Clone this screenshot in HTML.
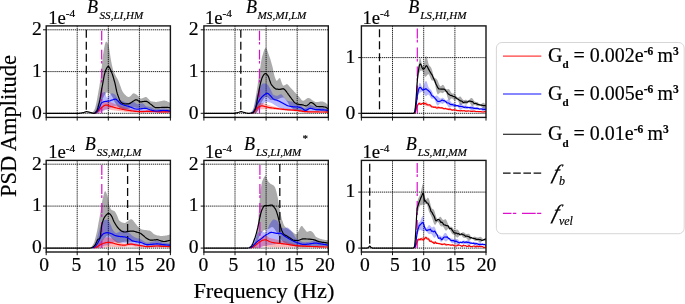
<!DOCTYPE html>
<html lang="en">
<head>
<meta charset="utf-8">
<title>PSD Amplitude vs Frequency</title>
<style>html,body{margin:0;padding:0;background:#fff}svg{display:block;will-change:transform}text{fill:#000;stroke:#000;stroke-width:.18px;font-family:"Liberation Serif","DejaVu Serif",serif}</style>
</head>
<body>
<svg width="685" height="304" viewBox="0 0 685 304">
<rect width="685" height="304" fill="#fff"/>
<g>
<clipPath id="cp0"><rect x="46.2" y="25.9" width="124.2" height="91.5"/></clipPath>
<path d="M77.2 25.9 V117.4 M108.3 25.9 V117.4 M139.4 25.9 V117.4 M46.2 113.3 H170.4 M46.2 71.6 H170.4 M46.2 29.8 H170.4" stroke="#000" stroke-width="0.85" stroke-dasharray="1.35 0.7" fill="none"/>
<g clip-path="url(#cp0)">
<path d="M46.2 113.3 L46.8 113.3 L47.4 113.3 L48.1 113.3 L48.7 113.3 L49.3 113.3 L49.9 113.3 L50.6 113.3 L51.2 113.3 L51.8 113.3 L52.4 113.3 L53.1 113.3 L53.7 113.3 L54.3 113.3 L54.9 113.3 L55.6 113.3 L56.2 113.3 L56.8 113.3 L57.4 113.3 L58.1 113.3 L58.7 113.3 L59.3 113.3 L59.9 113.3 L60.6 113.3 L61.2 113.3 L61.8 113.3 L62.4 113.3 L63.1 113.3 L63.7 113.3 L64.3 113.3 L64.9 113.3 L65.5 113.3 L66.2 113.3 L66.8 113.3 L67.4 113.3 L68 113.3 L68.7 113.3 L69.3 113.3 L69.9 113.3 L70.5 113.3 L71.2 113.3 L71.8 113.3 L72.4 113.3 L73 113.3 L73.7 113.3 L74.3 113.3 L74.9 113.3 L75.5 113.3 L76.2 113.3 L76.8 113.3 L77.4 113.3 L78 113.3 L78.7 113.3 L79.3 113.3 L79.9 113.3 L80.5 113.3 L81.2 113.3 L81.8 113.3 L82.4 113.3 L83 113.3 L83.6 113.3 L84.3 113.3 L84.9 113.3 L85.5 113.3 L86.1 113.3 L86.8 113.3 L87.4 113.3 L88 113.3 L88.6 113.3 L89.3 113.3 L89.9 113.3 L90.5 113.3 L91.1 113.3 L91.8 113.1 L92.4 112.6 L93 111.8 L93.6 110.9 L94.3 109.9 L94.9 108.6 L95.5 106.6 L96.1 103.9 L96.8 100.7 L97.4 97.3 L98 94 L98.6 90.5 L99.3 86.8 L99.9 82.7 L100.5 78.4 L101.1 73.5 L101.7 67.3 L102.4 60.8 L103 55.1 L103.6 51.2 L104.2 47.7 L104.9 44.6 L105.5 42.4 L106.1 41.5 L106.7 41.9 L107.4 42.8 L108 44.1 L108.6 45.7 L109.2 48.6 L109.9 52.9 L110.5 57.3 L111.1 60.8 L111.7 64 L112.4 67 L113 69.4 L113.6 71.3 L114.2 72.8 L114.9 74.1 L115.5 75.3 L116.1 76.4 L116.7 77.5 L117.3 78.6 L118 79.8 L118.6 81.2 L119.2 82.8 L119.8 84.5 L120.5 86.3 L121.1 88.1 L121.7 89.7 L122.3 91.1 L123 92.2 L123.6 93 L124.2 93.7 L124.8 94.4 L125.5 95.1 L126.1 95.7 L126.7 96.2 L127.3 96.6 L128 96.9 L128.6 97.1 L129.2 97 L129.8 96.6 L130.5 96.1 L131.1 95.4 L131.7 94.7 L132.3 94.1 L133 93.6 L133.6 93.3 L134.2 93.4 L134.8 93.6 L135.4 93.9 L136.1 94.3 L136.7 94.8 L137.3 95.3 L137.9 95.8 L138.6 96.6 L139.2 97.4 L139.8 98.1 L140.4 98.5 L141.1 98.5 L141.7 98.4 L142.3 98.2 L142.9 97.9 L143.6 97.7 L144.2 97.4 L144.8 97.2 L145.4 97.1 L146.1 97.1 L146.7 97.3 L147.3 97.8 L147.9 98.4 L148.6 99.1 L149.2 99.8 L149.8 100.4 L150.4 100.9 L151.1 101.2 L151.7 101.4 L152.3 101.5 L152.9 101.6 L153.5 101.7 L154.2 101.8 L154.8 101.8 L155.4 101.9 L156 101.9 L156.7 101.9 L157.3 101.8 L157.9 101.7 L158.5 101.6 L159.2 101.5 L159.8 101.3 L160.4 101.2 L161 101 L161.7 100.9 L162.3 100.8 L162.9 100.7 L163.5 100.6 L164.2 100.6 L164.8 100.6 L165.4 100.7 L166 100.9 L166.7 101.1 L167.3 101.4 L167.9 101.7 L168.5 102 L169.2 102.3 L169.8 102.7 L170.4 103.1 L170.4 112.1 L169.8 112.1 L169.2 112.1 L168.5 112.1 L167.9 112.1 L167.3 112.1 L166.7 112.1 L166 112.1 L165.4 112 L164.8 112 L164.2 112 L163.5 112 L162.9 112 L162.3 112 L161.7 111.9 L161 111.9 L160.4 111.9 L159.8 111.9 L159.2 111.8 L158.5 111.8 L157.9 111.8 L157.3 111.7 L156.7 111.7 L156 111.7 L155.4 111.6 L154.8 111.4 L154.2 111.2 L153.5 111 L152.9 110.7 L152.3 110.5 L151.7 110.2 L151.1 109.9 L150.4 109.7 L149.8 109.4 L149.2 109.3 L148.6 109.2 L147.9 109.1 L147.3 109 L146.7 108.9 L146.1 108.9 L145.4 108.8 L144.8 108.8 L144.2 108.7 L143.6 108.7 L142.9 108.6 L142.3 108.6 L141.7 108.6 L141.1 108.5 L140.4 108.4 L139.8 108.4 L139.2 108.3 L138.6 108.2 L137.9 108.1 L137.3 108 L136.7 107.9 L136.1 107.8 L135.4 107.7 L134.8 107.6 L134.2 107.6 L133.6 107.5 L133 107.5 L132.3 107.6 L131.7 107.7 L131.1 107.8 L130.5 108 L129.8 108.2 L129.2 108.4 L128.6 108.6 L128 108.8 L127.3 109.1 L126.7 109.2 L126.1 109.4 L125.5 109.5 L124.8 109.6 L124.2 109.6 L123.6 109.5 L123 109.4 L122.3 109.2 L121.7 108.9 L121.1 108.6 L120.5 108.2 L119.8 107.8 L119.2 107.4 L118.6 106.9 L118 106.5 L117.3 105.8 L116.7 105.1 L116.1 104.2 L115.5 103.2 L114.9 102.2 L114.2 101.2 L113.6 99.9 L113 98.5 L112.4 97.1 L111.7 95.9 L111.1 94.9 L110.5 94.3 L109.9 93.8 L109.2 93.3 L108.6 92.9 L108 92.6 L107.4 92.5 L106.7 92.5 L106.1 92.9 L105.5 93.7 L104.9 94.7 L104.2 95.8 L103.6 97 L103 98.2 L102.4 99.9 L101.7 102 L101.1 104.1 L100.5 106.1 L99.9 107.8 L99.3 109 L98.6 110.2 L98 111.3 L97.4 112.2 L96.8 112.9 L96.1 113.3 L95.5 113.3 L94.9 113.3 L94.3 113.3 L93.6 113.3 L93 113.3 L92.4 113.3 L91.8 113.3 L91.1 113.3 L90.5 113.3 L89.9 113.3 L89.3 113.3 L88.6 113.3 L88 113.3 L87.4 113.3 L86.8 113.3 L86.1 113.3 L85.5 113.3 L84.9 113.3 L84.3 113.3 L83.6 113.3 L83 113.3 L82.4 113.3 L81.8 113.3 L81.2 113.3 L80.5 113.3 L79.9 113.3 L79.3 113.3 L78.7 113.3 L78 113.3 L77.4 113.3 L76.8 113.3 L76.2 113.3 L75.5 113.3 L74.9 113.3 L74.3 113.3 L73.7 113.3 L73 113.3 L72.4 113.3 L71.8 113.3 L71.2 113.3 L70.5 113.3 L69.9 113.3 L69.3 113.3 L68.7 113.3 L68 113.3 L67.4 113.3 L66.8 113.3 L66.2 113.3 L65.5 113.3 L64.9 113.3 L64.3 113.3 L63.7 113.3 L63.1 113.3 L62.4 113.3 L61.8 113.3 L61.2 113.3 L60.6 113.3 L59.9 113.3 L59.3 113.3 L58.7 113.3 L58.1 113.3 L57.4 113.3 L56.8 113.3 L56.2 113.3 L55.6 113.3 L54.9 113.3 L54.3 113.3 L53.7 113.3 L53.1 113.3 L52.4 113.3 L51.8 113.3 L51.2 113.3 L50.6 113.3 L49.9 113.3 L49.3 113.3 L48.7 113.3 L48.1 113.3 L47.4 113.3 L46.8 113.3 L46.2 113.3 Z" fill="rgba(0,0,0,0.33)"/>
<path d="M46.2 113.3 L46.8 113.3 L47.4 113.3 L48.1 113.3 L48.7 113.3 L49.3 113.3 L49.9 113.3 L50.6 113.3 L51.2 113.3 L51.8 113.3 L52.4 113.3 L53.1 113.3 L53.7 113.3 L54.3 113.3 L54.9 113.3 L55.6 113.3 L56.2 113.3 L56.8 113.3 L57.4 113.3 L58.1 113.3 L58.7 113.3 L59.3 113.3 L59.9 113.3 L60.6 113.3 L61.2 113.3 L61.8 113.3 L62.4 113.3 L63.1 113.3 L63.7 113.3 L64.3 113.3 L64.9 113.3 L65.5 113.3 L66.2 113.3 L66.8 113.3 L67.4 113.3 L68 113.3 L68.7 113.3 L69.3 113.3 L69.9 113.3 L70.5 113.3 L71.2 113.3 L71.8 113.3 L72.4 113.3 L73 113.3 L73.7 113.3 L74.3 113.3 L74.9 113.3 L75.5 113.3 L76.2 113.3 L76.8 113.3 L77.4 113.3 L78 113.3 L78.7 113.3 L79.3 113.3 L79.9 113.3 L80.5 113.3 L81.2 113.3 L81.8 113.3 L82.4 113.3 L83 113.3 L83.6 113.3 L84.3 113.3 L84.9 113.3 L85.5 113.3 L86.1 113.3 L86.8 113.3 L87.4 113.3 L88 113.3 L88.6 113.3 L89.3 113.3 L89.9 113.3 L90.5 113.3 L91.1 113.3 L91.8 113.3 L92.4 113.3 L93 113.3 L93.6 113.3 L94.3 112.8 L94.9 111.9 L95.5 110.7 L96.1 109.5 L96.8 107.7 L97.4 105.5 L98 103.2 L98.6 101 L99.3 99.3 L99.9 97.6 L100.5 96 L101.1 94.7 L101.7 93.7 L102.4 93.1 L103 92.7 L103.6 92.3 L104.2 92.1 L104.9 92.1 L105.5 93.6 L106.1 95.9 L106.7 97.6 L107.4 97.8 L108 97.1 L108.6 96.2 L109.2 95.4 L109.9 94.8 L110.5 94.2 L111.1 93.7 L111.7 93.3 L112.4 93.3 L113 93.5 L113.6 93.8 L114.2 94.1 L114.9 94.5 L115.5 95 L116.1 95.8 L116.7 96.9 L117.3 98 L118 98.9 L118.6 99.4 L119.2 99.7 L119.8 100 L120.5 100.3 L121.1 100.5 L121.7 100.7 L122.3 100.9 L123 101.2 L123.6 101.4 L124.2 101.7 L124.8 101.9 L125.5 102.2 L126.1 102.5 L126.7 102.7 L127.3 102.8 L128 102.9 L128.6 102.9 L129.2 102.8 L129.8 102.6 L130.5 102.4 L131.1 102.1 L131.7 101.9 L132.3 101.7 L133 101.7 L133.6 101.7 L134.2 102 L134.8 102.5 L135.4 103 L136.1 103.5 L136.7 103.9 L137.3 104.2 L137.9 104.1 L138.6 104.1 L139.2 103.9 L139.8 103.8 L140.4 103.6 L141.1 103.5 L141.7 103.4 L142.3 103.3 L142.9 103.4 L143.6 103.9 L144.2 104.5 L144.8 105.2 L145.4 105.8 L146.1 106.2 L146.7 106.4 L147.3 106.5 L147.9 106.6 L148.6 106.7 L149.2 106.8 L149.8 106.9 L150.4 107.1 L151.1 107.2 L151.7 107.5 L152.3 107.8 L152.9 108.1 L153.5 108.4 L154.2 108.7 L154.8 108.9 L155.4 109.1 L156 109.2 L156.7 109.2 L157.3 109.1 L157.9 109.1 L158.5 109 L159.2 108.9 L159.8 108.8 L160.4 108.7 L161 108.7 L161.7 108.6 L162.3 108.6 L162.9 108.5 L163.5 108.6 L164.2 108.6 L164.8 108.6 L165.4 108.7 L166 108.7 L166.7 108.8 L167.3 108.9 L167.9 109 L168.5 109.2 L169.2 109.3 L169.8 109.4 L170.4 109.6 L170.4 112.5 L169.8 112.5 L169.2 112.5 L168.5 112.5 L167.9 112.5 L167.3 112.5 L166.7 112.5 L166 112.5 L165.4 112.5 L164.8 112.5 L164.2 112.5 L163.5 112.5 L162.9 112.5 L162.3 112.5 L161.7 112.5 L161 112.5 L160.4 112.5 L159.8 112.5 L159.2 112.5 L158.5 112.5 L157.9 112.5 L157.3 112.4 L156.7 112.4 L156 112.4 L155.4 112.4 L154.8 112.4 L154.2 112.4 L153.5 112.4 L152.9 112.4 L152.3 112.4 L151.7 112.4 L151.1 112.4 L150.4 112.4 L149.8 112.3 L149.2 112.3 L148.6 112.3 L147.9 112.3 L147.3 112.3 L146.7 112.3 L146.1 112.3 L145.4 112.3 L144.8 112.2 L144.2 112.2 L143.6 112.2 L142.9 112.2 L142.3 112.2 L141.7 112.2 L141.1 112.1 L140.4 112.1 L139.8 112.1 L139.2 112.1 L138.6 112.1 L137.9 112 L137.3 112 L136.7 111.9 L136.1 111.8 L135.4 111.7 L134.8 111.6 L134.2 111.5 L133.6 111.4 L133 111.3 L132.3 111.2 L131.7 111 L131.1 110.9 L130.5 110.8 L129.8 110.6 L129.2 110.5 L128.6 110.4 L128 110.3 L127.3 110.1 L126.7 110 L126.1 109.8 L125.5 109.7 L124.8 109.5 L124.2 109.4 L123.6 109.2 L123 109 L122.3 108.8 L121.7 108.6 L121.1 108.5 L120.5 108.3 L119.8 108 L119.2 107.7 L118.6 107.4 L118 107 L117.3 106.7 L116.7 106.5 L116.1 106.3 L115.5 106.3 L114.9 106.3 L114.2 106.4 L113.6 106.6 L113 106.8 L112.4 107.1 L111.7 107.5 L111.1 107.8 L110.5 108.1 L109.9 108.5 L109.2 108.8 L108.6 109.1 L108 109.3 L107.4 109.5 L106.7 109.7 L106.1 109.9 L105.5 110.1 L104.9 110.3 L104.2 110.5 L103.6 110.7 L103 110.9 L102.4 111.2 L101.7 111.4 L101.1 111.8 L100.5 112.2 L99.9 112.5 L99.3 112.9 L98.6 113.2 L98 113.3 L97.4 113.3 L96.8 113.3 L96.1 113.3 L95.5 113.3 L94.9 113.3 L94.3 113.3 L93.6 113.3 L93 113.3 L92.4 113.3 L91.8 113.3 L91.1 113.3 L90.5 113.3 L89.9 113.3 L89.3 113.3 L88.6 113.3 L88 113.3 L87.4 113.3 L86.8 113.3 L86.1 113.3 L85.5 113.3 L84.9 113.3 L84.3 113.3 L83.6 113.3 L83 113.3 L82.4 113.3 L81.8 113.3 L81.2 113.3 L80.5 113.3 L79.9 113.3 L79.3 113.3 L78.7 113.3 L78 113.3 L77.4 113.3 L76.8 113.3 L76.2 113.3 L75.5 113.3 L74.9 113.3 L74.3 113.3 L73.7 113.3 L73 113.3 L72.4 113.3 L71.8 113.3 L71.2 113.3 L70.5 113.3 L69.9 113.3 L69.3 113.3 L68.7 113.3 L68 113.3 L67.4 113.3 L66.8 113.3 L66.2 113.3 L65.5 113.3 L64.9 113.3 L64.3 113.3 L63.7 113.3 L63.1 113.3 L62.4 113.3 L61.8 113.3 L61.2 113.3 L60.6 113.3 L59.9 113.3 L59.3 113.3 L58.7 113.3 L58.1 113.3 L57.4 113.3 L56.8 113.3 L56.2 113.3 L55.6 113.3 L54.9 113.3 L54.3 113.3 L53.7 113.3 L53.1 113.3 L52.4 113.3 L51.8 113.3 L51.2 113.3 L50.6 113.3 L49.9 113.3 L49.3 113.3 L48.7 113.3 L48.1 113.3 L47.4 113.3 L46.8 113.3 L46.2 113.3 Z" fill="rgba(0,0,255,0.28)"/>
<path d="M46.2 113.3 L46.8 113.3 L47.4 113.3 L48.1 113.3 L48.7 113.3 L49.3 113.3 L49.9 113.3 L50.6 113.3 L51.2 113.3 L51.8 113.3 L52.4 113.3 L53.1 113.3 L53.7 113.3 L54.3 113.3 L54.9 113.3 L55.6 113.3 L56.2 113.3 L56.8 113.3 L57.4 113.3 L58.1 113.3 L58.7 113.3 L59.3 113.3 L59.9 113.3 L60.6 113.3 L61.2 113.3 L61.8 113.3 L62.4 113.3 L63.1 113.3 L63.7 113.3 L64.3 113.3 L64.9 113.3 L65.5 113.3 L66.2 113.3 L66.8 113.3 L67.4 113.3 L68 113.3 L68.7 113.3 L69.3 113.3 L69.9 113.3 L70.5 113.3 L71.2 113.3 L71.8 113.3 L72.4 113.3 L73 113.3 L73.7 113.3 L74.3 113.3 L74.9 113.3 L75.5 113.3 L76.2 113.3 L76.8 113.3 L77.4 113.3 L78 113.3 L78.7 113.3 L79.3 113.3 L79.9 113.3 L80.5 113.3 L81.2 113.3 L81.8 113.3 L82.4 113.3 L83 113.3 L83.6 113.3 L84.3 113.3 L84.9 113.3 L85.5 113.3 L86.1 113.3 L86.8 113.3 L87.4 113.3 L88 113.3 L88.6 113.3 L89.3 113.3 L89.9 113.3 L90.5 113.3 L91.1 113.3 L91.8 113.3 L92.4 113.3 L93 113.3 L93.6 113.3 L94.3 113.1 L94.9 112.7 L95.5 112.2 L96.1 111.6 L96.8 111 L97.4 110.2 L98 109.2 L98.6 108.2 L99.3 107.2 L99.9 106.3 L100.5 105.4 L101.1 104.5 L101.7 103.6 L102.4 102.9 L103 102.3 L103.6 101.9 L104.2 101.6 L104.9 101.3 L105.5 101.1 L106.1 100.9 L106.7 100.8 L107.4 100.8 L108 101 L108.6 101.2 L109.2 101.4 L109.9 101.8 L110.5 102.1 L111.1 102.4 L111.7 102.6 L112.4 102.9 L113 103.2 L113.6 103.4 L114.2 103.7 L114.9 104 L115.5 104.2 L116.1 104.5 L116.7 104.7 L117.3 104.9 L118 105.2 L118.6 105.4 L119.2 105.6 L119.8 105.8 L120.5 106 L121.1 106.2 L121.7 106.4 L122.3 106.6 L123 106.8 L123.6 107 L124.2 107.2 L124.8 107.3 L125.5 107.5 L126.1 107.7 L126.7 107.8 L127.3 108 L128 108.1 L128.6 108.3 L129.2 108.4 L129.8 108.6 L130.5 108.7 L131.1 108.9 L131.7 109 L132.3 109.2 L133 109.3 L133.6 109.5 L134.2 109.6 L134.8 109.7 L135.4 109.9 L136.1 110 L136.7 110.1 L137.3 110.2 L137.9 110.3 L138.6 110.3 L139.2 110.4 L139.8 110.4 L140.4 110.4 L141.1 110.4 L141.7 110.4 L142.3 110.4 L142.9 110.4 L143.6 110.3 L144.2 110.3 L144.8 110.3 L145.4 110.2 L146.1 110.2 L146.7 110.1 L147.3 110.1 L147.9 110.1 L148.6 110.1 L149.2 110 L149.8 110 L150.4 110 L151.1 110 L151.7 110 L152.3 110.1 L152.9 110.1 L153.5 110.2 L154.2 110.3 L154.8 110.3 L155.4 110.4 L156 110.5 L156.7 110.6 L157.3 110.6 L157.9 110.7 L158.5 110.8 L159.2 110.8 L159.8 110.8 L160.4 110.8 L161 110.8 L161.7 110.8 L162.3 110.8 L162.9 110.8 L163.5 110.8 L164.2 110.8 L164.8 110.8 L165.4 110.8 L166 110.8 L166.7 110.8 L167.3 110.8 L167.9 110.8 L168.5 110.7 L169.2 110.7 L169.8 110.7 L170.4 110.6 L170.4 112.7 L169.8 112.7 L169.2 112.7 L168.5 112.7 L167.9 112.7 L167.3 112.7 L166.7 112.7 L166 112.7 L165.4 112.7 L164.8 112.7 L164.2 112.7 L163.5 112.7 L162.9 112.7 L162.3 112.7 L161.7 112.7 L161 112.7 L160.4 112.7 L159.8 112.7 L159.2 112.7 L158.5 112.7 L157.9 112.7 L157.3 112.7 L156.7 112.7 L156 112.7 L155.4 112.7 L154.8 112.7 L154.2 112.7 L153.5 112.7 L152.9 112.7 L152.3 112.7 L151.7 112.7 L151.1 112.7 L150.4 112.7 L149.8 112.7 L149.2 112.7 L148.6 112.7 L147.9 112.7 L147.3 112.7 L146.7 112.6 L146.1 112.6 L145.4 112.6 L144.8 112.6 L144.2 112.6 L143.6 112.6 L142.9 112.6 L142.3 112.6 L141.7 112.6 L141.1 112.6 L140.4 112.6 L139.8 112.6 L139.2 112.6 L138.6 112.6 L137.9 112.6 L137.3 112.6 L136.7 112.6 L136.1 112.5 L135.4 112.5 L134.8 112.5 L134.2 112.5 L133.6 112.5 L133 112.5 L132.3 112.5 L131.7 112.5 L131.1 112.4 L130.5 112.4 L129.8 112.3 L129.2 112.3 L128.6 112.2 L128 112.2 L127.3 112.1 L126.7 112 L126.1 111.9 L125.5 111.9 L124.8 111.8 L124.2 111.7 L123.6 111.6 L123 111.5 L122.3 111.5 L121.7 111.4 L121.1 111.3 L120.5 111.2 L119.8 111.2 L119.2 111.1 L118.6 111 L118 110.9 L117.3 110.8 L116.7 110.8 L116.1 110.7 L115.5 110.6 L114.9 110.5 L114.2 110.4 L113.6 110.3 L113 110.2 L112.4 110.2 L111.7 110.1 L111.1 110 L110.5 109.8 L109.9 109.7 L109.2 109.6 L108.6 109.4 L108 109.3 L107.4 109.2 L106.7 109.2 L106.1 109.2 L105.5 109.3 L104.9 109.5 L104.2 109.8 L103.6 110.1 L103 110.4 L102.4 110.7 L101.7 111 L101.1 111.3 L100.5 111.6 L99.9 111.9 L99.3 112.3 L98.6 112.6 L98 112.9 L97.4 113.1 L96.8 113.3 L96.1 113.3 L95.5 113.3 L94.9 113.3 L94.3 113.3 L93.6 113.3 L93 113.3 L92.4 113.3 L91.8 113.3 L91.1 113.3 L90.5 113.3 L89.9 113.3 L89.3 113.3 L88.6 113.3 L88 113.3 L87.4 113.3 L86.8 113.3 L86.1 113.3 L85.5 113.3 L84.9 113.3 L84.3 113.3 L83.6 113.3 L83 113.3 L82.4 113.3 L81.8 113.3 L81.2 113.3 L80.5 113.3 L79.9 113.3 L79.3 113.3 L78.7 113.3 L78 113.3 L77.4 113.3 L76.8 113.3 L76.2 113.3 L75.5 113.3 L74.9 113.3 L74.3 113.3 L73.7 113.3 L73 113.3 L72.4 113.3 L71.8 113.3 L71.2 113.3 L70.5 113.3 L69.9 113.3 L69.3 113.3 L68.7 113.3 L68 113.3 L67.4 113.3 L66.8 113.3 L66.2 113.3 L65.5 113.3 L64.9 113.3 L64.3 113.3 L63.7 113.3 L63.1 113.3 L62.4 113.3 L61.8 113.3 L61.2 113.3 L60.6 113.3 L59.9 113.3 L59.3 113.3 L58.7 113.3 L58.1 113.3 L57.4 113.3 L56.8 113.3 L56.2 113.3 L55.6 113.3 L54.9 113.3 L54.3 113.3 L53.7 113.3 L53.1 113.3 L52.4 113.3 L51.8 113.3 L51.2 113.3 L50.6 113.3 L49.9 113.3 L49.3 113.3 L48.7 113.3 L48.1 113.3 L47.4 113.3 L46.8 113.3 L46.2 113.3 Z" fill="rgba(255,0,0,0.28)"/>
<path d="M86.3 29.7 V113.3" stroke="#0a0a0a" stroke-width="1.3" stroke-dasharray="8 4" fill="none"/>
<path d="M101.7 30.7 V113.3" stroke="#d810c8" stroke-width="1.2" stroke-dasharray="9.8 1.4 2.6 5.2" fill="none"/>
<path d="M94.9 113.2 L95.5 113 L96.1 112.7 L96.8 112.4 L97.4 111.9 L98 111.4 L98.6 110.8 L99.3 110.2 L99.9 109.5 L100.5 108.7 L101.1 108 L101.7 107.4 L102.4 106.9 L103 106.4 L103.6 106 L104.2 105.6 L104.9 105.3 L105.5 105.1 L106.1 105 L106.7 105.1 L107.4 105.2 L108 105.4 L108.6 105.7 L109.2 105.9 L109.9 106.2 L110.5 106.3 L111.1 106.5 L111.7 106.7 L112.4 106.9 L113 107.1 L113.6 107.2 L114.2 107.4 L114.9 107.6 L115.5 107.7 L116.1 107.9 L116.7 108 L117.3 108.2 L118 108.3 L118.6 108.5 L119.2 108.6 L119.8 108.7 L120.5 108.9 L121.1 109 L121.7 109.2 L122.3 109.3 L123 109.4 L123.6 109.5 L124.2 109.7 L124.8 109.8 L125.5 109.9 L126.1 110 L126.7 110.1 L127.3 110.2 L128 110.3 L128.6 110.4 L129.2 110.5 L129.8 110.6 L130.5 110.7 L131.1 110.8 L131.7 110.8 L132.3 110.9 L133 111 L133.6 111.1 L134.2 111.2 L134.8 111.3 L135.4 111.3 L136.1 111.4 L136.7 111.5 L137.3 111.5 L137.9 111.6 L138.6 111.6 L139.2 111.7 L139.8 111.7 L140.4 111.7 L141.1 111.7 L141.7 111.7 L142.3 111.6 L142.9 111.6 L143.6 111.6 L144.2 111.6 L144.8 111.5 L145.4 111.5 L146.1 111.4 L146.7 111.4 L147.3 111.4 L147.9 111.3 L148.6 111.3 L149.2 111.3 L149.8 111.3 L150.4 111.3 L151.1 111.3 L151.7 111.3 L152.3 111.3 L152.9 111.3 L153.5 111.4 L154.2 111.4 L154.8 111.5 L155.4 111.5 L156 111.6 L156.7 111.7 L157.3 111.7 L157.9 111.8 L158.5 111.8 L159.2 111.8 L159.8 111.8 L160.4 111.8 L161 111.8 L161.7 111.8 L162.3 111.8 L162.9 111.8 L163.5 111.8 L164.2 111.8 L164.8 111.8 L165.4 111.8 L166 111.8 L166.7 111.8 L167.3 111.8 L167.9 111.8 L168.5 111.8 L169.2 111.7 L169.8 111.7 L170.4 111.7" stroke="#f00" stroke-width="1.2" fill="none" stroke-linejoin="round"/>
<path d="M94.3 113.2 L94.9 113 L95.5 112.7 L96.1 112.3 L96.8 111.9 L97.4 111.1 L98 110.1 L98.6 109 L99.3 107.9 L99.9 106.5 L100.5 105.1 L101.1 103.8 L101.7 102.8 L102.4 102.3 L103 102.1 L103.6 101.8 L104.2 101.6 L104.9 101.5 L105.5 101.4 L106.1 101.3 L106.7 101.3 L107.4 101.2 L108 101.2 L108.6 101.1 L109.2 101 L109.9 100.8 L110.5 100.6 L111.1 100.3 L111.7 100.1 L112.4 99.9 L113 99.7 L113.6 99.5 L114.2 99.3 L114.9 99.2 L115.5 99.2 L116.1 99.3 L116.7 99.8 L117.3 100.4 L118 101 L118.6 101.6 L119.2 102.3 L119.8 103 L120.5 103.6 L121.1 103.9 L121.7 104.3 L122.3 104.5 L123 104.8 L123.6 105 L124.2 105.2 L124.8 105.4 L125.5 105.5 L126.1 105.7 L126.7 105.9 L127.3 106 L128 106.2 L128.6 106.4 L129.2 106.6 L129.8 106.8 L130.5 107.1 L131.1 107.3 L131.7 107.6 L132.3 107.8 L133 108.1 L133.6 108.3 L134.2 108.6 L134.8 108.8 L135.4 108.9 L136.1 109 L136.7 109.1 L137.3 109.2 L137.9 109.2 L138.6 109.1 L139.2 109.1 L139.8 109 L140.4 108.9 L141.1 108.8 L141.7 108.7 L142.3 108.6 L142.9 108.5 L143.6 108.5 L144.2 108.4 L144.8 108.4 L145.4 108.3 L146.1 108.4 L146.7 108.5 L147.3 108.7 L147.9 109 L148.6 109.3 L149.2 109.5 L149.8 109.8 L150.4 110 L151.1 110.1 L151.7 110.3 L152.3 110.5 L152.9 110.6 L153.5 110.7 L154.2 110.9 L154.8 111 L155.4 111 L156 111.1 L156.7 111 L157.3 111 L157.9 111 L158.5 110.9 L159.2 110.8 L159.8 110.8 L160.4 110.7 L161 110.6 L161.7 110.6 L162.3 110.5 L162.9 110.5 L163.5 110.5 L164.2 110.5 L164.8 110.5 L165.4 110.6 L166 110.6 L166.7 110.6 L167.3 110.7 L167.9 110.7 L168.5 110.8 L169.2 110.9 L169.8 111 L170.4 111.1" stroke="#00f" stroke-width="1.2" fill="none" stroke-linejoin="round"/>
<path d="M46.2 113.3 L46.8 113.3 L47.4 113.3 L48.1 113.3 L48.7 113.3 L49.3 113.3 L49.9 113.3 L50.6 113.3 L51.2 113.3 L51.8 113.3 L52.4 113.3 L53.1 113.3 L53.7 113.3 L54.3 113.3 L54.9 113.3 L55.6 113.3 L56.2 113.3 L56.8 113.3 L57.4 113.3 L58.1 113.3 L58.7 113.3 L59.3 113.3 L59.9 113.3 L60.6 113.3 L61.2 113.3 L61.8 113.3 L62.4 113.3 L63.1 113.3 L63.7 113.3 L64.3 113.3 L64.9 113.3 L65.5 113.3 L66.2 113.3 L66.8 113.3 L67.4 113.3 L68 113.3 L68.7 113.3 L69.3 113.3 L69.9 113.3 L70.5 113.3 L71.2 113.3 L71.8 113.3 L72.4 113.3 L73 113.3 L73.7 113.3 L74.3 113.3 L74.9 113.3 L75.5 113.3 L76.2 113.3 L76.8 113.3 L77.4 113.3 L78 113.3 L78.7 113.3 L79.3 113.3 L79.9 113.2 L80.5 113.1 L81.2 113 L81.8 112.9 L82.4 112.8 L83 112.6 L83.6 112.5 L84.3 112.3 L84.9 112.1 L85.5 111.9 L86.1 111.7 L86.8 111.7 L87.4 111.8 L88 111.9 L88.6 112.1 L89.3 112.2 L89.9 112.4 L90.5 112.6 L91.1 112.7 L91.8 112.9 L92.4 113.1 L93 113.2 L93.6 113.3 L94.3 113.3 L94.9 113 L95.5 112.5 L96.1 111.7 L96.8 110.9 L97.4 109.4 L98 107.5 L98.6 105.1 L99.3 102.7 L99.9 99.9 L100.5 96.4 L101.1 92.7 L101.7 89 L102.4 85.5 L103 82.2 L103.6 78.8 L104.2 75.5 L104.9 72.8 L105.5 70.8 L106.1 69.4 L106.7 68.1 L107.4 67 L108 66.5 L108.6 66.5 L109.2 67.2 L109.9 68.4 L110.5 69.7 L111.1 71 L111.7 72.6 L112.4 74.4 L113 76.3 L113.6 78.3 L114.2 80.5 L114.9 82.9 L115.5 85.7 L116.1 88.6 L116.7 91.4 L117.3 93.7 L118 95.6 L118.6 97.3 L119.2 98.9 L119.8 100.4 L120.5 101.5 L121.1 102.3 L121.7 102.7 L122.3 103.1 L123 103.4 L123.6 103.7 L124.2 103.9 L124.8 103.9 L125.5 104 L126.1 103.9 L126.7 103.9 L127.3 103.9 L128 103.8 L128.6 103.8 L129.2 103.7 L129.8 103.4 L130.5 103.1 L131.1 102.6 L131.7 102.2 L132.3 101.7 L133 101.3 L133.6 101 L134.2 100.6 L134.8 100.2 L135.4 99.9 L136.1 99.8 L136.7 99.8 L137.3 100.1 L137.9 100.5 L138.6 100.9 L139.2 101.4 L139.8 101.7 L140.4 101.9 L141.1 101.9 L141.7 101.8 L142.3 101.7 L142.9 101.6 L143.6 101.5 L144.2 101.4 L144.8 101.3 L145.4 101.3 L146.1 101.3 L146.7 101.4 L147.3 101.7 L147.9 102.1 L148.6 102.5 L149.2 103 L149.8 103.6 L150.4 104.1 L151.1 104.5 L151.7 104.9 L152.3 105.4 L152.9 106 L153.5 106.5 L154.2 106.9 L154.8 107.3 L155.4 107.6 L156 107.7 L156.7 107.7 L157.3 107.7 L157.9 107.7 L158.5 107.6 L159.2 107.6 L159.8 107.5 L160.4 107.5 L161 107.5 L161.7 107.4 L162.3 107.4 L162.9 107.3 L163.5 107.3 L164.2 107.3 L164.8 107.3 L165.4 107.3 L166 107.3 L166.7 107.4 L167.3 107.4 L167.9 107.4 L168.5 107.5 L169.2 107.6 L169.8 107.6 L170.4 107.7" stroke="#000" stroke-width="1.2" fill="none" stroke-linejoin="round"/>
</g>
<rect x="46.2" y="25.9" width="124.2" height="91.5" fill="none" stroke="#161616" stroke-width="1.4"/>
<path d="M46.2 117.4 v3.2 M77.2 117.4 v3.2 M108.3 117.4 v3.2 M139.4 117.4 v3.2 M170.4 117.4 v3.2 M46.2 113.3 h-3.2 M46.2 71.6 h-3.2 M46.2 29.8 h-3.2" stroke="#111" stroke-width="1" fill="none"/>
</g>
<g>
<clipPath id="cp1"><rect x="203.9" y="25.9" width="124.4" height="91.5"/></clipPath>
<path d="M235 25.9 V117.4 M266.1 25.9 V117.4 M297.2 25.9 V117.4 M203.9 113.3 H328.3 M203.9 71.6 H328.3 M203.9 29.8 H328.3" stroke="#000" stroke-width="0.85" stroke-dasharray="1.35 0.7" fill="none"/>
<g clip-path="url(#cp1)">
<path d="M203.9 113.3 L204.5 113.3 L205.2 113.3 L205.8 113.3 L206.4 113.3 L207 113.3 L207.7 113.3 L208.3 113.3 L208.9 113.3 L209.5 113.3 L210.2 113.3 L210.8 113.3 L211.4 113.3 L212 113.3 L212.7 113.3 L213.3 113.3 L213.9 113.3 L214.5 113.3 L215.2 113.3 L215.8 113.3 L216.4 113.3 L217 113.3 L217.7 113.3 L218.3 113.3 L218.9 113.3 L219.5 113.3 L220.2 113.3 L220.8 113.3 L221.4 113.3 L222 113.3 L222.7 113.3 L223.3 113.3 L223.9 113.3 L224.5 113.3 L225.2 113.3 L225.8 113.3 L226.4 113.3 L227 113.3 L227.7 113.3 L228.3 113.3 L228.9 113.3 L229.5 113.3 L230.2 113.3 L230.8 113.3 L231.4 113.3 L232 113.3 L232.7 113.3 L233.3 113.3 L233.9 113.3 L234.5 113.3 L235.2 113.3 L235.8 113.3 L236.4 113.3 L237 113.3 L237.7 113.3 L238.3 113.3 L238.9 113.3 L239.5 113.3 L240.2 113.3 L240.8 113.3 L241.4 113.3 L242 113.3 L242.7 113.3 L243.3 113.3 L243.9 113.3 L244.5 113.3 L245.2 113.3 L245.8 113.3 L246.4 113.3 L247 113.3 L247.7 113.3 L248.3 113.3 L248.9 113.3 L249.5 113.3 L250.2 113.1 L250.8 112.6 L251.4 111.8 L252 110.9 L252.7 109.9 L253.3 108.6 L253.9 106.5 L254.5 103.6 L255.2 100.2 L255.8 96.6 L256.4 93.1 L257 89 L257.7 84.7 L258.3 80.2 L258.9 75.9 L259.5 71.9 L260.2 67.8 L260.8 63.8 L261.4 60 L262 57 L262.7 54.8 L263.3 52.7 L263.9 50.8 L264.5 49.2 L265.2 48.2 L265.8 47.8 L266.4 48.3 L267 49.6 L267.7 51.4 L268.3 53.2 L268.9 54.9 L269.5 56.7 L270.2 58.6 L270.8 60.7 L271.4 62.8 L272 65.1 L272.7 67.6 L273.3 70.6 L273.9 73.6 L274.5 75.9 L275.2 77.9 L275.8 79.6 L276.4 80.7 L277 80.7 L277.7 80.1 L278.3 79.2 L278.9 78.4 L279.5 77.9 L280.2 78.2 L280.8 79.9 L281.4 81.8 L282 83.5 L282.7 85.1 L283.3 85.8 L283.9 85.6 L284.5 85.3 L285.2 84.9 L285.8 84.5 L286.4 84.2 L287 84.1 L287.7 84.4 L288.3 85 L288.9 85.7 L289.5 86.5 L290.2 87.3 L290.8 87.9 L291.4 88.6 L292 89.2 L292.7 89.9 L293.3 90.6 L293.9 91.3 L294.5 92 L295.2 92.6 L295.8 93.3 L296.4 93.9 L297 94.6 L297.7 95.2 L298.3 95.9 L298.9 96.5 L299.5 97.2 L300.2 98 L300.8 98.9 L301.4 99.7 L302 100.3 L302.7 100.7 L303.3 100.8 L303.9 100.6 L304.5 100.2 L305.2 99.7 L305.8 99.2 L306.4 98.8 L307 98.4 L307.7 98.1 L308.3 97.9 L308.9 98 L309.5 98.2 L310.2 98.6 L310.8 99 L311.4 99.5 L312 100 L312.7 100.4 L313.3 100.8 L313.9 101.2 L314.5 101.6 L315.2 101.9 L315.8 102.1 L316.4 102.1 L317 102 L317.7 101.9 L318.3 101.9 L318.9 101.8 L319.5 101.7 L320.2 101.6 L320.8 101.5 L321.4 101.5 L322 101.5 L322.7 101.5 L323.3 101.7 L323.9 101.9 L324.5 102.2 L325.2 102.5 L325.8 102.9 L326.4 103.4 L327 104 L327.7 104.7 L328.3 105.4 L328.3 112.5 L327.7 112.3 L327 112.1 L326.4 112 L325.8 111.8 L325.2 111.6 L324.5 111.5 L323.9 111.4 L323.3 111.3 L322.7 111.2 L322 111.1 L321.4 111 L320.8 111 L320.2 110.9 L319.5 110.9 L318.9 110.8 L318.3 110.8 L317.7 110.7 L317 110.6 L316.4 110.5 L315.8 110.4 L315.2 110.2 L314.5 109.9 L313.9 109.6 L313.3 109.2 L312.7 108.9 L312 108.6 L311.4 108.4 L310.8 108.3 L310.2 108.5 L309.5 109 L308.9 109.6 L308.3 110.3 L307.7 111 L307 111.6 L306.4 112 L305.8 112.1 L305.2 112.1 L304.5 112.1 L303.9 112 L303.3 112 L302.7 111.9 L302 111.8 L301.4 111.7 L300.8 111.6 L300.2 111.5 L299.5 111.4 L298.9 111.2 L298.3 111.1 L297.7 111 L297 110.8 L296.4 110.6 L295.8 110.4 L295.2 110.2 L294.5 109.9 L293.9 109.5 L293.3 109.2 L292.7 108.8 L292 108.3 L291.4 107.9 L290.8 107.3 L290.2 106.6 L289.5 105.6 L288.9 104.6 L288.3 103.4 L287.7 102.3 L287 101.4 L286.4 100.6 L285.8 99.8 L285.2 99 L284.5 98.2 L283.9 97.7 L283.3 97.5 L282.7 97.5 L282 97.6 L281.4 97.8 L280.8 98.1 L280.2 98.3 L279.5 98.6 L278.9 98.9 L278.3 99.1 L277.7 99.4 L277 99.5 L276.4 99.6 L275.8 99.7 L275.2 99.7 L274.5 99.8 L273.9 99.9 L273.3 99.9 L272.7 99.9 L272 100 L271.4 100 L270.8 100 L270.2 99.7 L269.5 99.2 L268.9 98.6 L268.3 98 L267.7 97.4 L267 97 L266.4 96.7 L265.8 96.7 L265.2 97 L264.5 97.7 L263.9 98.5 L263.3 99.4 L262.7 100.4 L262 101.4 L261.4 102.7 L260.8 104.3 L260.2 105.9 L259.5 107.4 L258.9 108.7 L258.3 109.7 L257.7 110.7 L257 111.6 L256.4 112.4 L255.8 113 L255.2 113.3 L254.5 113.3 L253.9 113.3 L253.3 113.3 L252.7 113.3 L252 113.3 L251.4 113.3 L250.8 113.3 L250.2 113.3 L249.5 113.3 L248.9 113.3 L248.3 113.3 L247.7 113.3 L247 113.3 L246.4 113.3 L245.8 113.3 L245.2 113.3 L244.5 113.3 L243.9 113.3 L243.3 113.3 L242.7 113.3 L242 113.3 L241.4 113.3 L240.8 113.3 L240.2 113.3 L239.5 113.3 L238.9 113.3 L238.3 113.3 L237.7 113.3 L237 113.3 L236.4 113.3 L235.8 113.3 L235.2 113.3 L234.5 113.3 L233.9 113.3 L233.3 113.3 L232.7 113.3 L232 113.3 L231.4 113.3 L230.8 113.3 L230.2 113.3 L229.5 113.3 L228.9 113.3 L228.3 113.3 L227.7 113.3 L227 113.3 L226.4 113.3 L225.8 113.3 L225.2 113.3 L224.5 113.3 L223.9 113.3 L223.3 113.3 L222.7 113.3 L222 113.3 L221.4 113.3 L220.8 113.3 L220.2 113.3 L219.5 113.3 L218.9 113.3 L218.3 113.3 L217.7 113.3 L217 113.3 L216.4 113.3 L215.8 113.3 L215.2 113.3 L214.5 113.3 L213.9 113.3 L213.3 113.3 L212.7 113.3 L212 113.3 L211.4 113.3 L210.8 113.3 L210.2 113.3 L209.5 113.3 L208.9 113.3 L208.3 113.3 L207.7 113.3 L207 113.3 L206.4 113.3 L205.8 113.3 L205.2 113.3 L204.5 113.3 L203.9 113.3 Z" fill="rgba(0,0,0,0.33)"/>
<path d="M203.9 113.3 L204.5 113.3 L205.2 113.3 L205.8 113.3 L206.4 113.3 L207 113.3 L207.7 113.3 L208.3 113.3 L208.9 113.3 L209.5 113.3 L210.2 113.3 L210.8 113.3 L211.4 113.3 L212 113.3 L212.7 113.3 L213.3 113.3 L213.9 113.3 L214.5 113.3 L215.2 113.3 L215.8 113.3 L216.4 113.3 L217 113.3 L217.7 113.3 L218.3 113.3 L218.9 113.3 L219.5 113.3 L220.2 113.3 L220.8 113.3 L221.4 113.3 L222 113.3 L222.7 113.3 L223.3 113.3 L223.9 113.3 L224.5 113.3 L225.2 113.3 L225.8 113.3 L226.4 113.3 L227 113.3 L227.7 113.3 L228.3 113.3 L228.9 113.3 L229.5 113.3 L230.2 113.3 L230.8 113.3 L231.4 113.3 L232 113.3 L232.7 113.3 L233.3 113.3 L233.9 113.3 L234.5 113.3 L235.2 113.3 L235.8 113.3 L236.4 113.3 L237 113.3 L237.7 113.3 L238.3 113.3 L238.9 113.3 L239.5 113.3 L240.2 113.3 L240.8 113.3 L241.4 113.3 L242 113.3 L242.7 113.3 L243.3 113.3 L243.9 113.3 L244.5 113.3 L245.2 113.3 L245.8 113.3 L246.4 113.3 L247 113.3 L247.7 113.3 L248.3 113.3 L248.9 113.3 L249.5 113.3 L250.2 113.3 L250.8 113.3 L251.4 112.9 L252 112.2 L252.7 111.1 L253.3 109.9 L253.9 108.6 L254.5 106.3 L255.2 103.3 L255.8 100.1 L256.4 97.2 L257 94.9 L257.7 93 L258.3 91.2 L258.9 89.5 L259.5 88.1 L260.2 87 L260.8 85.8 L261.4 84.7 L262 83.9 L262.7 83.4 L263.3 83.3 L263.9 83.4 L264.5 83.5 L265.2 83.6 L265.8 83.8 L266.4 84 L267 84.3 L267.7 84.8 L268.3 85.6 L268.9 86.6 L269.5 87.6 L270.2 88.7 L270.8 89.7 L271.4 91.1 L272 92.6 L272.7 93.9 L273.3 94.8 L273.9 95.1 L274.5 95.3 L275.2 95.5 L275.8 95.7 L276.4 95.8 L277 95.8 L277.7 95.8 L278.3 95.5 L278.9 95.1 L279.5 94.7 L280.2 94.4 L280.8 94.2 L281.4 94.2 L282 94.8 L282.7 95.5 L283.3 96.4 L283.9 97.2 L284.5 97.9 L285.2 98.6 L285.8 99.2 L286.4 99.9 L287 100.4 L287.7 100.7 L288.3 100.9 L288.9 101.1 L289.5 101.2 L290.2 101.3 L290.8 101.4 L291.4 101.5 L292 101.6 L292.7 101.8 L293.3 102.3 L293.9 102.8 L294.5 103.3 L295.2 103.8 L295.8 104.1 L296.4 104.3 L297 104.4 L297.7 104.6 L298.3 104.7 L298.9 104.8 L299.5 105 L300.2 105.2 L300.8 105.6 L301.4 106.2 L302 106.8 L302.7 107.3 L303.3 107.8 L303.9 108.2 L304.5 108.3 L305.2 108.3 L305.8 108 L306.4 107.6 L307 107 L307.7 106.5 L308.3 105.9 L308.9 105.5 L309.5 105.1 L310.2 105 L310.8 105 L311.4 105.2 L312 105.4 L312.7 105.7 L313.3 106 L313.9 106.3 L314.5 106.6 L315.2 106.9 L315.8 107.1 L316.4 107.2 L317 107.3 L317.7 107.4 L318.3 107.5 L318.9 107.5 L319.5 107.6 L320.2 107.7 L320.8 107.7 L321.4 107.8 L322 107.9 L322.7 108 L323.3 108.1 L323.9 108.2 L324.5 108.4 L325.2 108.5 L325.8 108.6 L326.4 108.8 L327 108.9 L327.7 109 L328.3 109.2 L328.3 112.1 L327.7 112 L327 111.9 L326.4 111.9 L325.8 111.8 L325.2 111.7 L324.5 111.7 L323.9 111.6 L323.3 111.6 L322.7 111.5 L322 111.5 L321.4 111.5 L320.8 111.4 L320.2 111.4 L319.5 111.4 L318.9 111.4 L318.3 111.3 L317.7 111.3 L317 111.3 L316.4 111.3 L315.8 111.3 L315.2 111.3 L314.5 111.3 L313.9 111.3 L313.3 111.3 L312.7 111.3 L312 111.3 L311.4 111.3 L310.8 111.3 L310.2 111.3 L309.5 111.3 L308.9 111.4 L308.3 111.6 L307.7 111.7 L307 111.9 L306.4 112 L305.8 112.1 L305.2 112.1 L304.5 112 L303.9 111.9 L303.3 111.7 L302.7 111.5 L302 111.3 L301.4 111.1 L300.8 110.9 L300.2 110.8 L299.5 110.8 L298.9 110.8 L298.3 110.7 L297.7 110.7 L297 110.7 L296.4 110.6 L295.8 110.6 L295.2 110.6 L294.5 110.6 L293.9 110.6 L293.3 110.5 L292.7 110.5 L292 110.5 L291.4 110.5 L290.8 110.4 L290.2 110.4 L289.5 110.3 L288.9 110.2 L288.3 110.1 L287.7 110.1 L287 110 L286.4 109.9 L285.8 109.7 L285.2 109.6 L284.5 109.5 L283.9 109.3 L283.3 109.2 L282.7 109 L282 108.8 L281.4 108.6 L280.8 108.3 L280.2 108 L279.5 107.7 L278.9 107.4 L278.3 107 L277.7 106.7 L277 106.4 L276.4 106 L275.8 105.7 L275.2 105.3 L274.5 104.9 L273.9 104.5 L273.3 104.1 L272.7 103.7 L272 103.3 L271.4 103 L270.8 102.8 L270.2 102.6 L269.5 102.4 L268.9 102.2 L268.3 102 L267.7 101.8 L267 101.7 L266.4 101.7 L265.8 101.7 L265.2 101.9 L264.5 102.4 L263.9 103 L263.3 103.7 L262.7 104.6 L262 105.5 L261.4 106.4 L260.8 107.2 L260.2 108 L259.5 108.8 L258.9 109.6 L258.3 110.6 L257.7 111.5 L257 112.3 L256.4 113 L255.8 113.3 L255.2 113.3 L254.5 113.3 L253.9 113.3 L253.3 113.3 L252.7 113.3 L252 113.3 L251.4 113.3 L250.8 113.3 L250.2 113.3 L249.5 113.3 L248.9 113.3 L248.3 113.3 L247.7 113.3 L247 113.3 L246.4 113.3 L245.8 113.3 L245.2 113.3 L244.5 113.3 L243.9 113.3 L243.3 113.3 L242.7 113.3 L242 113.3 L241.4 113.3 L240.8 113.3 L240.2 113.3 L239.5 113.3 L238.9 113.3 L238.3 113.3 L237.7 113.3 L237 113.3 L236.4 113.3 L235.8 113.3 L235.2 113.3 L234.5 113.3 L233.9 113.3 L233.3 113.3 L232.7 113.3 L232 113.3 L231.4 113.3 L230.8 113.3 L230.2 113.3 L229.5 113.3 L228.9 113.3 L228.3 113.3 L227.7 113.3 L227 113.3 L226.4 113.3 L225.8 113.3 L225.2 113.3 L224.5 113.3 L223.9 113.3 L223.3 113.3 L222.7 113.3 L222 113.3 L221.4 113.3 L220.8 113.3 L220.2 113.3 L219.5 113.3 L218.9 113.3 L218.3 113.3 L217.7 113.3 L217 113.3 L216.4 113.3 L215.8 113.3 L215.2 113.3 L214.5 113.3 L213.9 113.3 L213.3 113.3 L212.7 113.3 L212 113.3 L211.4 113.3 L210.8 113.3 L210.2 113.3 L209.5 113.3 L208.9 113.3 L208.3 113.3 L207.7 113.3 L207 113.3 L206.4 113.3 L205.8 113.3 L205.2 113.3 L204.5 113.3 L203.9 113.3 Z" fill="rgba(0,0,255,0.28)"/>
<path d="M203.9 113.3 L204.5 113.3 L205.2 113.3 L205.8 113.3 L206.4 113.3 L207 113.3 L207.7 113.3 L208.3 113.3 L208.9 113.3 L209.5 113.3 L210.2 113.3 L210.8 113.3 L211.4 113.3 L212 113.3 L212.7 113.3 L213.3 113.3 L213.9 113.3 L214.5 113.3 L215.2 113.3 L215.8 113.3 L216.4 113.3 L217 113.3 L217.7 113.3 L218.3 113.3 L218.9 113.3 L219.5 113.3 L220.2 113.3 L220.8 113.3 L221.4 113.3 L222 113.3 L222.7 113.3 L223.3 113.3 L223.9 113.3 L224.5 113.3 L225.2 113.3 L225.8 113.3 L226.4 113.3 L227 113.3 L227.7 113.3 L228.3 113.3 L228.9 113.3 L229.5 113.3 L230.2 113.3 L230.8 113.3 L231.4 113.3 L232 113.3 L232.7 113.3 L233.3 113.3 L233.9 113.3 L234.5 113.3 L235.2 113.3 L235.8 113.3 L236.4 113.3 L237 113.3 L237.7 113.3 L238.3 113.3 L238.9 113.3 L239.5 113.3 L240.2 113.3 L240.8 113.3 L241.4 113.3 L242 113.3 L242.7 113.3 L243.3 113.3 L243.9 113.3 L244.5 113.3 L245.2 113.3 L245.8 113.3 L246.4 113.3 L247 113.3 L247.7 113.3 L248.3 113.3 L248.9 113.3 L249.5 113.3 L250.2 113.3 L250.8 113.3 L251.4 113.3 L252 113 L252.7 112.4 L253.3 111.7 L253.9 110.9 L254.5 110.1 L255.2 109.1 L255.8 107.9 L256.4 106.7 L257 105.8 L257.7 105.2 L258.3 104.7 L258.9 104.2 L259.5 103.7 L260.2 103.3 L260.8 103.1 L261.4 102.9 L262 102.9 L262.7 103 L263.3 103.2 L263.9 103.4 L264.5 103.6 L265.2 103.8 L265.8 104.1 L266.4 104.3 L267 104.5 L267.7 104.7 L268.3 104.9 L268.9 105.1 L269.5 105.3 L270.2 105.5 L270.8 105.7 L271.4 105.9 L272 106 L272.7 106.2 L273.3 106.4 L273.9 106.5 L274.5 106.7 L275.2 106.8 L275.8 107 L276.4 107.1 L277 107.2 L277.7 107.4 L278.3 107.5 L278.9 107.6 L279.5 107.7 L280.2 107.7 L280.8 107.8 L281.4 107.9 L282 108 L282.7 108 L283.3 108.1 L283.9 108.2 L284.5 108.2 L285.2 108.3 L285.8 108.4 L286.4 108.4 L287 108.5 L287.7 108.6 L288.3 108.6 L288.9 108.7 L289.5 108.7 L290.2 108.8 L290.8 108.8 L291.4 108.9 L292 109 L292.7 109 L293.3 109.1 L293.9 109.2 L294.5 109.2 L295.2 109.3 L295.8 109.4 L296.4 109.5 L297 109.6 L297.7 109.7 L298.3 109.8 L298.9 109.9 L299.5 110.1 L300.2 110.2 L300.8 110.3 L301.4 110.4 L302 110.5 L302.7 110.6 L303.3 110.7 L303.9 110.7 L304.5 110.8 L305.2 110.8 L305.8 110.9 L306.4 110.9 L307 110.9 L307.7 111 L308.3 111 L308.9 111 L309.5 111.1 L310.2 111.1 L310.8 111.1 L311.4 111.1 L312 111.2 L312.7 111.2 L313.3 111.2 L313.9 111.2 L314.5 111.2 L315.2 111.2 L315.8 111.3 L316.4 111.3 L317 111.3 L317.7 111.3 L318.3 111.3 L318.9 111.3 L319.5 111.3 L320.2 111.4 L320.8 111.4 L321.4 111.4 L322 111.4 L322.7 111.4 L323.3 111.4 L323.9 111.4 L324.5 111.4 L325.2 111.4 L325.8 111.5 L326.4 111.5 L327 111.5 L327.7 111.5 L328.3 111.5 L328.3 112.7 L327.7 112.7 L327 112.7 L326.4 112.7 L325.8 112.7 L325.2 112.7 L324.5 112.7 L323.9 112.7 L323.3 112.7 L322.7 112.7 L322 112.7 L321.4 112.7 L320.8 112.7 L320.2 112.7 L319.5 112.7 L318.9 112.7 L318.3 112.7 L317.7 112.7 L317 112.7 L316.4 112.7 L315.8 112.7 L315.2 112.7 L314.5 112.7 L313.9 112.6 L313.3 112.6 L312.7 112.6 L312 112.6 L311.4 112.6 L310.8 112.6 L310.2 112.6 L309.5 112.6 L308.9 112.6 L308.3 112.6 L307.7 112.6 L307 112.5 L306.4 112.5 L305.8 112.5 L305.2 112.5 L304.5 112.5 L303.9 112.5 L303.3 112.4 L302.7 112.4 L302 112.3 L301.4 112.2 L300.8 112.1 L300.2 112.1 L299.5 112 L298.9 111.9 L298.3 111.8 L297.7 111.7 L297 111.6 L296.4 111.5 L295.8 111.5 L295.2 111.4 L294.5 111.3 L293.9 111.2 L293.3 111.2 L292.7 111.1 L292 111.1 L291.4 111 L290.8 111 L290.2 110.9 L289.5 110.9 L288.9 110.8 L288.3 110.8 L287.7 110.7 L287 110.7 L286.4 110.6 L285.8 110.6 L285.2 110.5 L284.5 110.5 L283.9 110.4 L283.3 110.4 L282.7 110.3 L282 110.3 L281.4 110.2 L280.8 110.2 L280.2 110.1 L279.5 110.1 L278.9 110 L278.3 110 L277.7 109.9 L277 109.9 L276.4 109.8 L275.8 109.8 L275.2 109.7 L274.5 109.7 L273.9 109.6 L273.3 109.6 L272.7 109.5 L272 109.5 L271.4 109.4 L270.8 109.4 L270.2 109.3 L269.5 109.3 L268.9 109.2 L268.3 109.2 L267.7 109.2 L267 109.2 L266.4 109.2 L265.8 109.2 L265.2 109.2 L264.5 109.2 L263.9 109.2 L263.3 109.2 L262.7 109.2 L262 109.2 L261.4 109.2 L260.8 109.2 L260.2 109.2 L259.5 109.2 L258.9 109.6 L258.3 110.2 L257.7 110.9 L257 111.7 L256.4 112.4 L255.8 113 L255.2 113.3 L254.5 113.3 L253.9 113.3 L253.3 113.3 L252.7 113.3 L252 113.3 L251.4 113.3 L250.8 113.3 L250.2 113.3 L249.5 113.3 L248.9 113.3 L248.3 113.3 L247.7 113.3 L247 113.3 L246.4 113.3 L245.8 113.3 L245.2 113.3 L244.5 113.3 L243.9 113.3 L243.3 113.3 L242.7 113.3 L242 113.3 L241.4 113.3 L240.8 113.3 L240.2 113.3 L239.5 113.3 L238.9 113.3 L238.3 113.3 L237.7 113.3 L237 113.3 L236.4 113.3 L235.8 113.3 L235.2 113.3 L234.5 113.3 L233.9 113.3 L233.3 113.3 L232.7 113.3 L232 113.3 L231.4 113.3 L230.8 113.3 L230.2 113.3 L229.5 113.3 L228.9 113.3 L228.3 113.3 L227.7 113.3 L227 113.3 L226.4 113.3 L225.8 113.3 L225.2 113.3 L224.5 113.3 L223.9 113.3 L223.3 113.3 L222.7 113.3 L222 113.3 L221.4 113.3 L220.8 113.3 L220.2 113.3 L219.5 113.3 L218.9 113.3 L218.3 113.3 L217.7 113.3 L217 113.3 L216.4 113.3 L215.8 113.3 L215.2 113.3 L214.5 113.3 L213.9 113.3 L213.3 113.3 L212.7 113.3 L212 113.3 L211.4 113.3 L210.8 113.3 L210.2 113.3 L209.5 113.3 L208.9 113.3 L208.3 113.3 L207.7 113.3 L207 113.3 L206.4 113.3 L205.8 113.3 L205.2 113.3 L204.5 113.3 L203.9 113.3 Z" fill="rgba(255,0,0,0.28)"/>
<path d="M240.8 29.7 V113.3" stroke="#0a0a0a" stroke-width="1.3" stroke-dasharray="8 4" fill="none"/>
<path d="M259.5 30.7 V113.3" stroke="#d810c8" stroke-width="1.2" stroke-dasharray="9.8 1.4 2.6 5.2" fill="none"/>
<path d="M251.4 113.3 L252 113.2 L252.7 112.8 L253.3 112.4 L253.9 112 L254.5 111.5 L255.2 110.7 L255.8 109.9 L256.4 109 L257 108.2 L257.7 107.7 L258.3 107.3 L258.9 106.9 L259.5 106.5 L260.2 106.2 L260.8 106 L261.4 105.9 L262 105.8 L262.7 105.9 L263.3 106.1 L263.9 106.2 L264.5 106.4 L265.2 106.6 L265.8 106.8 L266.4 106.9 L267 107.1 L267.7 107.2 L268.3 107.3 L268.9 107.5 L269.5 107.6 L270.2 107.7 L270.8 107.8 L271.4 107.8 L272 107.9 L272.7 108 L273.3 108.1 L273.9 108.2 L274.5 108.3 L275.2 108.3 L275.8 108.4 L276.4 108.5 L277 108.6 L277.7 108.6 L278.3 108.7 L278.9 108.8 L279.5 108.9 L280.2 109 L280.8 109.1 L281.4 109.1 L282 109.2 L282.7 109.3 L283.3 109.4 L283.9 109.4 L284.5 109.5 L285.2 109.6 L285.8 109.6 L286.4 109.7 L287 109.7 L287.7 109.8 L288.3 109.8 L288.9 109.9 L289.5 109.9 L290.2 109.9 L290.8 110 L291.4 110 L292 110.1 L292.7 110.1 L293.3 110.2 L293.9 110.2 L294.5 110.3 L295.2 110.3 L295.8 110.4 L296.4 110.4 L297 110.5 L297.7 110.5 L298.3 110.6 L298.9 110.7 L299.5 110.8 L300.2 110.8 L300.8 110.9 L301.4 111 L302 111.2 L302.7 111.3 L303.3 111.4 L303.9 111.5 L304.5 111.6 L305.2 111.7 L305.8 111.7 L306.4 111.7 L307 111.7 L307.7 111.8 L308.3 111.8 L308.9 111.8 L309.5 111.8 L310.2 111.8 L310.8 111.8 L311.4 111.8 L312 111.8 L312.7 111.8 L313.3 111.8 L313.9 111.9 L314.5 111.9 L315.2 111.9 L315.8 111.9 L316.4 111.9 L317 111.9 L317.7 111.9 L318.3 111.9 L318.9 111.9 L319.5 112 L320.2 112 L320.8 112 L321.4 112 L322 112 L322.7 112 L323.3 112 L323.9 112 L324.5 112 L325.2 112 L325.8 112.1 L326.4 112.1 L327 112.1 L327.7 112.1 L328.3 112.1" stroke="#f00" stroke-width="1.2" fill="none" stroke-linejoin="round"/>
<path d="M251.4 113.2 L252 112.9 L252.7 112.5 L253.3 112 L253.9 111.4 L254.5 110.3 L255.2 108.9 L255.8 107.3 L256.4 105.8 L257 104.5 L257.7 103.3 L258.3 102.1 L258.9 101.1 L259.5 100.1 L260.2 99.2 L260.8 98.4 L261.4 97.6 L262 96.9 L262.7 96.2 L263.3 95.7 L263.9 95.2 L264.5 94.7 L265.2 94.2 L265.8 93.8 L266.4 93.5 L267 93.3 L267.7 93.4 L268.3 93.7 L268.9 94.2 L269.5 94.9 L270.2 95.5 L270.8 96.2 L271.4 96.9 L272 97.7 L272.7 98.4 L273.3 99 L273.9 99.3 L274.5 99.6 L275.2 99.8 L275.8 99.9 L276.4 100.1 L277 100.3 L277.7 100.6 L278.3 100.8 L278.9 101.1 L279.5 101.4 L280.2 101.7 L280.8 102.1 L281.4 102.4 L282 102.7 L282.7 103.1 L283.3 103.4 L283.9 103.7 L284.5 104.1 L285.2 104.4 L285.8 104.8 L286.4 105.1 L287 105.4 L287.7 105.7 L288.3 105.9 L288.9 106 L289.5 106.2 L290.2 106.3 L290.8 106.4 L291.4 106.5 L292 106.6 L292.7 106.7 L293.3 106.8 L293.9 106.9 L294.5 106.9 L295.2 106.9 L295.8 107 L296.4 107 L297 107 L297.7 107 L298.3 107.1 L298.9 107.2 L299.5 107.3 L300.2 107.5 L300.8 107.7 L301.4 108 L302 108.3 L302.7 108.6 L303.3 109.2 L303.9 109.7 L304.5 110.2 L305.2 110.4 L305.8 110.4 L306.4 110.2 L307 109.8 L307.7 109.4 L308.3 109.1 L308.9 108.7 L309.5 108.5 L310.2 108.3 L310.8 108.4 L311.4 108.5 L312 108.6 L312.7 108.8 L313.3 109 L313.9 109.2 L314.5 109.4 L315.2 109.5 L315.8 109.6 L316.4 109.6 L317 109.6 L317.7 109.7 L318.3 109.7 L318.9 109.7 L319.5 109.7 L320.2 109.7 L320.8 109.8 L321.4 109.8 L322 109.8 L322.7 109.8 L323.3 109.9 L323.9 109.9 L324.5 110 L325.2 110 L325.8 110.1 L326.4 110.2 L327 110.3 L327.7 110.3 L328.3 110.4" stroke="#00f" stroke-width="1.2" fill="none" stroke-linejoin="round"/>
<path d="M203.9 113.3 L204.5 113.3 L205.2 113.3 L205.8 113.3 L206.4 113.3 L207 113.3 L207.7 113.3 L208.3 113.3 L208.9 113.3 L209.5 113.3 L210.2 113.3 L210.8 113.3 L211.4 113.3 L212 113.3 L212.7 113.3 L213.3 113.3 L213.9 113.3 L214.5 113.3 L215.2 113.3 L215.8 113.3 L216.4 113.3 L217 113.3 L217.7 113.3 L218.3 113.3 L218.9 113.3 L219.5 113.3 L220.2 113.3 L220.8 113.3 L221.4 113.3 L222 113.3 L222.7 113.3 L223.3 113.3 L223.9 113.3 L224.5 113.3 L225.2 113.3 L225.8 113.3 L226.4 113.3 L227 113.3 L227.7 113.3 L228.3 113.3 L228.9 113.3 L229.5 113.3 L230.2 113.3 L230.8 113.3 L231.4 113.3 L232 113.3 L232.7 113.3 L233.3 113.3 L233.9 113.3 L234.5 113.3 L235.2 113.2 L235.8 113.1 L236.4 112.9 L237 112.8 L237.7 112.6 L238.3 112.5 L238.9 112.3 L239.5 112 L240.2 111.8 L240.8 111.7 L241.4 111.7 L242 111.8 L242.7 112 L243.3 112.2 L243.9 112.4 L244.5 112.6 L245.2 112.7 L245.8 112.9 L246.4 113 L247 113.2 L247.7 113.3 L248.3 113.3 L248.9 113.3 L249.5 113.3 L250.2 113.2 L250.8 113.1 L251.4 113 L252 112.8 L252.7 112.6 L253.3 112.4 L253.9 111.7 L254.5 110.6 L255.2 109.2 L255.8 107.6 L256.4 104.8 L257 101.3 L257.7 97.7 L258.3 94.4 L258.9 91.1 L259.5 87.8 L260.2 84.6 L260.8 82 L261.4 79.9 L262 78.1 L262.7 76.6 L263.3 75.4 L263.9 74.6 L264.5 73.9 L265.2 73.5 L265.8 73.5 L266.4 73.9 L267 74.6 L267.7 75.4 L268.3 76.3 L268.9 77.8 L269.5 79.7 L270.2 81.7 L270.8 83.4 L271.4 84.6 L272 85.4 L272.7 86.2 L273.3 86.9 L273.9 87.5 L274.5 88.1 L275.2 88.6 L275.8 88.9 L276.4 89.1 L277 89.2 L277.7 89.2 L278.3 89.3 L278.9 89.3 L279.5 89.3 L280.2 89.3 L280.8 89.2 L281.4 89.1 L282 88.9 L282.7 88.8 L283.3 88.7 L283.9 89 L284.5 89.5 L285.2 90.2 L285.8 90.8 L286.4 91.6 L287 92.5 L287.7 93.4 L288.3 94.3 L288.9 95.1 L289.5 96 L290.2 96.8 L290.8 97.7 L291.4 98.5 L292 99.3 L292.7 100.2 L293.3 101 L293.9 101.9 L294.5 102.5 L295.2 103 L295.8 103.3 L296.4 103.6 L297 103.8 L297.7 104 L298.3 104.2 L298.9 104.3 L299.5 104.5 L300.2 104.6 L300.8 104.7 L301.4 104.7 L302 104.8 L302.7 104.9 L303.3 105 L303.9 105.3 L304.5 105.5 L305.2 105.7 L305.8 105.8 L306.4 105.8 L307 105.5 L307.7 105.1 L308.3 104.6 L308.9 104.1 L309.5 103.4 L310.2 102.8 L310.8 102.5 L311.4 102.6 L312 102.8 L312.7 103.1 L313.3 103.5 L313.9 103.9 L314.5 104.5 L315.2 105.1 L315.8 105.8 L316.4 106.2 L317 106.5 L317.7 106.5 L318.3 106.5 L318.9 106.6 L319.5 106.6 L320.2 106.6 L320.8 106.6 L321.4 106.6 L322 106.7 L322.7 106.7 L323.3 106.8 L323.9 106.9 L324.5 107 L325.2 107.1 L325.8 107.3 L326.4 107.6 L327 108.1 L327.7 108.6 L328.3 109.2" stroke="#000" stroke-width="1.2" fill="none" stroke-linejoin="round"/>
</g>
<rect x="203.9" y="25.9" width="124.4" height="91.5" fill="none" stroke="#161616" stroke-width="1.4"/>
<path d="M203.9 117.4 v3.2 M235 117.4 v3.2 M266.1 117.4 v3.2 M297.2 117.4 v3.2 M328.3 117.4 v3.2 M203.9 113.3 h-3.2 M203.9 71.6 h-3.2 M203.9 29.8 h-3.2" stroke="#111" stroke-width="1" fill="none"/>
</g>
<g>
<clipPath id="cp2"><rect x="361.4" y="25.9" width="124.6" height="91.5"/></clipPath>
<path d="M392.5 25.9 V117.4 M423.7 25.9 V117.4 M454.9 25.9 V117.4 M361.4 113.3 H486 M361.4 57.6 H486" stroke="#000" stroke-width="0.85" stroke-dasharray="1.35 0.7" fill="none"/>
<g clip-path="url(#cp2)">
<path d="M361.4 113.3 L362 113.3 L362.7 113.3 L363.3 113.3 L363.9 113.3 L364.5 113.3 L365.2 113.3 L365.8 113.3 L366.4 113.3 L367 113.3 L367.7 113.3 L368.3 113.3 L368.9 113.3 L369.5 113.3 L370.2 113.3 L370.8 113.3 L371.4 113.3 L372 113.3 L372.7 113.3 L373.3 113.3 L373.9 113.3 L374.5 113.3 L375.2 113.3 L375.8 113.3 L376.4 113.3 L377.1 113.3 L377.7 113.3 L378.3 113.3 L378.9 113.3 L379.6 113.3 L380.2 113.3 L380.8 113.3 L381.4 113.3 L382.1 113.3 L382.7 113.3 L383.3 113.3 L383.9 113.3 L384.6 113.3 L385.2 113.3 L385.8 113.3 L386.4 113.3 L387.1 113.3 L387.7 113.3 L388.3 113.3 L388.9 113.3 L389.6 113.3 L390.2 113.3 L390.8 113.3 L391.5 113.3 L392.1 113.3 L392.7 113.3 L393.3 113.3 L394 113.3 L394.6 113.3 L395.2 113.3 L395.8 113.3 L396.5 113.3 L397.1 113.3 L397.7 113.3 L398.3 113.3 L399 113.3 L399.6 113.3 L400.2 113.3 L400.8 113.3 L401.5 113.3 L402.1 113.3 L402.7 113.3 L403.4 113.3 L404 113.3 L404.6 113.3 L405.2 113.3 L405.9 113.3 L406.5 113.3 L407.1 113.3 L407.7 113.3 L408.4 113.3 L409 113.3 L409.6 113.3 L410.2 113.3 L410.9 113.3 L411.5 113.3 L412.1 113.3 L412.7 113.3 L413.4 113.3 L414 112.6 L414.6 111.6 L415.2 106.7 L415.9 97.9 L416.5 89.5 L417.1 79.4 L417.8 71.4 L418.4 66.4 L419 61.9 L419.6 58.7 L420.3 58 L420.9 59.7 L421.5 62.6 L422.1 65.1 L422.8 66.1 L423.4 65.4 L424 63.7 L424.6 61.3 L425.3 58.1 L425.9 55.9 L426.5 56.2 L427.1 58.3 L427.8 61 L428.4 63.5 L429 65.1 L429.6 66 L430.3 66.6 L430.9 67.3 L431.5 68.6 L432.2 70.6 L432.8 73 L433.4 75.3 L434 77.1 L434.7 78 L435.3 78.3 L435.9 78.4 L436.5 78.9 L437.2 79.7 L437.8 81 L438.4 82.4 L439 84 L439.7 85.4 L440.3 86.2 L440.9 86.2 L441.5 85.7 L442.2 85.1 L442.8 84.7 L443.4 84.9 L444 85.8 L444.7 87.1 L445.3 88.4 L445.9 89.1 L446.6 89.3 L447.2 89.3 L447.8 89.2 L448.4 88.9 L449.1 89.2 L449.7 89.9 L450.3 91.1 L450.9 92.2 L451.6 93.1 L452.2 93.5 L452.8 93.6 L453.4 93.5 L454.1 93.4 L454.7 93.8 L455.3 94.5 L455.9 95.5 L456.6 96.6 L457.2 97.3 L457.8 97.6 L458.5 97.4 L459.1 96.9 L459.7 96.6 L460.3 96.6 L461 97.1 L461.6 97.9 L462.2 98.8 L462.8 99.5 L463.5 99.9 L464.1 100 L464.7 99.9 L465.3 99.7 L466 99.8 L466.6 100 L467.2 100.4 L467.8 100.6 L468.5 100.5 L469.1 100.1 L469.7 99.3 L470.3 98.6 L471 98 L471.6 97.9 L472.2 98.2 L472.9 99 L473.5 100 L474.1 100.9 L474.7 101.5 L475.4 101.8 L476 101.9 L476.6 101.9 L477.2 102 L477.9 102.4 L478.5 102.9 L479.1 103.5 L479.7 104 L480.4 104.2 L481 104.1 L481.6 103.7 L482.2 103.2 L482.9 102.8 L483.5 102.7 L484.1 102.9 L484.7 103.4 L485.4 103.9 L486 104.2 L486 107.3 L485.4 107.7 L484.7 108.1 L484.1 108.4 L483.5 108.5 L482.9 108.3 L482.2 107.7 L481.6 107 L481 106.3 L480.4 105.9 L479.7 105.8 L479.1 105.9 L478.5 106.2 L477.9 106.3 L477.2 106.3 L476.6 106 L476 105.6 L475.4 105.2 L474.7 105 L474.1 105.2 L473.5 105.5 L472.9 105.8 L472.2 105.8 L471.6 105.4 L471 104.7 L470.3 103.7 L469.7 102.8 L469.1 102.4 L468.5 102.6 L467.8 103.1 L467.2 103.9 L466.6 104.4 L466 104.6 L465.3 104.5 L464.7 104.2 L464.1 103.9 L463.5 103.7 L462.8 103.9 L462.2 104.3 L461.6 104.7 L461 105 L460.3 104.8 L459.7 104.2 L459.1 103.1 L458.5 101.8 L457.8 100.6 L457.2 99.8 L456.6 99.4 L455.9 99.4 L455.3 99.8 L454.7 100 L454.1 99.9 L453.4 99.5 L452.8 98.9 L452.2 98.5 L451.6 98.5 L450.9 98.8 L450.3 99.4 L449.7 100 L449.1 100 L448.4 99.4 L447.8 98.2 L447.2 96.2 L446.6 94 L445.9 92.6 L445.3 91.8 L444.7 91.7 L444 92.1 L443.4 92.8 L442.8 93.2 L442.2 93.1 L441.5 92.8 L440.9 92.6 L440.3 92.6 L439.7 92.9 L439 93.6 L438.4 94.2 L437.8 94.4 L437.2 93.4 L436.5 91.4 L435.9 88.5 L435.3 85.5 L434.7 83 L434 81.4 L433.4 80.7 L432.8 80.6 L432.2 80.6 L431.5 80.2 L430.9 79.1 L430.3 77.5 L429.6 75.9 L429 74.6 L428.4 74.2 L427.8 74.5 L427.1 75.2 L426.5 76 L425.9 76.6 L425.3 76.9 L424.6 76.3 L424 74.4 L423.4 72.5 L422.8 71.5 L422.1 70.9 L421.5 70.5 L420.9 70.6 L420.3 71.1 L419.6 72.3 L419 74.1 L418.4 76.6 L417.8 80 L417.1 87.1 L416.5 96.5 L415.9 104.1 L415.2 110.5 L414.6 113 L414 113.3 L413.4 113.3 L412.7 113.3 L412.1 113.3 L411.5 113.3 L410.9 113.3 L410.2 113.3 L409.6 113.3 L409 113.3 L408.4 113.3 L407.7 113.3 L407.1 113.3 L406.5 113.3 L405.9 113.3 L405.2 113.3 L404.6 113.3 L404 113.3 L403.4 113.3 L402.7 113.3 L402.1 113.3 L401.5 113.3 L400.8 113.3 L400.2 113.3 L399.6 113.3 L399 113.3 L398.3 113.3 L397.7 113.3 L397.1 113.3 L396.5 113.3 L395.8 113.3 L395.2 113.3 L394.6 113.3 L394 113.3 L393.3 113.3 L392.7 113.3 L392.1 113.3 L391.5 113.3 L390.8 113.3 L390.2 113.3 L389.6 113.3 L388.9 113.3 L388.3 113.3 L387.7 113.3 L387.1 113.3 L386.4 113.3 L385.8 113.3 L385.2 113.3 L384.6 113.3 L383.9 113.3 L383.3 113.3 L382.7 113.3 L382.1 113.3 L381.4 113.3 L380.8 113.3 L380.2 113.3 L379.6 113.3 L378.9 113.3 L378.3 113.3 L377.7 113.3 L377.1 113.3 L376.4 113.3 L375.8 113.3 L375.2 113.3 L374.5 113.3 L373.9 113.3 L373.3 113.3 L372.7 113.3 L372 113.3 L371.4 113.3 L370.8 113.3 L370.2 113.3 L369.5 113.3 L368.9 113.3 L368.3 113.3 L367.7 113.3 L367 113.3 L366.4 113.3 L365.8 113.3 L365.2 113.3 L364.5 113.3 L363.9 113.3 L363.3 113.3 L362.7 113.3 L362 113.3 L361.4 113.3 Z" fill="rgba(0,0,0,0.33)"/>
<path d="M361.4 113.3 L362 113.3 L362.7 113.3 L363.3 113.3 L363.9 113.3 L364.5 113.3 L365.2 113.3 L365.8 113.3 L366.4 113.3 L367 113.3 L367.7 113.3 L368.3 113.3 L368.9 113.3 L369.5 113.3 L370.2 113.3 L370.8 113.3 L371.4 113.3 L372 113.3 L372.7 113.3 L373.3 113.3 L373.9 113.3 L374.5 113.3 L375.2 113.3 L375.8 113.3 L376.4 113.3 L377.1 113.3 L377.7 113.3 L378.3 113.3 L378.9 113.3 L379.6 113.3 L380.2 113.3 L380.8 113.3 L381.4 113.3 L382.1 113.3 L382.7 113.3 L383.3 113.3 L383.9 113.3 L384.6 113.3 L385.2 113.3 L385.8 113.3 L386.4 113.3 L387.1 113.3 L387.7 113.3 L388.3 113.3 L388.9 113.3 L389.6 113.3 L390.2 113.3 L390.8 113.3 L391.5 113.3 L392.1 113.3 L392.7 113.3 L393.3 113.3 L394 113.3 L394.6 113.3 L395.2 113.3 L395.8 113.3 L396.5 113.3 L397.1 113.3 L397.7 113.3 L398.3 113.3 L399 113.3 L399.6 113.3 L400.2 113.3 L400.8 113.3 L401.5 113.3 L402.1 113.3 L402.7 113.3 L403.4 113.3 L404 113.3 L404.6 113.3 L405.2 113.3 L405.9 113.3 L406.5 113.3 L407.1 113.3 L407.7 113.3 L408.4 113.3 L409 113.3 L409.6 113.3 L410.2 113.3 L410.9 113.3 L411.5 113.3 L412.1 113.3 L412.7 113.3 L413.4 113.3 L414 113 L414.6 112 L415.2 110.3 L415.9 105.2 L416.5 99.8 L417.1 94.6 L417.8 89.4 L418.4 86.3 L419 84.1 L419.6 82.8 L420.3 83 L420.9 84.2 L421.5 85.9 L422.1 87.2 L422.8 87.4 L423.4 86.5 L424 85 L424.6 83.1 L425.3 81.6 L425.9 80.9 L426.5 81.2 L427.1 82.8 L427.8 85 L428.4 86.9 L429 88 L429.6 88.7 L430.3 89.2 L430.9 89.7 L431.5 90.6 L432.2 91.9 L432.8 93.5 L433.4 94.9 L434 95.9 L434.7 96.3 L435.3 96.2 L435.9 95.8 L436.5 95.6 L437.2 95.8 L437.8 96.2 L438.4 96.7 L439 97.5 L439.7 98.1 L440.3 98.5 L440.9 98.5 L441.5 98.2 L442.2 97.8 L442.8 97.7 L443.4 97.9 L444 98.5 L444.7 99.3 L445.3 100.1 L445.9 100.5 L446.6 100.4 L447.2 99.9 L447.8 99.4 L448.4 99.2 L449.1 99.4 L449.7 100.1 L450.3 101.1 L450.9 102 L451.6 102.7 L452.2 103 L452.8 103 L453.4 103 L454.1 103 L454.7 103.2 L455.3 103.7 L455.9 104.3 L456.6 104.8 L457.2 105 L457.8 104.9 L458.5 104.5 L459.1 104 L459.7 103.5 L460.3 103.3 L461 103.5 L461.6 104 L462.2 104.6 L462.8 105.1 L463.5 105.4 L464.1 105.5 L464.7 105.4 L465.3 105.3 L466 105.3 L466.6 105.6 L467.2 106.1 L467.8 106.5 L468.5 106.8 L469.1 106.8 L469.7 106.5 L470.3 106 L471 105.6 L471.6 105.4 L472.2 105.4 L472.9 105.8 L473.5 106.3 L474.1 106.8 L474.7 107.1 L475.4 107.3 L476 107.2 L476.6 107.1 L477.2 107.1 L477.9 107.3 L478.5 107.6 L479.1 108 L479.7 108.3 L480.4 108.4 L481 108.2 L481.6 107.9 L482.2 107.5 L482.9 107.2 L483.5 107.1 L484.1 107.3 L484.7 107.6 L485.4 108 L486 108.3 L486 110.6 L485.4 110.8 L484.7 111.1 L484.1 111.4 L483.5 111.4 L482.9 111.3 L482.2 110.9 L481.6 110.3 L481 109.9 L480.4 109.6 L479.7 109.6 L479.1 109.7 L478.5 110 L477.9 110.2 L477.2 110.2 L476.6 110.1 L476 109.9 L475.4 109.7 L474.7 109.6 L474.1 109.8 L473.5 110.1 L472.9 110.5 L472.2 110.6 L471.6 110.5 L471 110.1 L470.3 109.5 L469.7 108.9 L469.1 108.4 L468.5 108.3 L467.8 108.4 L467.2 108.7 L466.6 108.9 L466 109.1 L465.3 109 L464.7 108.7 L464.1 108.5 L463.5 108.3 L462.8 108.5 L462.2 108.8 L461.6 109.3 L461 109.6 L460.3 109.6 L459.7 109.2 L459.1 108.6 L458.5 107.8 L457.8 107.1 L457.2 106.8 L456.6 106.8 L455.9 107 L455.3 107.4 L454.7 107.6 L454.1 107.5 L453.4 107.2 L452.8 106.8 L452.2 106.5 L451.6 106.5 L450.9 106.8 L450.3 107.2 L449.7 107.5 L449.1 107.5 L448.4 107 L447.8 106.1 L447.2 105 L446.6 103.9 L445.9 103 L445.3 102.6 L444.7 102.7 L444 103.1 L443.4 103.6 L442.8 103.9 L442.2 103.7 L441.5 103.4 L440.9 103.2 L440.3 103.2 L439.7 103.6 L439 104.4 L438.4 105.1 L437.8 105.6 L437.2 105.3 L436.5 104.3 L435.9 102.7 L435.3 101.1 L434.7 99.7 L434 98.9 L433.4 98.6 L432.8 98.7 L432.2 98.8 L431.5 98.7 L430.9 98 L430.3 96.9 L429.6 95.8 L429 94.9 L428.4 94.6 L427.8 94.8 L427.1 95.3 L426.5 95.9 L425.9 96.2 L425.3 95.7 L424.6 94.6 L424 93.2 L423.4 92 L422.8 91.4 L422.1 91.5 L421.5 91.8 L420.9 92.2 L420.3 92.6 L419.6 92.9 L419 93.4 L418.4 94.2 L417.8 96 L417.1 100.3 L416.5 105.1 L415.9 109.5 L415.2 112.6 L414.6 113.3 L414 113.3 L413.4 113.3 L412.7 113.3 L412.1 113.3 L411.5 113.3 L410.9 113.3 L410.2 113.3 L409.6 113.3 L409 113.3 L408.4 113.3 L407.7 113.3 L407.1 113.3 L406.5 113.3 L405.9 113.3 L405.2 113.3 L404.6 113.3 L404 113.3 L403.4 113.3 L402.7 113.3 L402.1 113.3 L401.5 113.3 L400.8 113.3 L400.2 113.3 L399.6 113.3 L399 113.3 L398.3 113.3 L397.7 113.3 L397.1 113.3 L396.5 113.3 L395.8 113.3 L395.2 113.3 L394.6 113.3 L394 113.3 L393.3 113.3 L392.7 113.3 L392.1 113.3 L391.5 113.3 L390.8 113.3 L390.2 113.3 L389.6 113.3 L388.9 113.3 L388.3 113.3 L387.7 113.3 L387.1 113.3 L386.4 113.3 L385.8 113.3 L385.2 113.3 L384.6 113.3 L383.9 113.3 L383.3 113.3 L382.7 113.3 L382.1 113.3 L381.4 113.3 L380.8 113.3 L380.2 113.3 L379.6 113.3 L378.9 113.3 L378.3 113.3 L377.7 113.3 L377.1 113.3 L376.4 113.3 L375.8 113.3 L375.2 113.3 L374.5 113.3 L373.9 113.3 L373.3 113.3 L372.7 113.3 L372 113.3 L371.4 113.3 L370.8 113.3 L370.2 113.3 L369.5 113.3 L368.9 113.3 L368.3 113.3 L367.7 113.3 L367 113.3 L366.4 113.3 L365.8 113.3 L365.2 113.3 L364.5 113.3 L363.9 113.3 L363.3 113.3 L362.7 113.3 L362 113.3 L361.4 113.3 Z" fill="rgba(0,0,255,0.28)"/>
<path d="M361.4 113.3 L362 113.3 L362.7 113.3 L363.3 113.3 L363.9 113.3 L364.5 113.3 L365.2 113.3 L365.8 113.3 L366.4 113.3 L367 113.3 L367.7 113.3 L368.3 113.3 L368.9 113.3 L369.5 113.3 L370.2 113.3 L370.8 113.3 L371.4 113.3 L372 113.3 L372.7 113.3 L373.3 113.3 L373.9 113.3 L374.5 113.3 L375.2 113.3 L375.8 113.3 L376.4 113.3 L377.1 113.3 L377.7 113.3 L378.3 113.3 L378.9 113.3 L379.6 113.3 L380.2 113.3 L380.8 113.3 L381.4 113.3 L382.1 113.3 L382.7 113.3 L383.3 113.3 L383.9 113.3 L384.6 113.3 L385.2 113.3 L385.8 113.3 L386.4 113.3 L387.1 113.3 L387.7 113.3 L388.3 113.3 L388.9 113.3 L389.6 113.3 L390.2 113.3 L390.8 113.3 L391.5 113.3 L392.1 113.3 L392.7 113.3 L393.3 113.3 L394 113.3 L394.6 113.3 L395.2 113.3 L395.8 113.3 L396.5 113.3 L397.1 113.3 L397.7 113.3 L398.3 113.3 L399 113.3 L399.6 113.3 L400.2 113.3 L400.8 113.3 L401.5 113.3 L402.1 113.3 L402.7 113.3 L403.4 113.3 L404 113.3 L404.6 113.3 L405.2 113.3 L405.9 113.3 L406.5 113.3 L407.1 113.3 L407.7 113.3 L408.4 113.3 L409 113.3 L409.6 113.3 L410.2 113.3 L410.9 113.3 L411.5 113.3 L412.1 113.3 L412.7 113.3 L413.4 113.3 L414 113.3 L414.6 112.7 L415.2 111.8 L415.9 109.8 L416.5 106.8 L417.1 105.1 L417.8 103.6 L418.4 102.5 L419 102.2 L419.6 102.1 L420.3 102.3 L420.9 102.6 L421.5 103 L422.1 103.2 L422.8 103.2 L423.4 102.9 L424 102.4 L424.6 101.8 L425.3 101.4 L425.9 101.5 L426.5 102 L427.1 102.7 L427.8 103.5 L428.4 104 L429 104.4 L429.6 104.7 L430.3 104.8 L430.9 105 L431.5 105.2 L432.2 105.5 L432.8 105.9 L433.4 106.3 L434 106.6 L434.7 106.6 L435.3 106.5 L435.9 106.3 L436.5 106.1 L437.2 106.1 L437.8 106.2 L438.4 106.5 L439 106.8 L439.7 107.1 L440.3 107.4 L440.9 107.4 L441.5 107.4 L442.2 107.4 L442.8 107.5 L443.4 107.6 L444 107.9 L444.7 108.2 L445.3 108.4 L445.9 108.4 L446.6 108.4 L447.2 108.2 L447.8 108.1 L448.4 108 L449.1 108 L449.7 108.2 L450.3 108.5 L450.9 108.8 L451.6 109 L452.2 109.2 L452.8 109.2 L453.4 109.2 L454.1 109.3 L454.7 109.4 L455.3 109.5 L455.9 109.7 L456.6 109.9 L457.2 110 L457.8 110 L458.5 109.9 L459.1 109.8 L459.7 109.7 L460.3 109.7 L461 109.7 L461.6 109.9 L462.2 110.1 L462.8 110.3 L463.5 110.4 L464.1 110.5 L464.7 110.5 L465.3 110.5 L466 110.5 L466.6 110.6 L467.2 110.7 L467.8 110.9 L468.5 111 L469.1 111 L469.7 110.9 L470.3 110.8 L471 110.7 L471.6 110.6 L472.2 110.6 L472.9 110.7 L473.5 110.9 L474.1 111 L474.7 111.1 L475.4 111.2 L476 111.2 L476.6 111.2 L477.2 111.2 L477.9 111.2 L478.5 111.3 L479.1 111.4 L479.7 111.5 L480.4 111.5 L481 111.5 L481.6 111.4 L482.2 111.3 L482.9 111.2 L483.5 111.2 L484.1 111.2 L484.7 111.3 L485.4 111.4 L486 111.5 L486 112.2 L485.4 112.2 L484.7 112.3 L484.1 112.4 L483.5 112.4 L482.9 112.4 L482.2 112.3 L481.6 112.1 L481 112 L480.4 111.9 L479.7 111.9 L479.1 111.9 L478.5 112 L477.9 112.1 L477.2 112.1 L476.6 112 L476 111.9 L475.4 111.9 L474.7 111.9 L474.1 111.9 L473.5 112 L472.9 112.1 L472.2 112.1 L471.6 112.1 L471 112 L470.3 111.8 L469.7 111.6 L469.1 111.5 L468.5 111.4 L467.8 111.4 L467.2 111.5 L466.6 111.6 L466 111.6 L465.3 111.5 L464.7 111.4 L464.1 111.4 L463.5 111.3 L462.8 111.3 L462.2 111.4 L461.6 111.5 L461 111.6 L460.3 111.5 L459.7 111.4 L459.1 111.2 L458.5 110.9 L457.8 110.7 L457.2 110.6 L456.6 110.5 L455.9 110.6 L455.3 110.7 L454.7 110.7 L454.1 110.7 L453.4 110.6 L452.8 110.4 L452.2 110.3 L451.6 110.2 L450.9 110.3 L450.3 110.4 L449.7 110.5 L449.1 110.5 L448.4 110.4 L447.8 110.1 L447.2 109.8 L446.6 109.4 L445.9 109.2 L445.3 109.1 L444.7 109.1 L444 109.2 L443.4 109.3 L442.8 109.3 L442.2 109.2 L441.5 109.1 L440.9 108.9 L440.3 108.8 L439.7 108.9 L439 109 L438.4 109.2 L437.8 109.3 L437.2 109.2 L436.5 108.9 L435.9 108.5 L435.3 108 L434.7 107.7 L434 107.5 L433.4 107.4 L432.8 107.5 L432.2 107.5 L431.5 107.5 L430.9 107.3 L430.3 107 L429.6 106.7 L429 106.4 L428.4 106.2 L427.8 106.2 L427.1 106.3 L426.5 106.2 L425.9 106 L425.3 105.7 L424.6 105.3 L424 104.9 L423.4 104.5 L422.8 104.4 L422.1 104.5 L421.5 104.7 L420.9 105 L420.3 105.1 L419.6 105.1 L419 105 L418.4 104.9 L417.8 105.7 L417.1 107 L416.5 108.7 L415.9 111.3 L415.2 112.7 L414.6 113.2 L414 113.3 L413.4 113.3 L412.7 113.3 L412.1 113.3 L411.5 113.3 L410.9 113.3 L410.2 113.3 L409.6 113.3 L409 113.3 L408.4 113.3 L407.7 113.3 L407.1 113.3 L406.5 113.3 L405.9 113.3 L405.2 113.3 L404.6 113.3 L404 113.3 L403.4 113.3 L402.7 113.3 L402.1 113.3 L401.5 113.3 L400.8 113.3 L400.2 113.3 L399.6 113.3 L399 113.3 L398.3 113.3 L397.7 113.3 L397.1 113.3 L396.5 113.3 L395.8 113.3 L395.2 113.3 L394.6 113.3 L394 113.3 L393.3 113.3 L392.7 113.3 L392.1 113.3 L391.5 113.3 L390.8 113.3 L390.2 113.3 L389.6 113.3 L388.9 113.3 L388.3 113.3 L387.7 113.3 L387.1 113.3 L386.4 113.3 L385.8 113.3 L385.2 113.3 L384.6 113.3 L383.9 113.3 L383.3 113.3 L382.7 113.3 L382.1 113.3 L381.4 113.3 L380.8 113.3 L380.2 113.3 L379.6 113.3 L378.9 113.3 L378.3 113.3 L377.7 113.3 L377.1 113.3 L376.4 113.3 L375.8 113.3 L375.2 113.3 L374.5 113.3 L373.9 113.3 L373.3 113.3 L372.7 113.3 L372 113.3 L371.4 113.3 L370.8 113.3 L370.2 113.3 L369.5 113.3 L368.9 113.3 L368.3 113.3 L367.7 113.3 L367 113.3 L366.4 113.3 L365.8 113.3 L365.2 113.3 L364.5 113.3 L363.9 113.3 L363.3 113.3 L362.7 113.3 L362 113.3 L361.4 113.3 Z" fill="rgba(255,0,0,0.28)"/>
<path d="M379.5 29.2 V113.3" stroke="#0a0a0a" stroke-width="1.3" stroke-dasharray="8 4" fill="none"/>
<path d="M417.3 28.6 V113.3" stroke="#d810c8" stroke-width="1.2" stroke-dasharray="9.8 1.4 2.6 5.2" fill="none"/>
<path d="M414 113.3 L414.6 113 L415.2 112.4 L415.9 110.6 L416.5 107.7 L417.1 106.3 L417.8 105.1 L418.4 103.9 L419 103.4 L419.6 103.6 L420.3 104.3 L420.9 104.5 L421.5 104 L422.1 103.4 L422.8 103.4 L423.4 103.6 L424 103.6 L424.6 103.6 L425.3 103.5 L425.9 103.7 L426.5 104.2 L427.1 104.6 L427.8 104.8 L428.4 105 L429 104.9 L429.6 104.7 L430.3 105 L430.9 105.8 L431.5 106.7 L432.2 107 L432.8 106.8 L433.4 107.1 L434 107.4 L434.7 107 L435.3 107 L435.9 107.7 L436.5 108 L437.2 107.9 L437.8 107.7 L438.4 107.4 L439 107.4 L439.7 107.7 L440.3 107.9 L440.9 107.9 L441.5 107.7 L442.2 107.8 L442.8 108.1 L443.4 108.6 L444 108.8 L444.7 108.7 L445.3 108.4 L445.9 108.6 L446.6 109 L447.2 109.1 L447.8 109.1 L448.4 109.4 L449.1 109.5 L449.7 109.1 L450.3 109 L450.9 109.4 L451.6 109.9 L452.2 110.1 L452.8 110.1 L453.4 109.8 L454.1 109.8 L454.7 109.9 L455.3 110 L455.9 110.1 L456.6 110.3 L457.2 110.6 L457.8 110.6 L458.5 110.5 L459.1 110.6 L459.7 110.8 L460.3 110.8 L461 110.7 L461.6 110.6 L462.2 110.8 L462.8 110.8 L463.5 110.7 L464.1 110.6 L464.7 110.8 L465.3 111.1 L466 111.1 L466.6 111.1 L467.2 111.1 L467.8 110.9 L468.5 110.9 L469.1 111 L469.7 111 L470.3 111.1 L471 111.3 L471.6 111.3 L472.2 111.3 L472.9 111.3 L473.5 111.1 L474.1 111 L474.7 111.1 L475.4 111.4 L476 111.6 L476.6 111.5 L477.2 111.5 L477.9 111.6 L478.5 111.6 L479.1 111.6 L479.7 111.5 L480.4 111.6 L481 111.7 L481.6 111.8 L482.2 112 L482.9 112 L483.5 112 L484.1 111.8 L484.7 111.7 L485.4 111.7 L486 111.8" stroke="#f00" stroke-width="1.2" fill="none" stroke-linejoin="round"/>
<path d="M414 113.2 L414.6 112.6 L415.2 111.4 L415.9 107.2 L416.5 102.5 L417.1 97.7 L417.8 93.1 L418.4 90.4 L419 88.4 L419.6 87.6 L420.3 87.4 L420.9 87.8 L421.5 88.6 L422.1 89.5 L422.8 90.1 L423.4 89.7 L424 89.3 L424.6 89.4 L425.3 89.2 L425.9 88.7 L426.5 89 L427.1 89.8 L427.8 90.2 L428.4 90.6 L429 91.3 L429.6 91.8 L430.3 92.5 L430.9 93.8 L431.5 95.1 L432.2 95.9 L432.8 96.1 L433.4 96.5 L434 97.2 L434.7 97.9 L435.3 98.6 L435.9 99.3 L436.5 100 L437.2 100.8 L437.8 101.4 L438.4 101.5 L439 101.3 L439.7 101.3 L440.3 101.1 L440.9 100.8 L441.5 100.4 L442.2 100.1 L442.8 100.3 L443.4 100.7 L444 100.7 L444.7 100.9 L445.3 101.4 L445.9 101.7 L446.6 102.5 L447.2 103 L447.8 103 L448.4 103 L449.1 103.3 L449.7 103.9 L450.3 104.3 L450.9 104.3 L451.6 104.6 L452.2 104.7 L452.8 104.7 L453.4 105 L454.1 105.2 L454.7 105.3 L455.3 105.4 L455.9 105.7 L456.6 105.7 L457.2 105.6 L457.8 105.6 L458.5 106.1 L459.1 106.4 L459.7 106.4 L460.3 106.4 L461 106.5 L461.6 106.5 L462.2 106.6 L462.8 106.8 L463.5 107.1 L464.1 107.4 L464.7 107.3 L465.3 107 L466 107.2 L466.6 107.5 L467.2 107.6 L467.8 107.4 L468.5 107.5 L469.1 107.7 L469.7 107.7 L470.3 107.6 L471 107.8 L471.6 107.9 L472.2 107.8 L472.9 107.9 L473.5 108.2 L474.1 108.4 L474.7 108.4 L475.4 108.4 L476 108.4 L476.6 108.4 L477.2 108.4 L477.9 108.5 L478.5 108.6 L479.1 109 L479.7 109.2 L480.4 109 L481 108.9 L481.6 109 L482.2 109.1 L482.9 109.3 L483.5 109.4 L484.1 109.4 L484.7 109.2 L485.4 109.3 L486 109.5" stroke="#00f" stroke-width="1.2" fill="none" stroke-linejoin="round"/>
<path d="M361.4 113.3 L362 113.3 L362.7 113.3 L363.3 113.3 L363.9 113.3 L364.5 113.3 L365.2 113.3 L365.8 113.3 L366.4 113.3 L367 113.3 L367.7 113.3 L368.3 113.3 L368.9 113.3 L369.5 113.3 L370.2 113.3 L370.8 113.3 L371.4 113.3 L372 113.3 L372.7 113.3 L373.3 113.3 L373.9 113.3 L374.5 113.3 L375.2 113.3 L375.8 113.3 L376.4 113.3 L377.1 113.3 L377.7 113.3 L378.3 113.3 L378.9 113.3 L379.6 113.3 L380.2 113.3 L380.8 113.3 L381.4 113.3 L382.1 113.3 L382.7 113.3 L383.3 113.3 L383.9 113.3 L384.6 113.3 L385.2 113.3 L385.8 113.3 L386.4 113.3 L387.1 113.3 L387.7 113.3 L388.3 113.3 L388.9 113.3 L389.6 113.3 L390.2 113.3 L390.8 113.3 L391.5 113.3 L392.1 113.3 L392.7 113.3 L393.3 113.3 L394 113.3 L394.6 113.3 L395.2 113.3 L395.8 113.3 L396.5 113.3 L397.1 113.3 L397.7 113.3 L398.3 113.3 L399 113.3 L399.6 113.3 L400.2 113.3 L400.8 113.3 L401.5 113.3 L402.1 113.3 L402.7 113.3 L403.4 113.3 L404 113.3 L404.6 113.3 L405.2 113.3 L405.9 113.3 L406.5 113.3 L407.1 113.3 L407.7 113.3 L408.4 113.3 L409 113.3 L409.6 113.3 L410.2 113.3 L410.9 113.3 L411.5 113.3 L412.1 113.3 L412.7 113.3 L413.4 113.3 L414 113 L414.6 112.3 L415.2 108.7 L415.9 101.2 L416.5 93.1 L417.1 83.2 L417.8 75.4 L418.4 71 L419 67.2 L419.6 64.7 L420.3 64 L420.9 64.5 L421.5 65.9 L422.1 67.8 L422.8 68.9 L423.4 68.9 L424 68.7 L424.6 68.3 L425.3 67.2 L425.9 66 L426.5 65.7 L427.1 66.2 L427.8 67.5 L428.4 68.9 L429 69.9 L429.6 71 L430.3 72.1 L430.9 73.2 L431.5 74.1 L432.2 75.1 L432.8 76.6 L433.4 78.1 L434 79.2 L434.7 80.5 L435.3 82.2 L435.9 83.8 L436.5 85.1 L437.2 86.5 L437.8 87.7 L438.4 88.5 L439 89 L439.7 89 L440.3 89 L440.9 89.1 L441.5 89.1 L442.2 89.1 L442.8 89.1 L443.4 89.1 L444 89 L444.7 89.4 L445.3 90.2 L445.9 91 L446.6 91.4 L447.2 92.3 L447.8 93.5 L448.4 94.1 L449.1 94.4 L449.7 94.9 L450.3 95.3 L450.9 95.4 L451.6 95.6 L452.2 95.8 L452.8 96.2 L453.4 96.5 L454.1 96.6 L454.7 96.8 L455.3 97.2 L455.9 97.7 L456.6 98.3 L457.2 98.8 L457.8 99 L458.5 99.4 L459.1 99.9 L459.7 100.3 L460.3 100.8 L461 101 L461.6 101 L462.2 101.4 L462.8 102.2 L463.5 102.6 L464.1 102.3 L464.7 102 L465.3 102.1 L466 102.2 L466.6 102.2 L467.2 102.2 L467.8 101.8 L468.5 101.4 L469.1 101.1 L469.7 101 L470.3 101.2 L471 101.4 L471.6 101.6 L472.2 101.6 L472.9 102 L473.5 102.8 L474.1 103.4 L474.7 103.5 L475.4 103.4 L476 103.5 L476.6 103.8 L477.2 104.2 L477.9 104.4 L478.5 104.5 L479.1 104.7 L479.7 104.8 L480.4 105 L481 105.1 L481.6 105.2 L482.2 105.3 L482.9 105.5 L483.5 105.7 L484.1 105.7 L484.7 105.7 L485.4 105.6 L486 105.6" stroke="#000" stroke-width="1.2" fill="none" stroke-linejoin="round"/>
</g>
<rect x="361.4" y="25.9" width="124.6" height="91.5" fill="none" stroke="#161616" stroke-width="1.4"/>
<path d="M361.4 117.4 v3.2 M392.5 117.4 v3.2 M423.7 117.4 v3.2 M454.9 117.4 v3.2 M486 117.4 v3.2 M361.4 113.3 h-3.2 M361.4 57.6 h-3.2" stroke="#111" stroke-width="1" fill="none"/>
</g>
<g>
<clipPath id="cp3"><rect x="46.2" y="160.4" width="124.2" height="91.6"/></clipPath>
<path d="M77.2 160.4 V252 M108.3 160.4 V252 M139.4 160.4 V252 M46.2 248.1 H170.4 M46.2 206.1 H170.4 M46.2 164.2 H170.4" stroke="#000" stroke-width="0.85" stroke-dasharray="1.35 0.7" fill="none"/>
<g clip-path="url(#cp3)">
<path d="M46.2 248.1 L46.8 248.1 L47.4 248.1 L48.1 248.1 L48.7 248.1 L49.3 248.1 L49.9 248.1 L50.6 248.1 L51.2 248.1 L51.8 248.1 L52.4 248.1 L53.1 248.1 L53.7 248.1 L54.3 248.1 L54.9 248.1 L55.6 248.1 L56.2 248.1 L56.8 248.1 L57.4 248.1 L58.1 248.1 L58.7 248.1 L59.3 248.1 L59.9 248.1 L60.6 248.1 L61.2 248.1 L61.8 248.1 L62.4 248.1 L63.1 248.1 L63.7 248.1 L64.3 248.1 L64.9 248.1 L65.5 248.1 L66.2 248.1 L66.8 248.1 L67.4 248.1 L68 248.1 L68.7 248.1 L69.3 248.1 L69.9 248.1 L70.5 248.1 L71.2 248.1 L71.8 248.1 L72.4 248.1 L73 248.1 L73.7 248.1 L74.3 248.1 L74.9 248.1 L75.5 248.1 L76.2 248.1 L76.8 248.1 L77.4 248.1 L78 248.1 L78.7 248.1 L79.3 248.1 L79.9 248.1 L80.5 248.1 L81.2 248.1 L81.8 248.1 L82.4 248.1 L83 248.1 L83.6 248.1 L84.3 248.1 L84.9 248.1 L85.5 248.1 L86.1 248.1 L86.8 248.1 L87.4 248.1 L88 248.1 L88.6 248.1 L89.3 248.1 L89.9 248.1 L90.5 247.8 L91.1 247.3 L91.8 246.5 L92.4 245.6 L93 244.6 L93.6 243.5 L94.3 241.9 L94.9 239.8 L95.5 237.5 L96.1 235 L96.8 232.3 L97.4 229.3 L98 225.9 L98.6 222.3 L99.3 218.7 L99.9 215.1 L100.5 211.2 L101.1 207.2 L101.7 203.4 L102.4 200.1 L103 197.4 L103.6 194.9 L104.2 192.6 L104.9 191.2 L105.5 191.2 L106.1 192.2 L106.7 193.8 L107.4 195.6 L108 198.3 L108.6 201.9 L109.2 205.1 L109.9 207 L110.5 208.4 L111.1 209.4 L111.7 209.9 L112.4 210.2 L113 210.5 L113.6 210.7 L114.2 211 L114.9 211.5 L115.5 212.4 L116.1 213.6 L116.7 214.8 L117.3 216.1 L118 217.8 L118.6 219.4 L119.2 220.6 L119.8 221.1 L120.5 221.5 L121.1 221.9 L121.7 222.2 L122.3 222.4 L123 222.7 L123.6 222.8 L124.2 222.9 L124.8 222.9 L125.5 222.7 L126.1 222.3 L126.7 221.8 L127.3 221.4 L128 221 L128.6 220.5 L129.2 220.1 L129.8 219.7 L130.5 219.3 L131.1 219.2 L131.7 219.2 L132.3 219.7 L133 220.3 L133.6 221.1 L134.2 221.9 L134.8 222.6 L135.4 223.4 L136.1 224.3 L136.7 225.1 L137.3 225.9 L137.9 226.5 L138.6 227.1 L139.2 227.7 L139.8 228.3 L140.4 228.7 L141.1 229.1 L141.7 229.4 L142.3 229.5 L142.9 229.7 L143.6 229.8 L144.2 229.9 L144.8 229.9 L145.4 230 L146.1 230.1 L146.7 230.2 L147.3 230.3 L147.9 230.4 L148.6 230.5 L149.2 230.6 L149.8 230.7 L150.4 230.9 L151.1 231.4 L151.7 232 L152.3 232.6 L152.9 233.2 L153.5 233.8 L154.2 234.2 L154.8 234.5 L155.4 234.8 L156 235 L156.7 235.2 L157.3 235.4 L157.9 235.5 L158.5 235.6 L159.2 235.7 L159.8 235.8 L160.4 235.9 L161 235.9 L161.7 235.9 L162.3 235.9 L162.9 235.9 L163.5 235.8 L164.2 235.8 L164.8 235.7 L165.4 235.6 L166 235.5 L166.7 235.4 L167.3 235.3 L167.9 235.1 L168.5 234.9 L169.2 234.7 L169.8 234.5 L170.4 234.3 L170.4 246 L169.8 246.1 L169.2 246.1 L168.5 246.2 L167.9 246.3 L167.3 246.3 L166.7 246.3 L166 246.4 L165.4 246.4 L164.8 246.4 L164.2 246.4 L163.5 246.4 L162.9 246.4 L162.3 246.4 L161.7 246.4 L161 246.4 L160.4 246.4 L159.8 246.3 L159.2 246.1 L158.5 246 L157.9 245.8 L157.3 245.6 L156.7 245.4 L156 245.3 L155.4 245.2 L154.8 245.2 L154.2 245.2 L153.5 245.2 L152.9 245.3 L152.3 245.4 L151.7 245.5 L151.1 245.6 L150.4 245.7 L149.8 245.8 L149.2 245.9 L148.6 245.9 L147.9 246 L147.3 246 L146.7 245.8 L146.1 245.5 L145.4 245 L144.8 244.5 L144.2 243.9 L143.6 243.3 L142.9 242.8 L142.3 242.4 L141.7 242.2 L141.1 242 L140.4 241.9 L139.8 241.7 L139.2 241.6 L138.6 241.5 L137.9 241.4 L137.3 241.4 L136.7 241.4 L136.1 241.4 L135.4 241.4 L134.8 241.5 L134.2 241.5 L133.6 241.6 L133 241.6 L132.3 241.7 L131.7 241.7 L131.1 241.8 L130.5 241.8 L129.8 241.8 L129.2 241.8 L128.6 241.8 L128 241.8 L127.3 241.8 L126.7 241.8 L126.1 241.8 L125.5 241.8 L124.8 241.8 L124.2 241.8 L123.6 241.9 L123 242 L122.3 242.2 L121.7 242.4 L121.1 242.6 L120.5 242.7 L119.8 242.9 L119.2 243 L118.6 243.1 L118 243 L117.3 242.9 L116.7 242.6 L116.1 242.1 L115.5 241.6 L114.9 241.1 L114.2 240.5 L113.6 240 L113 239.5 L112.4 238.9 L111.7 238.2 L111.1 237.5 L110.5 236.8 L109.9 236.2 L109.2 235.8 L108.6 235.5 L108 235.5 L107.4 235.7 L106.7 236.1 L106.1 236.6 L105.5 237.2 L104.9 237.9 L104.2 238.6 L103.6 239.4 L103 240.1 L102.4 241.2 L101.7 242.4 L101.1 243.7 L100.5 244.8 L99.9 245.7 L99.3 246.3 L98.6 246.8 L98 247.3 L97.4 247.7 L96.8 247.9 L96.1 248.1 L95.5 248.1 L94.9 248.1 L94.3 248.1 L93.6 248.1 L93 248.1 L92.4 248.1 L91.8 248.1 L91.1 248.1 L90.5 248.1 L89.9 248.1 L89.3 248.1 L88.6 248.1 L88 248.1 L87.4 248.1 L86.8 248.1 L86.1 248.1 L85.5 248.1 L84.9 248.1 L84.3 248.1 L83.6 248.1 L83 248.1 L82.4 248.1 L81.8 248.1 L81.2 248.1 L80.5 248.1 L79.9 248.1 L79.3 248.1 L78.7 248.1 L78 248.1 L77.4 248.1 L76.8 248.1 L76.2 248.1 L75.5 248.1 L74.9 248.1 L74.3 248.1 L73.7 248.1 L73 248.1 L72.4 248.1 L71.8 248.1 L71.2 248.1 L70.5 248.1 L69.9 248.1 L69.3 248.1 L68.7 248.1 L68 248.1 L67.4 248.1 L66.8 248.1 L66.2 248.1 L65.5 248.1 L64.9 248.1 L64.3 248.1 L63.7 248.1 L63.1 248.1 L62.4 248.1 L61.8 248.1 L61.2 248.1 L60.6 248.1 L59.9 248.1 L59.3 248.1 L58.7 248.1 L58.1 248.1 L57.4 248.1 L56.8 248.1 L56.2 248.1 L55.6 248.1 L54.9 248.1 L54.3 248.1 L53.7 248.1 L53.1 248.1 L52.4 248.1 L51.8 248.1 L51.2 248.1 L50.6 248.1 L49.9 248.1 L49.3 248.1 L48.7 248.1 L48.1 248.1 L47.4 248.1 L46.8 248.1 L46.2 248.1 Z" fill="rgba(0,0,0,0.33)"/>
<path d="M46.2 248.1 L46.8 248.1 L47.4 248.1 L48.1 248.1 L48.7 248.1 L49.3 248.1 L49.9 248.1 L50.6 248.1 L51.2 248.1 L51.8 248.1 L52.4 248.1 L53.1 248.1 L53.7 248.1 L54.3 248.1 L54.9 248.1 L55.6 248.1 L56.2 248.1 L56.8 248.1 L57.4 248.1 L58.1 248.1 L58.7 248.1 L59.3 248.1 L59.9 248.1 L60.6 248.1 L61.2 248.1 L61.8 248.1 L62.4 248.1 L63.1 248.1 L63.7 248.1 L64.3 248.1 L64.9 248.1 L65.5 248.1 L66.2 248.1 L66.8 248.1 L67.4 248.1 L68 248.1 L68.7 248.1 L69.3 248.1 L69.9 248.1 L70.5 248.1 L71.2 248.1 L71.8 248.1 L72.4 248.1 L73 248.1 L73.7 248.1 L74.3 248.1 L74.9 248.1 L75.5 248.1 L76.2 248.1 L76.8 248.1 L77.4 248.1 L78 248.1 L78.7 248.1 L79.3 248.1 L79.9 248.1 L80.5 248.1 L81.2 248.1 L81.8 248.1 L82.4 248.1 L83 248.1 L83.6 248.1 L84.3 248.1 L84.9 248.1 L85.5 248.1 L86.1 248.1 L86.8 248.1 L87.4 248.1 L88 248.1 L88.6 248.1 L89.3 248.1 L89.9 248.1 L90.5 248.1 L91.1 248.1 L91.8 248.1 L92.4 247.7 L93 247.1 L93.6 246.3 L94.3 245.3 L94.9 244.3 L95.5 242.8 L96.1 240.9 L96.8 238.8 L97.4 236.7 L98 234.7 L98.6 232.4 L99.3 230 L99.9 227.8 L100.5 225.8 L101.1 224.5 L101.7 223.2 L102.4 222.1 L103 221.2 L103.6 220.6 L104.2 220.3 L104.9 220 L105.5 219.8 L106.1 219.7 L106.7 219.6 L107.4 219.6 L108 220.1 L108.6 221 L109.2 222.1 L109.9 223.2 L110.5 224.4 L111.1 225.8 L111.7 227.4 L112.4 228.9 L113 230.1 L113.6 230.9 L114.2 231.6 L114.9 232.2 L115.5 232.7 L116.1 233 L116.7 233 L117.3 232.8 L118 232.4 L118.6 232.1 L119.2 231.7 L119.8 231.4 L120.5 231.2 L121.1 231.1 L121.7 230.9 L122.3 230.8 L123 230.6 L123.6 230.6 L124.2 230.5 L124.8 230.5 L125.5 230.6 L126.1 230.8 L126.7 231.2 L127.3 231.6 L128 232 L128.6 232.4 L129.2 232.9 L129.8 233.4 L130.5 234.1 L131.1 234.7 L131.7 235.3 L132.3 235.8 L133 236.2 L133.6 236.6 L134.2 236.9 L134.8 237.2 L135.4 237.4 L136.1 237.7 L136.7 238 L137.3 238.2 L137.9 238.4 L138.6 238.6 L139.2 238.8 L139.8 239 L140.4 239.2 L141.1 239.5 L141.7 239.8 L142.3 240.2 L142.9 240.7 L143.6 241.1 L144.2 241.5 L144.8 241.9 L145.4 242.2 L146.1 242.5 L146.7 242.6 L147.3 242.6 L147.9 242.6 L148.6 242.5 L149.2 242.4 L149.8 242.2 L150.4 242.1 L151.1 241.9 L151.7 241.8 L152.3 241.7 L152.9 241.6 L153.5 241.5 L154.2 241.3 L154.8 241.2 L155.4 241.1 L156 241 L156.7 241 L157.3 241 L157.9 241 L158.5 241.1 L159.2 241.2 L159.8 241.4 L160.4 241.6 L161 241.8 L161.7 242 L162.3 242.2 L162.9 242.4 L163.5 242.5 L164.2 242.6 L164.8 242.7 L165.4 242.8 L166 242.9 L166.7 243 L167.3 243.1 L167.9 243.2 L168.5 243.3 L169.2 243.4 L169.8 243.4 L170.4 243.5 L170.4 247.1 L169.8 247.1 L169.2 247.1 L168.5 247 L167.9 247 L167.3 247 L166.7 247 L166 247 L165.4 247 L164.8 247 L164.2 247 L163.5 247 L162.9 247 L162.3 247 L161.7 247 L161 247 L160.4 247 L159.8 247 L159.2 247 L158.5 247 L157.9 247 L157.3 247 L156.7 247 L156 247 L155.4 247 L154.8 247 L154.2 247 L153.5 246.9 L152.9 246.9 L152.3 246.9 L151.7 246.9 L151.1 246.9 L150.4 246.9 L149.8 246.9 L149.2 246.9 L148.6 246.9 L147.9 246.9 L147.3 246.8 L146.7 246.8 L146.1 246.8 L145.4 246.7 L144.8 246.7 L144.2 246.6 L143.6 246.5 L142.9 246.5 L142.3 246.4 L141.7 246.3 L141.1 246.2 L140.4 246.1 L139.8 246.1 L139.2 246 L138.6 245.9 L137.9 245.8 L137.3 245.8 L136.7 245.7 L136.1 245.6 L135.4 245.6 L134.8 245.5 L134.2 245.4 L133.6 245.3 L133 245.2 L132.3 245.1 L131.7 245 L131.1 244.9 L130.5 244.8 L129.8 244.7 L129.2 244.5 L128.6 244.3 L128 244.1 L127.3 243.8 L126.7 243.6 L126.1 243.4 L125.5 243.2 L124.8 243.1 L124.2 243 L123.6 242.9 L123 242.8 L122.3 242.8 L121.7 242.7 L121.1 242.6 L120.5 242.5 L119.8 242.5 L119.2 242.4 L118.6 242.4 L118 242.3 L117.3 242.3 L116.7 242.3 L116.1 242.3 L115.5 242.2 L114.9 242.2 L114.2 242.2 L113.6 242.3 L113 242.5 L112.4 242.8 L111.7 243.1 L111.1 243.4 L110.5 243.7 L109.9 244.1 L109.2 244.4 L108.6 244.6 L108 244.8 L107.4 245 L106.7 245.2 L106.1 245.4 L105.5 245.5 L104.9 245.7 L104.2 245.8 L103.6 246 L103 246.1 L102.4 246.3 L101.7 246.5 L101.1 246.8 L100.5 247.1 L99.9 247.5 L99.3 247.7 L98.6 248 L98 248.1 L97.4 248.1 L96.8 248.1 L96.1 248.1 L95.5 248.1 L94.9 248.1 L94.3 248.1 L93.6 248.1 L93 248.1 L92.4 248.1 L91.8 248.1 L91.1 248.1 L90.5 248.1 L89.9 248.1 L89.3 248.1 L88.6 248.1 L88 248.1 L87.4 248.1 L86.8 248.1 L86.1 248.1 L85.5 248.1 L84.9 248.1 L84.3 248.1 L83.6 248.1 L83 248.1 L82.4 248.1 L81.8 248.1 L81.2 248.1 L80.5 248.1 L79.9 248.1 L79.3 248.1 L78.7 248.1 L78 248.1 L77.4 248.1 L76.8 248.1 L76.2 248.1 L75.5 248.1 L74.9 248.1 L74.3 248.1 L73.7 248.1 L73 248.1 L72.4 248.1 L71.8 248.1 L71.2 248.1 L70.5 248.1 L69.9 248.1 L69.3 248.1 L68.7 248.1 L68 248.1 L67.4 248.1 L66.8 248.1 L66.2 248.1 L65.5 248.1 L64.9 248.1 L64.3 248.1 L63.7 248.1 L63.1 248.1 L62.4 248.1 L61.8 248.1 L61.2 248.1 L60.6 248.1 L59.9 248.1 L59.3 248.1 L58.7 248.1 L58.1 248.1 L57.4 248.1 L56.8 248.1 L56.2 248.1 L55.6 248.1 L54.9 248.1 L54.3 248.1 L53.7 248.1 L53.1 248.1 L52.4 248.1 L51.8 248.1 L51.2 248.1 L50.6 248.1 L49.9 248.1 L49.3 248.1 L48.7 248.1 L48.1 248.1 L47.4 248.1 L46.8 248.1 L46.2 248.1 Z" fill="rgba(0,0,255,0.28)"/>
<path d="M46.2 248.1 L46.8 248.1 L47.4 248.1 L48.1 248.1 L48.7 248.1 L49.3 248.1 L49.9 248.1 L50.6 248.1 L51.2 248.1 L51.8 248.1 L52.4 248.1 L53.1 248.1 L53.7 248.1 L54.3 248.1 L54.9 248.1 L55.6 248.1 L56.2 248.1 L56.8 248.1 L57.4 248.1 L58.1 248.1 L58.7 248.1 L59.3 248.1 L59.9 248.1 L60.6 248.1 L61.2 248.1 L61.8 248.1 L62.4 248.1 L63.1 248.1 L63.7 248.1 L64.3 248.1 L64.9 248.1 L65.5 248.1 L66.2 248.1 L66.8 248.1 L67.4 248.1 L68 248.1 L68.7 248.1 L69.3 248.1 L69.9 248.1 L70.5 248.1 L71.2 248.1 L71.8 248.1 L72.4 248.1 L73 248.1 L73.7 248.1 L74.3 248.1 L74.9 248.1 L75.5 248.1 L76.2 248.1 L76.8 248.1 L77.4 248.1 L78 248.1 L78.7 248.1 L79.3 248.1 L79.9 248.1 L80.5 248.1 L81.2 248.1 L81.8 248.1 L82.4 248.1 L83 248.1 L83.6 248.1 L84.3 248.1 L84.9 248.1 L85.5 248.1 L86.1 248.1 L86.8 248.1 L87.4 248.1 L88 248.1 L88.6 248.1 L89.3 248.1 L89.9 248.1 L90.5 248.1 L91.1 248.1 L91.8 248.1 L92.4 248.1 L93 248 L93.6 247.7 L94.3 247.4 L94.9 247.1 L95.5 246.7 L96.1 246.3 L96.8 245.7 L97.4 245.1 L98 244.4 L98.6 243.7 L99.3 243 L99.9 242.4 L100.5 241.7 L101.1 241 L101.7 240.3 L102.4 239.6 L103 239.1 L103.6 238.7 L104.2 238.3 L104.9 237.9 L105.5 237.6 L106.1 237.3 L106.7 237.2 L107.4 237.2 L108 237.3 L108.6 237.4 L109.2 237.6 L109.9 237.7 L110.5 237.9 L111.1 238.1 L111.7 238.4 L112.4 238.6 L113 238.9 L113.6 239.2 L114.2 239.6 L114.9 239.9 L115.5 240.3 L116.1 240.6 L116.7 241 L117.3 241.4 L118 241.7 L118.6 241.9 L119.2 242.2 L119.8 242.4 L120.5 242.6 L121.1 242.8 L121.7 243 L122.3 243.2 L123 243.3 L123.6 243.4 L124.2 243.5 L124.8 243.5 L125.5 243.4 L126.1 243.4 L126.7 243.2 L127.3 243.1 L128 242.9 L128.6 242.8 L129.2 242.7 L129.8 242.6 L130.5 242.7 L131.1 242.7 L131.7 242.8 L132.3 242.9 L133 243 L133.6 243.2 L134.2 243.3 L134.8 243.4 L135.4 243.6 L136.1 243.7 L136.7 243.8 L137.3 244 L137.9 244.1 L138.6 244.3 L139.2 244.4 L139.8 244.6 L140.4 244.7 L141.1 244.8 L141.7 245 L142.3 245.2 L142.9 245.3 L143.6 245.5 L144.2 245.6 L144.8 245.8 L145.4 245.9 L146.1 245.9 L146.7 246 L147.3 246 L147.9 246 L148.6 246 L149.2 245.9 L149.8 245.9 L150.4 245.8 L151.1 245.7 L151.7 245.6 L152.3 245.6 L152.9 245.5 L153.5 245.4 L154.2 245.3 L154.8 245.3 L155.4 245.2 L156 245.2 L156.7 245.2 L157.3 245.2 L157.9 245.2 L158.5 245.2 L159.2 245.3 L159.8 245.3 L160.4 245.4 L161 245.5 L161.7 245.6 L162.3 245.6 L162.9 245.7 L163.5 245.8 L164.2 245.8 L164.8 245.8 L165.4 245.8 L166 245.9 L166.7 245.9 L167.3 245.9 L167.9 245.9 L168.5 246 L169.2 246 L169.8 246 L170.4 246 L170.4 247.5 L169.8 247.5 L169.2 247.5 L168.5 247.5 L167.9 247.5 L167.3 247.5 L166.7 247.5 L166 247.5 L165.4 247.5 L164.8 247.5 L164.2 247.5 L163.5 247.5 L162.9 247.5 L162.3 247.5 L161.7 247.5 L161 247.5 L160.4 247.5 L159.8 247.4 L159.2 247.4 L158.5 247.4 L157.9 247.4 L157.3 247.4 L156.7 247.4 L156 247.4 L155.4 247.4 L154.8 247.4 L154.2 247.4 L153.5 247.4 L152.9 247.4 L152.3 247.4 L151.7 247.4 L151.1 247.4 L150.4 247.4 L149.8 247.4 L149.2 247.4 L148.6 247.4 L147.9 247.4 L147.3 247.4 L146.7 247.4 L146.1 247.3 L145.4 247.3 L144.8 247.3 L144.2 247.3 L143.6 247.3 L142.9 247.3 L142.3 247.3 L141.7 247.3 L141.1 247.3 L140.4 247.3 L139.8 247.3 L139.2 247.3 L138.6 247.2 L137.9 247.2 L137.3 247.1 L136.7 247.1 L136.1 247 L135.4 246.9 L134.8 246.8 L134.2 246.8 L133.6 246.7 L133 246.6 L132.3 246.5 L131.7 246.5 L131.1 246.4 L130.5 246.4 L129.8 246.4 L129.2 246.4 L128.6 246.5 L128 246.5 L127.3 246.6 L126.7 246.7 L126.1 246.7 L125.5 246.8 L124.8 246.9 L124.2 247 L123.6 247.1 L123 247.1 L122.3 247.2 L121.7 247.2 L121.1 247.3 L120.5 247.3 L119.8 247.3 L119.2 247.2 L118.6 247.2 L118 247.2 L117.3 247.1 L116.7 247.1 L116.1 247.1 L115.5 247 L114.9 247 L114.2 246.9 L113.6 246.9 L113 246.9 L112.4 246.9 L111.7 246.8 L111.1 246.8 L110.5 246.9 L109.9 246.9 L109.2 246.9 L108.6 247 L108 247 L107.4 247.1 L106.7 247.1 L106.1 247.2 L105.5 247.2 L104.9 247.3 L104.2 247.4 L103.6 247.5 L103 247.6 L102.4 247.8 L101.7 247.9 L101.1 248 L100.5 248.1 L99.9 248.1 L99.3 248.1 L98.6 248.1 L98 248.1 L97.4 248.1 L96.8 248.1 L96.1 248.1 L95.5 248.1 L94.9 248.1 L94.3 248.1 L93.6 248.1 L93 248.1 L92.4 248.1 L91.8 248.1 L91.1 248.1 L90.5 248.1 L89.9 248.1 L89.3 248.1 L88.6 248.1 L88 248.1 L87.4 248.1 L86.8 248.1 L86.1 248.1 L85.5 248.1 L84.9 248.1 L84.3 248.1 L83.6 248.1 L83 248.1 L82.4 248.1 L81.8 248.1 L81.2 248.1 L80.5 248.1 L79.9 248.1 L79.3 248.1 L78.7 248.1 L78 248.1 L77.4 248.1 L76.8 248.1 L76.2 248.1 L75.5 248.1 L74.9 248.1 L74.3 248.1 L73.7 248.1 L73 248.1 L72.4 248.1 L71.8 248.1 L71.2 248.1 L70.5 248.1 L69.9 248.1 L69.3 248.1 L68.7 248.1 L68 248.1 L67.4 248.1 L66.8 248.1 L66.2 248.1 L65.5 248.1 L64.9 248.1 L64.3 248.1 L63.7 248.1 L63.1 248.1 L62.4 248.1 L61.8 248.1 L61.2 248.1 L60.6 248.1 L59.9 248.1 L59.3 248.1 L58.7 248.1 L58.1 248.1 L57.4 248.1 L56.8 248.1 L56.2 248.1 L55.6 248.1 L54.9 248.1 L54.3 248.1 L53.7 248.1 L53.1 248.1 L52.4 248.1 L51.8 248.1 L51.2 248.1 L50.6 248.1 L49.9 248.1 L49.3 248.1 L48.7 248.1 L48.1 248.1 L47.4 248.1 L46.8 248.1 L46.2 248.1 Z" fill="rgba(255,0,0,0.28)"/>
<path d="M127.6 164.1 V248.1" stroke="#0a0a0a" stroke-width="1.3" stroke-dasharray="8 4" fill="none"/>
<path d="M101.8 165.1 V248.1" stroke="#d810c8" stroke-width="1.2" stroke-dasharray="9.8 1.4 2.6 5.2" fill="none"/>
<path d="M93.6 248 L94.3 247.8 L94.9 247.6 L95.5 247.4 L96.1 247.2 L96.8 246.9 L97.4 246.5 L98 246.2 L98.6 245.8 L99.3 245.4 L99.9 245.1 L100.5 244.7 L101.1 244.4 L101.7 244.1 L102.4 243.8 L103 243.5 L103.6 243.3 L104.2 243.1 L104.9 242.9 L105.5 242.7 L106.1 242.6 L106.7 242.5 L107.4 242.4 L108 242.4 L108.6 242.4 L109.2 242.4 L109.9 242.4 L110.5 242.6 L111.1 242.7 L111.7 242.8 L112.4 242.9 L113 243.1 L113.6 243.3 L114.2 243.5 L114.9 243.7 L115.5 243.8 L116.1 244 L116.7 244.1 L117.3 244.3 L118 244.5 L118.6 244.6 L119.2 244.7 L119.8 244.8 L120.5 244.9 L121.1 245 L121.7 245 L122.3 245.1 L123 245.1 L123.6 245.1 L124.2 245.2 L124.8 245.2 L125.5 245.1 L126.1 245 L126.7 244.8 L127.3 244.6 L128 244.5 L128.6 244.4 L129.2 244.3 L129.8 244.2 L130.5 244.1 L131.1 244.1 L131.7 244.1 L132.3 244.2 L133 244.3 L133.6 244.5 L134.2 244.6 L134.8 244.7 L135.4 244.8 L136.1 244.9 L136.7 245 L137.3 245.1 L137.9 245.2 L138.6 245.3 L139.2 245.4 L139.8 245.5 L140.4 245.6 L141.1 245.7 L141.7 245.8 L142.3 245.9 L142.9 246 L143.6 246.2 L144.2 246.3 L144.8 246.4 L145.4 246.5 L146.1 246.6 L146.7 246.6 L147.3 246.6 L147.9 246.6 L148.6 246.6 L149.2 246.6 L149.8 246.5 L150.4 246.5 L151.1 246.4 L151.7 246.4 L152.3 246.3 L152.9 246.2 L153.5 246.2 L154.2 246.1 L154.8 246.1 L155.4 246 L156 246 L156.7 246 L157.3 246 L157.9 246 L158.5 246 L159.2 246.1 L159.8 246.1 L160.4 246.2 L161 246.2 L161.7 246.3 L162.3 246.3 L162.9 246.3 L163.5 246.4 L164.2 246.4 L164.8 246.4 L165.4 246.5 L166 246.5 L166.7 246.5 L167.3 246.5 L167.9 246.6 L168.5 246.6 L169.2 246.6 L169.8 246.6 L170.4 246.6" stroke="#f00" stroke-width="1.2" fill="none" stroke-linejoin="round"/>
<path d="M92.4 248 L93 247.7 L93.6 247.4 L94.3 247.1 L94.9 246.7 L95.5 246.1 L96.1 245.4 L96.8 244.5 L97.4 243.6 L98 242.6 L98.6 241.4 L99.3 240 L99.9 238.6 L100.5 237.3 L101.1 236.4 L101.7 235.5 L102.4 234.7 L103 234.1 L103.6 233.6 L104.2 233.3 L104.9 233.1 L105.5 232.9 L106.1 232.8 L106.7 232.7 L107.4 232.7 L108 232.8 L108.6 232.9 L109.2 233 L109.9 233.2 L110.5 233.3 L111.1 233.5 L111.7 233.8 L112.4 234.1 L113 234.4 L113.6 234.8 L114.2 235.1 L114.9 235.4 L115.5 235.6 L116.1 235.8 L116.7 235.9 L117.3 236.1 L118 236.2 L118.6 236.3 L119.2 236.4 L119.8 236.5 L120.5 236.6 L121.1 236.7 L121.7 236.7 L122.3 236.7 L123 236.8 L123.6 236.8 L124.2 236.9 L124.8 237 L125.5 237.1 L126.1 237.3 L126.7 237.5 L127.3 237.8 L128 238 L128.6 238.3 L129.2 238.7 L129.8 239.1 L130.5 239.6 L131.1 240.1 L131.7 240.5 L132.3 240.9 L133 241.1 L133.6 241.2 L134.2 241.3 L134.8 241.5 L135.4 241.6 L136.1 241.7 L136.7 241.8 L137.3 241.9 L137.9 242 L138.6 242.1 L139.2 242.2 L139.8 242.3 L140.4 242.4 L141.1 242.6 L141.7 242.8 L142.3 243 L142.9 243.3 L143.6 243.6 L144.2 243.9 L144.8 244.1 L145.4 244.3 L146.1 244.5 L146.7 244.6 L147.3 244.6 L147.9 244.6 L148.6 244.5 L149.2 244.5 L149.8 244.5 L150.4 244.4 L151.1 244.4 L151.7 244.3 L152.3 244.3 L152.9 244.2 L153.5 244.2 L154.2 244.1 L154.8 244 L155.4 244 L156 243.9 L156.7 243.9 L157.3 243.9 L157.9 243.9 L158.5 244 L159.2 244 L159.8 244.1 L160.4 244.2 L161 244.3 L161.7 244.4 L162.3 244.5 L162.9 244.6 L163.5 244.7 L164.2 244.7 L164.8 244.8 L165.4 244.9 L166 244.9 L166.7 245 L167.3 245 L167.9 245.1 L168.5 245.1 L169.2 245.2 L169.8 245.2 L170.4 245.3" stroke="#00f" stroke-width="1.2" fill="none" stroke-linejoin="round"/>
<path d="M46.2 248.1 L46.8 248.1 L47.4 248.1 L48.1 248.1 L48.7 248.1 L49.3 248.1 L49.9 248.1 L50.6 248.1 L51.2 248.1 L51.8 248.1 L52.4 248.1 L53.1 248.1 L53.7 248.1 L54.3 248.1 L54.9 248.1 L55.6 248.1 L56.2 248.1 L56.8 248.1 L57.4 248.1 L58.1 248.1 L58.7 248.1 L59.3 248.1 L59.9 248.1 L60.6 248.1 L61.2 248.1 L61.8 248.1 L62.4 248.1 L63.1 248.1 L63.7 248.1 L64.3 248.1 L64.9 248.1 L65.5 248.1 L66.2 248.1 L66.8 248.1 L67.4 248.1 L68 248.1 L68.7 248.1 L69.3 248.1 L69.9 248.1 L70.5 248.1 L71.2 248.1 L71.8 248.1 L72.4 248.1 L73 248.1 L73.7 248.1 L74.3 248.1 L74.9 248.1 L75.5 248.1 L76.2 248.1 L76.8 248.1 L77.4 248.1 L78 248.1 L78.7 248.1 L79.3 248.1 L79.9 248.1 L80.5 248.1 L81.2 248.1 L81.8 248.1 L82.4 248.1 L83 248.1 L83.6 248.1 L84.3 248.1 L84.9 248.1 L85.5 248.1 L86.1 248.1 L86.8 248.1 L87.4 248.1 L88 248.1 L88.6 248.1 L89.3 248.1 L89.9 248.1 L90.5 248 L91.1 247.8 L91.8 247.6 L92.4 247.3 L93 247 L93.6 246.5 L94.3 245.9 L94.9 245.2 L95.5 244.4 L96.1 243.1 L96.8 241.6 L97.4 240.2 L98 239.5 L98.6 239.1 L99.3 238.7 L99.9 238.1 L100.5 235.4 L101.1 230.3 L101.7 225.3 L102.4 222.6 L103 220.6 L103.6 219 L104.2 217.7 L104.9 216.6 L105.5 215.9 L106.1 215.1 L106.7 214.5 L107.4 213.9 L108 213.6 L108.6 213.4 L109.2 213.6 L109.9 214 L110.5 214.7 L111.1 215.4 L111.7 216.3 L112.4 217.8 L113 219.4 L113.6 220.9 L114.2 222 L114.9 223.2 L115.5 224.2 L116.1 225.2 L116.7 226.2 L117.3 227 L118 227.8 L118.6 228.5 L119.2 229.2 L119.8 229.8 L120.5 230.3 L121.1 230.8 L121.7 231.1 L122.3 231.4 L123 231.6 L123.6 231.9 L124.2 232 L124.8 232 L125.5 232 L126.1 231.9 L126.7 231.7 L127.3 231.6 L128 231.4 L128.6 231.3 L129.2 231.3 L129.8 231.2 L130.5 231.2 L131.1 231.1 L131.7 231.1 L132.3 231.1 L133 231.1 L133.6 231.2 L134.2 231.3 L134.8 231.5 L135.4 231.7 L136.1 231.9 L136.7 232.1 L137.3 232.3 L137.9 232.5 L138.6 232.6 L139.2 232.8 L139.8 233.1 L140.4 233.3 L141.1 233.7 L141.7 234.2 L142.3 234.7 L142.9 235.3 L143.6 235.8 L144.2 236.3 L144.8 236.9 L145.4 237.4 L146.1 237.9 L146.7 238.4 L147.3 238.7 L147.9 239.1 L148.6 239.4 L149.2 239.7 L149.8 240 L150.4 240.1 L151.1 240.2 L151.7 240.2 L152.3 240.1 L152.9 240.1 L153.5 240 L154.2 239.9 L154.8 239.9 L155.4 239.8 L156 239.8 L156.7 239.7 L157.3 239.7 L157.9 239.8 L158.5 240 L159.2 240.3 L159.8 240.5 L160.4 240.7 L161 240.9 L161.7 241.1 L162.3 241.2 L162.9 241.4 L163.5 241.5 L164.2 241.5 L164.8 241.5 L165.4 241.4 L166 241.3 L166.7 241.1 L167.3 241 L167.9 240.8 L168.5 240.7 L169.2 240.5 L169.8 240.4 L170.4 240.2" stroke="#000" stroke-width="1.2" fill="none" stroke-linejoin="round"/>
</g>
<rect x="46.2" y="160.4" width="124.2" height="91.6" fill="none" stroke="#161616" stroke-width="1.4"/>
<path d="M46.2 252 v3.2 M77.2 252 v3.2 M108.3 252 v3.2 M139.4 252 v3.2 M170.4 252 v3.2 M46.2 248.1 h-3.2 M46.2 206.1 h-3.2 M46.2 164.2 h-3.2" stroke="#111" stroke-width="1" fill="none"/>
</g>
<g>
<clipPath id="cp4"><rect x="203.9" y="160.4" width="124.4" height="91.6"/></clipPath>
<path d="M235 160.4 V252 M266.1 160.4 V252 M297.2 160.4 V252 M203.9 248.1 H328.3 M203.9 206.1 H328.3 M203.9 164.2 H328.3" stroke="#000" stroke-width="0.85" stroke-dasharray="1.35 0.7" fill="none"/>
<g clip-path="url(#cp4)">
<path d="M203.9 248.1 L204.5 248.1 L205.2 248.1 L205.8 248.1 L206.4 248.1 L207 248.1 L207.7 248.1 L208.3 248.1 L208.9 248.1 L209.5 248.1 L210.2 248.1 L210.8 248.1 L211.4 248.1 L212 248.1 L212.7 248.1 L213.3 248.1 L213.9 248.1 L214.5 248.1 L215.2 248.1 L215.8 248.1 L216.4 248.1 L217 248.1 L217.7 248.1 L218.3 248.1 L218.9 248.1 L219.5 248.1 L220.2 248.1 L220.8 248.1 L221.4 248.1 L222 248.1 L222.7 248.1 L223.3 248.1 L223.9 248.1 L224.5 248.1 L225.2 248.1 L225.8 248.1 L226.4 248.1 L227 248.1 L227.7 248.1 L228.3 248.1 L228.9 248.1 L229.5 248.1 L230.2 248.1 L230.8 248.1 L231.4 248.1 L232 248.1 L232.7 248.1 L233.3 248.1 L233.9 248.1 L234.5 248.1 L235.2 248.1 L235.8 248.1 L236.4 248.1 L237 248.1 L237.7 248.1 L238.3 248.1 L238.9 248.1 L239.5 248.1 L240.2 248.1 L240.8 248.1 L241.4 248.1 L242 248.1 L242.7 248.1 L243.3 248.1 L243.9 248.1 L244.5 248.1 L245.2 248.1 L245.8 248.1 L246.4 248.1 L247 248.1 L247.7 248.1 L248.3 248.1 L248.9 248.1 L249.5 247.9 L250.2 247.6 L250.8 247.1 L251.4 246.6 L252 246 L252.7 245.3 L253.3 244.5 L253.9 243.5 L254.5 242.3 L255.2 240.7 L255.8 238.8 L256.4 235.9 L257 231.9 L257.7 226.8 L258.3 219.3 L258.9 210.7 L259.5 202.3 L260.2 193.5 L260.8 188.3 L261.4 184.8 L262 182.1 L262.7 180.1 L263.3 178.7 L263.9 177.5 L264.5 176.6 L265.2 176 L265.8 176.1 L266.4 177.2 L267 178.9 L267.7 180.4 L268.3 181.4 L268.9 182.2 L269.5 182.8 L270.2 183.4 L270.8 183.9 L271.4 184.3 L272 184.6 L272.7 184.9 L273.3 185.3 L273.9 185.7 L274.5 186.5 L275.2 187.7 L275.8 189.4 L276.4 191.4 L277 194.2 L277.7 197.2 L278.3 200.6 L278.9 204.4 L279.5 208.2 L280.2 211.7 L280.8 214.6 L281.4 217.3 L282 219.7 L282.7 221.6 L283.3 223.4 L283.9 225 L284.5 226 L285.2 226.7 L285.8 227.3 L286.4 227.8 L287 228.3 L287.7 228.7 L288.3 229.1 L288.9 229.5 L289.5 229.9 L290.2 230.4 L290.8 230.8 L291.4 231.2 L292 231.6 L292.7 232 L293.3 232.5 L293.9 233 L294.5 233.5 L295.2 233.9 L295.8 234.2 L296.4 234.2 L297 233.7 L297.7 232.7 L298.3 231.6 L298.9 230.5 L299.5 229.1 L300.2 227.6 L300.8 226.5 L301.4 225.9 L302 226 L302.7 226.6 L303.3 227.4 L303.9 228.3 L304.5 229.1 L305.2 229.8 L305.8 230.7 L306.4 231.4 L307 231.7 L307.7 231.7 L308.3 231.5 L308.9 231.2 L309.5 231 L310.2 230.9 L310.8 231 L311.4 231.3 L312 231.8 L312.7 232.3 L313.3 232.9 L313.9 233.7 L314.5 234.8 L315.2 235.9 L315.8 236.7 L316.4 237.1 L317 237.5 L317.7 237.8 L318.3 238 L318.9 238.2 L319.5 238.4 L320.2 238.7 L320.8 238.9 L321.4 239.1 L322 239.3 L322.7 239.4 L323.3 239.6 L323.9 239.7 L324.5 239.8 L325.2 239.9 L325.8 240 L326.4 240 L327 240.1 L327.7 240.1 L328.3 240.1 L328.3 246.4 L327.7 246.4 L327 246.4 L326.4 246.5 L325.8 246.5 L325.2 246.5 L324.5 246.5 L323.9 246.5 L323.3 246.5 L322.7 246.5 L322 246.6 L321.4 246.6 L320.8 246.6 L320.2 246.6 L319.5 246.6 L318.9 246.6 L318.3 246.7 L317.7 246.7 L317 246.7 L316.4 246.7 L315.8 246.7 L315.2 246.8 L314.5 246.8 L313.9 246.8 L313.3 246.8 L312.7 246.8 L312 246.9 L311.4 246.9 L310.8 246.9 L310.2 247 L309.5 247 L308.9 247 L308.3 247.1 L307.7 247.1 L307 247.1 L306.4 247.2 L305.8 247.2 L305.2 247.2 L304.5 247.2 L303.9 247.3 L303.3 247.3 L302.7 247.3 L302 247.2 L301.4 247.2 L300.8 247.2 L300.2 247.1 L299.5 247.1 L298.9 247 L298.3 247 L297.7 246.9 L297 246.8 L296.4 246.7 L295.8 246.6 L295.2 246.5 L294.5 246.3 L293.9 246.1 L293.3 245.9 L292.7 245.7 L292 245.5 L291.4 245.2 L290.8 245 L290.2 244.8 L289.5 244.5 L288.9 244.3 L288.3 244.1 L287.7 243.8 L287 243.6 L286.4 243.4 L285.8 243.2 L285.2 243 L284.5 242.8 L283.9 242.5 L283.3 242.1 L282.7 241.5 L282 240.8 L281.4 240 L280.8 239.1 L280.2 238.2 L279.5 237.2 L278.9 236.2 L278.3 235.1 L277.7 234 L277 232.9 L276.4 231.8 L275.8 231 L275.2 230 L274.5 229.1 L273.9 228.2 L273.3 227.6 L272.7 227.2 L272 227.1 L271.4 227.3 L270.8 227.6 L270.2 228 L269.5 228.4 L268.9 228.8 L268.3 229.1 L267.7 229.3 L267 229.5 L266.4 229.6 L265.8 229.8 L265.2 229.9 L264.5 230.1 L263.9 230.3 L263.3 230.7 L262.7 231.2 L262 232 L261.4 232.9 L260.8 234 L260.2 235 L259.5 236.1 L258.9 237.5 L258.3 239.1 L257.7 240.7 L257 242.2 L256.4 243.5 L255.8 244.5 L255.2 245.4 L254.5 246.4 L253.9 247.2 L253.3 247.8 L252.7 248.1 L252 248.1 L251.4 248.1 L250.8 248.1 L250.2 248.1 L249.5 248.1 L248.9 248.1 L248.3 248.1 L247.7 248.1 L247 248.1 L246.4 248.1 L245.8 248.1 L245.2 248.1 L244.5 248.1 L243.9 248.1 L243.3 248.1 L242.7 248.1 L242 248.1 L241.4 248.1 L240.8 248.1 L240.2 248.1 L239.5 248.1 L238.9 248.1 L238.3 248.1 L237.7 248.1 L237 248.1 L236.4 248.1 L235.8 248.1 L235.2 248.1 L234.5 248.1 L233.9 248.1 L233.3 248.1 L232.7 248.1 L232 248.1 L231.4 248.1 L230.8 248.1 L230.2 248.1 L229.5 248.1 L228.9 248.1 L228.3 248.1 L227.7 248.1 L227 248.1 L226.4 248.1 L225.8 248.1 L225.2 248.1 L224.5 248.1 L223.9 248.1 L223.3 248.1 L222.7 248.1 L222 248.1 L221.4 248.1 L220.8 248.1 L220.2 248.1 L219.5 248.1 L218.9 248.1 L218.3 248.1 L217.7 248.1 L217 248.1 L216.4 248.1 L215.8 248.1 L215.2 248.1 L214.5 248.1 L213.9 248.1 L213.3 248.1 L212.7 248.1 L212 248.1 L211.4 248.1 L210.8 248.1 L210.2 248.1 L209.5 248.1 L208.9 248.1 L208.3 248.1 L207.7 248.1 L207 248.1 L206.4 248.1 L205.8 248.1 L205.2 248.1 L204.5 248.1 L203.9 248.1 Z" fill="rgba(0,0,0,0.33)"/>
<path d="M203.9 248.1 L204.5 248.1 L205.2 248.1 L205.8 248.1 L206.4 248.1 L207 248.1 L207.7 248.1 L208.3 248.1 L208.9 248.1 L209.5 248.1 L210.2 248.1 L210.8 248.1 L211.4 248.1 L212 248.1 L212.7 248.1 L213.3 248.1 L213.9 248.1 L214.5 248.1 L215.2 248.1 L215.8 248.1 L216.4 248.1 L217 248.1 L217.7 248.1 L218.3 248.1 L218.9 248.1 L219.5 248.1 L220.2 248.1 L220.8 248.1 L221.4 248.1 L222 248.1 L222.7 248.1 L223.3 248.1 L223.9 248.1 L224.5 248.1 L225.2 248.1 L225.8 248.1 L226.4 248.1 L227 248.1 L227.7 248.1 L228.3 248.1 L228.9 248.1 L229.5 248.1 L230.2 248.1 L230.8 248.1 L231.4 248.1 L232 248.1 L232.7 248.1 L233.3 248.1 L233.9 248.1 L234.5 248.1 L235.2 248.1 L235.8 248.1 L236.4 248.1 L237 248.1 L237.7 248.1 L238.3 248.1 L238.9 248.1 L239.5 248.1 L240.2 248.1 L240.8 248.1 L241.4 248.1 L242 248.1 L242.7 248.1 L243.3 248.1 L243.9 248.1 L244.5 248.1 L245.2 248.1 L245.8 248.1 L246.4 248.1 L247 248.1 L247.7 248.1 L248.3 248.1 L248.9 247.7 L249.5 247.1 L250.2 246.2 L250.8 245.3 L251.4 244.4 L252 243.3 L252.7 242.1 L253.3 240.8 L253.9 239.5 L254.5 238.3 L255.2 237.2 L255.8 236.1 L256.4 234.9 L257 233.9 L257.7 233 L258.3 232.4 L258.9 232 L259.5 231.8 L260.2 231.6 L260.8 231.4 L261.4 231.3 L262 231.3 L262.7 231.6 L263.3 231.9 L263.9 232.3 L264.5 232.5 L265.2 232.5 L265.8 231.9 L266.4 230.9 L267 229.7 L267.7 228.7 L268.3 227.4 L268.9 226 L269.5 224.6 L270.2 223.4 L270.8 222.4 L271.4 221.5 L272 220.7 L272.7 220 L273.3 219.6 L273.9 219.6 L274.5 219.6 L275.2 219.8 L275.8 219.9 L276.4 220.2 L277 220.8 L277.7 221.6 L278.3 222.6 L278.9 223.5 L279.5 224.7 L280.2 226 L280.8 226.9 L281.4 227.4 L282 227.7 L282.7 228 L283.3 228.3 L283.9 228.4 L284.5 228.3 L285.2 228.2 L285.8 227.9 L286.4 227.7 L287 227.6 L287.7 227.6 L288.3 227.9 L288.9 228.3 L289.5 228.9 L290.2 229.5 L290.8 230.1 L291.4 231 L292 231.9 L292.7 233 L293.3 234 L293.9 235 L294.5 236 L295.2 237.1 L295.8 238 L296.4 238.7 L297 239.2 L297.7 239.7 L298.3 240 L298.9 240.3 L299.5 240.6 L300.2 240.9 L300.8 241.2 L301.4 241.5 L302 241.7 L302.7 242 L303.3 242.1 L303.9 242.2 L304.5 242.2 L305.2 242.2 L305.8 242.2 L306.4 242.1 L307 242.1 L307.7 242 L308.3 242 L308.9 241.9 L309.5 241.8 L310.2 241.7 L310.8 241.5 L311.4 241.3 L312 241 L312.7 240.8 L313.3 240.5 L313.9 240.3 L314.5 240.2 L315.2 240.1 L315.8 240.2 L316.4 240.3 L317 240.4 L317.7 240.6 L318.3 240.9 L318.9 241.1 L319.5 241.4 L320.2 241.6 L320.8 241.8 L321.4 242 L322 242.2 L322.7 242.3 L323.3 242.5 L323.9 242.7 L324.5 242.9 L325.2 243 L325.8 243.2 L326.4 243.4 L327 243.6 L327.7 243.7 L328.3 243.9 L328.3 246.8 L327.7 246.8 L327 246.8 L326.4 246.8 L325.8 246.8 L325.2 246.8 L324.5 246.8 L323.9 246.8 L323.3 246.8 L322.7 246.8 L322 246.8 L321.4 246.8 L320.8 246.8 L320.2 246.8 L319.5 246.8 L318.9 246.8 L318.3 246.8 L317.7 246.8 L317 246.8 L316.4 246.8 L315.8 246.8 L315.2 246.8 L314.5 246.8 L313.9 246.8 L313.3 246.8 L312.7 246.7 L312 246.7 L311.4 246.7 L310.8 246.7 L310.2 246.7 L309.5 246.7 L308.9 246.7 L308.3 246.7 L307.7 246.7 L307 246.7 L306.4 246.6 L305.8 246.6 L305.2 246.6 L304.5 246.6 L303.9 246.6 L303.3 246.6 L302.7 246.6 L302 246.6 L301.4 246.5 L300.8 246.5 L300.2 246.5 L299.5 246.5 L298.9 246.5 L298.3 246.5 L297.7 246.4 L297 246.4 L296.4 246.4 L295.8 246.3 L295.2 246.2 L294.5 246.2 L293.9 246.1 L293.3 246 L292.7 245.8 L292 245.7 L291.4 245.6 L290.8 245.6 L290.2 245.5 L289.5 245.4 L288.9 245.3 L288.3 245.2 L287.7 245.1 L287 245.1 L286.4 245 L285.8 244.9 L285.2 244.8 L284.5 244.7 L283.9 244.6 L283.3 244.5 L282.7 244.4 L282 244.3 L281.4 244.2 L280.8 244.1 L280.2 244 L279.5 243.9 L278.9 243.9 L278.3 243.9 L277.7 243.9 L277 244 L276.4 244.1 L275.8 244.2 L275.2 244.3 L274.5 244.4 L273.9 244.5 L273.3 244.6 L272.7 244.7 L272 244.8 L271.4 244.9 L270.8 244.9 L270.2 245 L269.5 245.1 L268.9 245.2 L268.3 245.2 L267.7 245.3 L267 245.4 L266.4 245.5 L265.8 245.6 L265.2 245.8 L264.5 245.9 L263.9 246.1 L263.3 246.3 L262.7 246.5 L262 246.7 L261.4 246.9 L260.8 247 L260.2 247.2 L259.5 247.3 L258.9 247.5 L258.3 247.7 L257.7 247.8 L257 247.9 L256.4 248 L255.8 248.1 L255.2 248.1 L254.5 248.1 L253.9 248.1 L253.3 248.1 L252.7 248.1 L252 248.1 L251.4 248.1 L250.8 248.1 L250.2 248.1 L249.5 248.1 L248.9 248.1 L248.3 248.1 L247.7 248.1 L247 248.1 L246.4 248.1 L245.8 248.1 L245.2 248.1 L244.5 248.1 L243.9 248.1 L243.3 248.1 L242.7 248.1 L242 248.1 L241.4 248.1 L240.8 248.1 L240.2 248.1 L239.5 248.1 L238.9 248.1 L238.3 248.1 L237.7 248.1 L237 248.1 L236.4 248.1 L235.8 248.1 L235.2 248.1 L234.5 248.1 L233.9 248.1 L233.3 248.1 L232.7 248.1 L232 248.1 L231.4 248.1 L230.8 248.1 L230.2 248.1 L229.5 248.1 L228.9 248.1 L228.3 248.1 L227.7 248.1 L227 248.1 L226.4 248.1 L225.8 248.1 L225.2 248.1 L224.5 248.1 L223.9 248.1 L223.3 248.1 L222.7 248.1 L222 248.1 L221.4 248.1 L220.8 248.1 L220.2 248.1 L219.5 248.1 L218.9 248.1 L218.3 248.1 L217.7 248.1 L217 248.1 L216.4 248.1 L215.8 248.1 L215.2 248.1 L214.5 248.1 L213.9 248.1 L213.3 248.1 L212.7 248.1 L212 248.1 L211.4 248.1 L210.8 248.1 L210.2 248.1 L209.5 248.1 L208.9 248.1 L208.3 248.1 L207.7 248.1 L207 248.1 L206.4 248.1 L205.8 248.1 L205.2 248.1 L204.5 248.1 L203.9 248.1 Z" fill="rgba(0,0,255,0.28)"/>
<path d="M203.9 248.1 L204.5 248.1 L205.2 248.1 L205.8 248.1 L206.4 248.1 L207 248.1 L207.7 248.1 L208.3 248.1 L208.9 248.1 L209.5 248.1 L210.2 248.1 L210.8 248.1 L211.4 248.1 L212 248.1 L212.7 248.1 L213.3 248.1 L213.9 248.1 L214.5 248.1 L215.2 248.1 L215.8 248.1 L216.4 248.1 L217 248.1 L217.7 248.1 L218.3 248.1 L218.9 248.1 L219.5 248.1 L220.2 248.1 L220.8 248.1 L221.4 248.1 L222 248.1 L222.7 248.1 L223.3 248.1 L223.9 248.1 L224.5 248.1 L225.2 248.1 L225.8 248.1 L226.4 248.1 L227 248.1 L227.7 248.1 L228.3 248.1 L228.9 248.1 L229.5 248.1 L230.2 248.1 L230.8 248.1 L231.4 248.1 L232 248.1 L232.7 248.1 L233.3 248.1 L233.9 248.1 L234.5 248.1 L235.2 248.1 L235.8 248.1 L236.4 248.1 L237 248.1 L237.7 248.1 L238.3 248.1 L238.9 248.1 L239.5 248.1 L240.2 248.1 L240.8 248.1 L241.4 248.1 L242 248.1 L242.7 248.1 L243.3 248.1 L243.9 248.1 L244.5 248.1 L245.2 248.1 L245.8 248.1 L246.4 248.1 L247 248.1 L247.7 248.1 L248.3 248.1 L248.9 248.1 L249.5 247.9 L250.2 247.6 L250.8 247.2 L251.4 246.8 L252 246.3 L252.7 245.8 L253.3 245.3 L253.9 244.7 L254.5 244 L255.2 243.3 L255.8 242.6 L256.4 241.9 L257 241.2 L257.7 240.5 L258.3 239.7 L258.9 239 L259.5 238.3 L260.2 237.8 L260.8 237.2 L261.4 236.7 L262 236.2 L262.7 235.8 L263.3 235.5 L263.9 235.5 L264.5 235.6 L265.2 235.6 L265.8 235.7 L266.4 235.9 L267 236 L267.7 236.4 L268.3 236.9 L268.9 237.5 L269.5 237.9 L270.2 238.1 L270.8 238.3 L271.4 238.4 L272 238.6 L272.7 238.7 L273.3 238.8 L273.9 238.9 L274.5 239.1 L275.2 239.2 L275.8 239.4 L276.4 239.5 L277 239.7 L277.7 239.8 L278.3 239.9 L278.9 240.1 L279.5 240.2 L280.2 240.4 L280.8 240.5 L281.4 240.6 L282 240.7 L282.7 240.7 L283.3 240.8 L283.9 240.9 L284.5 241 L285.2 241.2 L285.8 241.4 L286.4 241.6 L287 241.9 L287.7 242.2 L288.3 242.4 L288.9 242.6 L289.5 242.7 L290.2 242.9 L290.8 243.1 L291.4 243.3 L292 243.4 L292.7 243.6 L293.3 243.8 L293.9 244 L294.5 244.2 L295.2 244.3 L295.8 244.5 L296.4 244.6 L297 244.7 L297.7 244.8 L298.3 244.9 L298.9 245 L299.5 245 L300.2 245.1 L300.8 245.2 L301.4 245.2 L302 245.3 L302.7 245.3 L303.3 245.4 L303.9 245.4 L304.5 245.5 L305.2 245.5 L305.8 245.6 L306.4 245.6 L307 245.6 L307.7 245.7 L308.3 245.7 L308.9 245.7 L309.5 245.8 L310.2 245.8 L310.8 245.9 L311.4 245.9 L312 245.9 L312.7 246 L313.3 246 L313.9 246 L314.5 246.1 L315.2 246.1 L315.8 246.1 L316.4 246.2 L317 246.2 L317.7 246.2 L318.3 246.3 L318.9 246.3 L319.5 246.3 L320.2 246.4 L320.8 246.4 L321.4 246.4 L322 246.4 L322.7 246.5 L323.3 246.5 L323.9 246.5 L324.5 246.5 L325.2 246.5 L325.8 246.6 L326.4 246.6 L327 246.6 L327.7 246.6 L328.3 246.6 L328.3 247.7 L327.7 247.7 L327 247.7 L326.4 247.6 L325.8 247.6 L325.2 247.6 L324.5 247.6 L323.9 247.6 L323.3 247.6 L322.7 247.6 L322 247.6 L321.4 247.6 L320.8 247.5 L320.2 247.5 L319.5 247.5 L318.9 247.5 L318.3 247.5 L317.7 247.5 L317 247.5 L316.4 247.5 L315.8 247.5 L315.2 247.5 L314.5 247.4 L313.9 247.4 L313.3 247.4 L312.7 247.4 L312 247.4 L311.4 247.4 L310.8 247.4 L310.2 247.4 L309.5 247.4 L308.9 247.4 L308.3 247.4 L307.7 247.4 L307 247.3 L306.4 247.3 L305.8 247.3 L305.2 247.3 L304.5 247.3 L303.9 247.3 L303.3 247.3 L302.7 247.3 L302 247.3 L301.4 247.3 L300.8 247.3 L300.2 247.3 L299.5 247.3 L298.9 247.3 L298.3 247.3 L297.7 247.3 L297 247.3 L296.4 247.3 L295.8 247.3 L295.2 247.3 L294.5 247.3 L293.9 247.3 L293.3 247.3 L292.7 247.3 L292 247.3 L291.4 247.3 L290.8 247.3 L290.2 247.3 L289.5 247.3 L288.9 247.3 L288.3 247.3 L287.7 247.3 L287 247.3 L286.4 247.3 L285.8 247.3 L285.2 247.3 L284.5 247.3 L283.9 247.3 L283.3 247.3 L282.7 247.3 L282 247.3 L281.4 247.3 L280.8 247.3 L280.2 247.3 L279.5 247.3 L278.9 247.3 L278.3 247.3 L277.7 247.3 L277 247.2 L276.4 247.2 L275.8 247.2 L275.2 247.2 L274.5 247.1 L273.9 247.1 L273.3 247.1 L272.7 247 L272 247 L271.4 247 L270.8 246.9 L270.2 246.9 L269.5 246.9 L268.9 246.8 L268.3 246.8 L267.7 246.7 L267 246.7 L266.4 246.6 L265.8 246.6 L265.2 246.5 L264.5 246.5 L263.9 246.4 L263.3 246.4 L262.7 246.4 L262 246.6 L261.4 246.7 L260.8 247 L260.2 247.3 L259.5 247.5 L258.9 247.8 L258.3 248 L257.7 248.1 L257 248.1 L256.4 248.1 L255.8 248.1 L255.2 248.1 L254.5 248.1 L253.9 248.1 L253.3 248.1 L252.7 248.1 L252 248.1 L251.4 248.1 L250.8 248.1 L250.2 248.1 L249.5 248.1 L248.9 248.1 L248.3 248.1 L247.7 248.1 L247 248.1 L246.4 248.1 L245.8 248.1 L245.2 248.1 L244.5 248.1 L243.9 248.1 L243.3 248.1 L242.7 248.1 L242 248.1 L241.4 248.1 L240.8 248.1 L240.2 248.1 L239.5 248.1 L238.9 248.1 L238.3 248.1 L237.7 248.1 L237 248.1 L236.4 248.1 L235.8 248.1 L235.2 248.1 L234.5 248.1 L233.9 248.1 L233.3 248.1 L232.7 248.1 L232 248.1 L231.4 248.1 L230.8 248.1 L230.2 248.1 L229.5 248.1 L228.9 248.1 L228.3 248.1 L227.7 248.1 L227 248.1 L226.4 248.1 L225.8 248.1 L225.2 248.1 L224.5 248.1 L223.9 248.1 L223.3 248.1 L222.7 248.1 L222 248.1 L221.4 248.1 L220.8 248.1 L220.2 248.1 L219.5 248.1 L218.9 248.1 L218.3 248.1 L217.7 248.1 L217 248.1 L216.4 248.1 L215.8 248.1 L215.2 248.1 L214.5 248.1 L213.9 248.1 L213.3 248.1 L212.7 248.1 L212 248.1 L211.4 248.1 L210.8 248.1 L210.2 248.1 L209.5 248.1 L208.9 248.1 L208.3 248.1 L207.7 248.1 L207 248.1 L206.4 248.1 L205.8 248.1 L205.2 248.1 L204.5 248.1 L203.9 248.1 Z" fill="rgba(255,0,0,0.28)"/>
<path d="M279.8 164.1 V248.1" stroke="#0a0a0a" stroke-width="1.3" stroke-dasharray="8 4" fill="none"/>
<path d="M259.9 165.1 V248.1" stroke="#d810c8" stroke-width="1.2" stroke-dasharray="9.8 1.4 2.6 5.2" fill="none"/>
<path d="M250.2 248 L250.8 247.9 L251.4 247.6 L252 247.4 L252.7 247.2 L253.3 246.8 L253.9 246.4 L254.5 245.9 L255.2 245.4 L255.8 245 L256.4 244.5 L257 244 L257.7 243.4 L258.3 242.9 L258.9 242.5 L259.5 242 L260.2 241.6 L260.8 241.2 L261.4 240.8 L262 240.4 L262.7 240.2 L263.3 240.1 L263.9 240 L264.5 239.9 L265.2 239.9 L265.8 239.8 L266.4 239.9 L267 240.2 L267.7 240.5 L268.3 240.9 L268.9 241.3 L269.5 241.5 L270.2 241.8 L270.8 242 L271.4 242.2 L272 242.4 L272.7 242.5 L273.3 242.7 L273.9 242.7 L274.5 242.8 L275.2 242.9 L275.8 243 L276.4 243 L277 243.1 L277.7 243.2 L278.3 243.2 L278.9 243.3 L279.5 243.4 L280.2 243.4 L280.8 243.5 L281.4 243.6 L282 243.6 L282.7 243.7 L283.3 243.8 L283.9 243.8 L284.5 243.9 L285.2 244 L285.8 244.1 L286.4 244.2 L287 244.3 L287.7 244.4 L288.3 244.5 L288.9 244.6 L289.5 244.7 L290.2 244.8 L290.8 244.9 L291.4 245 L292 245.1 L292.7 245.2 L293.3 245.3 L293.9 245.4 L294.5 245.4 L295.2 245.5 L295.8 245.6 L296.4 245.6 L297 245.7 L297.7 245.7 L298.3 245.8 L298.9 245.8 L299.5 245.9 L300.2 245.9 L300.8 246 L301.4 246 L302 246 L302.7 246.1 L303.3 246.1 L303.9 246.2 L304.5 246.2 L305.2 246.2 L305.8 246.2 L306.4 246.3 L307 246.3 L307.7 246.3 L308.3 246.4 L308.9 246.4 L309.5 246.4 L310.2 246.4 L310.8 246.5 L311.4 246.5 L312 246.5 L312.7 246.5 L313.3 246.6 L313.9 246.6 L314.5 246.6 L315.2 246.7 L315.8 246.7 L316.4 246.7 L317 246.7 L317.7 246.7 L318.3 246.8 L318.9 246.8 L319.5 246.8 L320.2 246.8 L320.8 246.9 L321.4 246.9 L322 246.9 L322.7 246.9 L323.3 246.9 L323.9 246.9 L324.5 247 L325.2 247 L325.8 247 L326.4 247 L327 247 L327.7 247 L328.3 247.1" stroke="#f00" stroke-width="1.2" fill="none" stroke-linejoin="round"/>
<path d="M249.5 248 L250.2 247.7 L250.8 247.4 L251.4 247.1 L252 246.7 L252.7 246.2 L253.3 245.6 L253.9 244.9 L254.5 244.3 L255.2 243.7 L255.8 243 L256.4 242.4 L257 241.8 L257.7 241.3 L258.3 240.8 L258.9 240.3 L259.5 239.9 L260.2 239.5 L260.8 239.1 L261.4 238.6 L262 238.1 L262.7 237.5 L263.3 237 L263.9 236.4 L264.5 235.9 L265.2 235.5 L265.8 235.1 L266.4 234.7 L267 234.3 L267.7 234 L268.3 233.7 L268.9 233.3 L269.5 232.9 L270.2 232.6 L270.8 232.4 L271.4 232.3 L272 232.4 L272.7 232.5 L273.3 232.6 L273.9 232.8 L274.5 232.9 L275.2 233.1 L275.8 233.2 L276.4 233.3 L277 233.4 L277.7 233.4 L278.3 233.4 L278.9 233.3 L279.5 233.2 L280.2 233.2 L280.8 233.3 L281.4 233.5 L282 233.9 L282.7 234.5 L283.3 235 L283.9 235.5 L284.5 236 L285.2 236.4 L285.8 236.8 L286.4 237.2 L287 237.5 L287.7 237.9 L288.3 238.3 L288.9 238.7 L289.5 239 L290.2 239.4 L290.8 239.7 L291.4 240.1 L292 240.4 L292.7 240.7 L293.3 241 L293.9 241.4 L294.5 241.7 L295.2 241.9 L295.8 242.2 L296.4 242.5 L297 242.7 L297.7 242.9 L298.3 243.1 L298.9 243.3 L299.5 243.5 L300.2 243.7 L300.8 243.9 L301.4 244.1 L302 244.2 L302.7 244.3 L303.3 244.4 L303.9 244.4 L304.5 244.4 L305.2 244.4 L305.8 244.3 L306.4 244.3 L307 244.2 L307.7 244.1 L308.3 244.1 L308.9 244 L309.5 243.9 L310.2 243.8 L310.8 243.7 L311.4 243.6 L312 243.5 L312.7 243.4 L313.3 243.3 L313.9 243.2 L314.5 243.1 L315.2 243.1 L315.8 243.1 L316.4 243.2 L317 243.2 L317.7 243.3 L318.3 243.4 L318.9 243.6 L319.5 243.7 L320.2 243.8 L320.8 243.9 L321.4 244 L322 244.1 L322.7 244.2 L323.3 244.3 L323.9 244.4 L324.5 244.5 L325.2 244.6 L325.8 244.7 L326.4 244.8 L327 244.9 L327.7 245 L328.3 245.2" stroke="#00f" stroke-width="1.2" fill="none" stroke-linejoin="round"/>
<path d="M203.9 248.1 L204.5 248.1 L205.2 248.1 L205.8 248.1 L206.4 248.1 L207 248.1 L207.7 248.1 L208.3 248.1 L208.9 248.1 L209.5 248.1 L210.2 248.1 L210.8 248.1 L211.4 248.1 L212 248.1 L212.7 248.1 L213.3 248.1 L213.9 248.1 L214.5 248.1 L215.2 248.1 L215.8 248.1 L216.4 248.1 L217 248.1 L217.7 248.1 L218.3 248.1 L218.9 248.1 L219.5 248.1 L220.2 248.1 L220.8 248.1 L221.4 248.1 L222 248.1 L222.7 248.1 L223.3 248.1 L223.9 248.1 L224.5 248.1 L225.2 248.1 L225.8 248.1 L226.4 248.1 L227 248.1 L227.7 248.1 L228.3 248.1 L228.9 248.1 L229.5 248.1 L230.2 248.1 L230.8 248.1 L231.4 248.1 L232 248.1 L232.7 248.1 L233.3 248.1 L233.9 248.1 L234.5 248.1 L235.2 248.1 L235.8 248.1 L236.4 248.1 L237 248.1 L237.7 248.1 L238.3 248.1 L238.9 248.1 L239.5 248.1 L240.2 248.1 L240.8 248.1 L241.4 248.1 L242 248.1 L242.7 248.1 L243.3 248.1 L243.9 248.1 L244.5 248.1 L245.2 248.1 L245.8 248.1 L246.4 248.1 L247 248.1 L247.7 248.1 L248.3 248 L248.9 247.8 L249.5 247.5 L250.2 247.1 L250.8 246.7 L251.4 246.2 L252 245.3 L252.7 243.9 L253.3 242.4 L253.9 240.7 L254.5 239 L255.2 237.2 L255.8 235.2 L256.4 233.1 L257 230.7 L257.7 228 L258.3 225.2 L258.9 222.3 L259.5 219.2 L260.2 216 L260.8 213.4 L261.4 211.3 L262 209.6 L262.7 208.3 L263.3 207.1 L263.9 206.2 L264.5 205.7 L265.2 205.7 L265.8 205.6 L266.4 205.6 L267 205.6 L267.7 205.5 L268.3 205.5 L268.9 205.4 L269.5 205.3 L270.2 205.2 L270.8 205.2 L271.4 205.1 L272 205.1 L272.7 205.4 L273.3 206.2 L273.9 207 L274.5 207.8 L275.2 208.7 L275.8 209.8 L276.4 211.2 L277 213.2 L277.7 215.4 L278.3 217.7 L278.9 220.1 L279.5 222.7 L280.2 225.1 L280.8 227.4 L281.4 229.4 L282 231 L282.7 232.5 L283.3 233.6 L283.9 234.2 L284.5 234.7 L285.2 235.1 L285.8 235.4 L286.4 235.7 L287 236.1 L287.7 236.5 L288.3 236.9 L288.9 237.3 L289.5 237.7 L290.2 238.1 L290.8 238.5 L291.4 238.9 L292 239.3 L292.7 239.7 L293.3 240 L293.9 240.2 L294.5 240.3 L295.2 240.4 L295.8 240.5 L296.4 240.5 L297 240.5 L297.7 240.5 L298.3 240.4 L298.9 240.2 L299.5 240 L300.2 239.7 L300.8 239.5 L301.4 239.3 L302 239.1 L302.7 238.9 L303.3 238.9 L303.9 238.9 L304.5 238.9 L305.2 238.9 L305.8 238.9 L306.4 239 L307 239 L307.7 239 L308.3 239.1 L308.9 239.1 L309.5 239.2 L310.2 239.2 L310.8 239.3 L311.4 239.4 L312 239.4 L312.7 239.5 L313.3 239.6 L313.9 239.8 L314.5 239.9 L315.2 240.1 L315.8 240.4 L316.4 240.6 L317 240.9 L317.7 241.2 L318.3 241.4 L318.9 241.6 L319.5 241.8 L320.2 241.9 L320.8 242 L321.4 242.1 L322 242.2 L322.7 242.3 L323.3 242.3 L323.9 242.4 L324.5 242.5 L325.2 242.6 L325.8 242.7 L326.4 242.8 L327 242.9 L327.7 243 L328.3 243.1" stroke="#000" stroke-width="1.2" fill="none" stroke-linejoin="round"/>
</g>
<rect x="203.9" y="160.4" width="124.4" height="91.6" fill="none" stroke="#161616" stroke-width="1.4"/>
<path d="M203.9 252 v3.2 M235 252 v3.2 M266.1 252 v3.2 M297.2 252 v3.2 M328.3 252 v3.2 M203.9 248.1 h-3.2 M203.9 206.1 h-3.2 M203.9 164.2 h-3.2" stroke="#111" stroke-width="1" fill="none"/>
</g>
<g>
<clipPath id="cp5"><rect x="361.4" y="160.4" width="124.6" height="91.6"/></clipPath>
<path d="M392.5 160.4 V252 M423.7 160.4 V252 M454.9 160.4 V252 M361.4 248.1 H486 M361.4 192.1 H486" stroke="#000" stroke-width="0.85" stroke-dasharray="1.35 0.7" fill="none"/>
<g clip-path="url(#cp5)">
<path d="M361.4 248.1 L362 248.1 L362.7 248.1 L363.3 248.1 L363.9 248.1 L364.5 248.1 L365.2 248.1 L365.8 248.1 L366.4 248.1 L367 248.1 L367.7 247.8 L368.3 247.4 L368.9 246.7 L369.5 245.8 L370.2 246 L370.8 246.8 L371.4 247.3 L372 247.7 L372.7 248 L373.3 248.1 L373.9 248.1 L374.5 248.1 L375.2 248.1 L375.8 248.1 L376.4 248.1 L377.1 248.1 L377.7 248.1 L378.3 248.1 L378.9 248.1 L379.6 248.1 L380.2 248.1 L380.8 248.1 L381.4 248.1 L382.1 248.1 L382.7 248.1 L383.3 248.1 L383.9 248.1 L384.6 248.1 L385.2 248.1 L385.8 248.1 L386.4 248.1 L387.1 248.1 L387.7 248.1 L388.3 248.1 L388.9 248.1 L389.6 248.1 L390.2 248.1 L390.8 248.1 L391.5 248.1 L392.1 248.1 L392.7 248.1 L393.3 248.1 L394 248.1 L394.6 248.1 L395.2 248.1 L395.8 248.1 L396.5 248.1 L397.1 248.1 L397.7 248.1 L398.3 248.1 L399 248.1 L399.6 248.1 L400.2 248.1 L400.8 248.1 L401.5 248.1 L402.1 248.1 L402.7 248.1 L403.4 248.1 L404 248.1 L404.6 248.1 L405.2 248.1 L405.9 248.1 L406.5 248.1 L407.1 248.1 L407.7 248.1 L408.4 248.1 L409 248.1 L409.6 248.1 L410.2 248.1 L410.9 248.1 L411.5 248.1 L412.1 248.1 L412.7 248.1 L413.4 248 L414 247.4 L414.6 246.3 L415.2 239.5 L415.9 227 L416.5 214 L417.1 203.4 L417.8 199.8 L418.4 198.1 L419 196.9 L419.6 195.7 L420.3 194 L420.9 191.7 L421.5 188.9 L422.1 185.9 L422.8 184 L423.4 184.4 L424 189.3 L424.6 195.3 L425.3 198.1 L425.9 199.2 L426.5 199.2 L427.1 198.3 L427.8 197.6 L428.4 197.9 L429 199 L429.6 200.9 L430.3 203.5 L430.9 206.1 L431.5 207.9 L432.2 208.8 L432.8 209 L433.4 209.2 L434 210 L434.7 211.8 L435.3 214.1 L435.9 216.1 L436.5 217.7 L437.2 218.7 L437.8 219 L438.4 218.5 L439 217.7 L439.7 216.9 L440.3 216.7 L440.9 217.1 L441.5 218 L442.2 219 L442.8 219.7 L443.4 220 L444 219.8 L444.7 219.4 L445.3 219.1 L445.9 219.5 L446.6 220.4 L447.2 221.9 L447.8 223.6 L448.4 225.1 L449.1 226.1 L449.7 226.6 L450.3 226.7 L450.9 226.7 L451.6 226.8 L452.2 227.2 L452.8 228 L453.4 229 L454.1 229.8 L454.7 230.3 L455.3 230.2 L455.9 229.9 L456.6 229.5 L457.2 229.4 L457.8 229.7 L458.5 230.5 L459.1 231.5 L459.7 232.5 L460.3 233.1 L461 233.3 L461.6 233 L462.2 232.6 L462.8 232.2 L463.5 232.2 L464.1 232.5 L464.7 233 L465.3 233.6 L466 234 L466.6 234.1 L467.2 233.9 L467.8 233.7 L468.5 233.7 L469.1 234 L469.7 234.6 L470.3 235.5 L471 236.4 L471.6 237.1 L472.2 237.4 L472.9 237.4 L473.5 237.1 L474.1 236.8 L474.7 236.6 L475.4 236.7 L476 237 L476.6 237.3 L477.2 237.6 L477.9 237.6 L478.5 237.4 L479.1 237.1 L479.7 236.9 L480.4 236.8 L481 237.1 L481.6 237.6 L482.2 238.3 L482.9 238.8 L483.5 239.1 L484.1 239 L484.7 238.7 L485.4 238.2 L486 237.8 L486 241.6 L485.4 241.2 L484.7 240.7 L484.1 240.4 L483.5 240.3 L482.9 240.6 L482.2 241.1 L481.6 241.7 L481 242.2 L480.4 242.4 L479.7 242.2 L479.1 241.9 L478.5 241.4 L477.9 241.1 L477.2 240.9 L476.6 240.9 L476 241 L475.4 241 L474.7 240.8 L474.1 240.4 L473.5 239.8 L472.9 239.2 L472.2 238.8 L471.6 238.8 L471 239.2 L470.3 239.8 L469.7 240.3 L469.1 240.5 L468.5 240.3 L467.8 239.8 L467.2 239.2 L466.6 238.5 L466 238.1 L465.3 237.9 L464.7 237.9 L464.1 237.9 L463.5 237.7 L462.8 237.2 L462.2 236.5 L461.6 235.7 L461 235.1 L460.3 235 L459.7 235.4 L459.1 236.1 L458.5 236.9 L457.8 237.4 L457.2 237.6 L456.6 237.2 L455.9 236.6 L455.3 235.8 L454.7 235.2 L454.1 234.8 L453.4 234.6 L452.8 234.4 L452.2 234 L451.6 233.3 L450.9 232.1 L450.3 230.7 L449.7 229.3 L449.1 228.5 L448.4 228.3 L447.8 228.9 L447.2 229.7 L446.6 230.4 L445.9 230.6 L445.3 230.2 L444.7 229.3 L444 228.1 L443.4 227.1 L442.8 226.5 L442.2 226.3 L441.5 226.4 L440.9 226.2 L440.3 225.7 L439.7 224.7 L439 223.5 L438.4 222.5 L437.8 221.9 L437.2 222 L436.5 222.9 L435.9 224.1 L435.3 225 L434.7 224.8 L434 223.8 L433.4 222.2 L432.8 220.3 L432.2 218.4 L431.5 216.8 L430.9 215.4 L430.3 214.2 L429.6 213.1 L429 211.8 L428.4 209.7 L427.8 207.2 L427.1 205 L426.5 203.7 L425.9 203.5 L425.3 204.3 L424.6 205.3 L424 204.2 L423.4 203.4 L422.8 204.4 L422.1 205 L421.5 205.2 L420.9 205 L420.3 205.3 L419.6 206.4 L419 208.2 L418.4 210.4 L417.8 212.4 L417.1 214.8 L416.5 221.9 L415.9 231.2 L415.2 241 L414.6 246.7 L414 247.7 L413.4 248.1 L412.7 248.1 L412.1 248.1 L411.5 248.1 L410.9 248.1 L410.2 248.1 L409.6 248.1 L409 248.1 L408.4 248.1 L407.7 248.1 L407.1 248.1 L406.5 248.1 L405.9 248.1 L405.2 248.1 L404.6 248.1 L404 248.1 L403.4 248.1 L402.7 248.1 L402.1 248.1 L401.5 248.1 L400.8 248.1 L400.2 248.1 L399.6 248.1 L399 248.1 L398.3 248.1 L397.7 248.1 L397.1 248.1 L396.5 248.1 L395.8 248.1 L395.2 248.1 L394.6 248.1 L394 248.1 L393.3 248.1 L392.7 248.1 L392.1 248.1 L391.5 248.1 L390.8 248.1 L390.2 248.1 L389.6 248.1 L388.9 248.1 L388.3 248.1 L387.7 248.1 L387.1 248.1 L386.4 248.1 L385.8 248.1 L385.2 248.1 L384.6 248.1 L383.9 248.1 L383.3 248.1 L382.7 248.1 L382.1 248.1 L381.4 248.1 L380.8 248.1 L380.2 248.1 L379.6 248.1 L378.9 248.1 L378.3 248.1 L377.7 248.1 L377.1 248.1 L376.4 248.1 L375.8 248.1 L375.2 248.1 L374.5 248.1 L373.9 248.1 L373.3 248.1 L372.7 248.1 L372 248 L371.4 247.9 L370.8 247.6 L370.2 246.9 L369.5 246.5 L368.9 247.1 L368.3 247.6 L367.7 248 L367 248.1 L366.4 248.1 L365.8 248.1 L365.2 248.1 L364.5 248.1 L363.9 248.1 L363.3 248.1 L362.7 248.1 L362 248.1 L361.4 248.1 Z" fill="rgba(0,0,0,0.33)"/>
<path d="M361.4 248.1 L362 248.1 L362.7 248.1 L363.3 248.1 L363.9 248.1 L364.5 248.1 L365.2 248.1 L365.8 248.1 L366.4 248.1 L367 248.1 L367.7 248.1 L368.3 248.1 L368.9 248.1 L369.5 248.1 L370.2 248.1 L370.8 248.1 L371.4 248.1 L372 248.1 L372.7 248.1 L373.3 248.1 L373.9 248.1 L374.5 248.1 L375.2 248.1 L375.8 248.1 L376.4 248.1 L377.1 248.1 L377.7 248.1 L378.3 248.1 L378.9 248.1 L379.6 248.1 L380.2 248.1 L380.8 248.1 L381.4 248.1 L382.1 248.1 L382.7 248.1 L383.3 248.1 L383.9 248.1 L384.6 248.1 L385.2 248.1 L385.8 248.1 L386.4 248.1 L387.1 248.1 L387.7 248.1 L388.3 248.1 L388.9 248.1 L389.6 248.1 L390.2 248.1 L390.8 248.1 L391.5 248.1 L392.1 248.1 L392.7 248.1 L393.3 248.1 L394 248.1 L394.6 248.1 L395.2 248.1 L395.8 248.1 L396.5 248.1 L397.1 248.1 L397.7 248.1 L398.3 248.1 L399 248.1 L399.6 248.1 L400.2 248.1 L400.8 248.1 L401.5 248.1 L402.1 248.1 L402.7 248.1 L403.4 248.1 L404 248.1 L404.6 248.1 L405.2 248.1 L405.9 248.1 L406.5 248.1 L407.1 248.1 L407.7 248.1 L408.4 248.1 L409 248.1 L409.6 248.1 L410.2 248.1 L410.9 248.1 L411.5 248.1 L412.1 248.1 L412.7 248.1 L413.4 248.1 L414 247.9 L414.6 247.3 L415.2 245.8 L415.9 240.7 L416.5 234.6 L417.1 229.1 L417.8 224.5 L418.4 222.8 L419 222.3 L419.6 221.9 L420.3 221.2 L420.9 219.8 L421.5 218.1 L422.1 216.5 L422.8 215.9 L423.4 217.6 L424 221.2 L424.6 224.5 L425.3 226.7 L425.9 228.1 L426.5 228.1 L427.1 227.4 L427.8 226.4 L428.4 225.5 L429 225.1 L429.6 225.2 L430.3 225.8 L430.9 226.6 L431.5 227.2 L432.2 227.4 L432.8 227.1 L433.4 226.7 L434 226.6 L434.7 227.2 L435.3 228.4 L435.9 230 L436.5 231.9 L437.2 233.5 L437.8 234.6 L438.4 235.1 L439 235.3 L439.7 235.3 L440.3 235.5 L440.9 236.1 L441.5 236.6 L442.2 236.7 L442.8 236 L443.4 234.9 L444 233.8 L444.7 233.2 L445.3 232.9 L445.9 233.1 L446.6 233.8 L447.2 234.9 L447.8 236.2 L448.4 237.5 L449.1 238.3 L449.7 238.7 L450.3 238.8 L450.9 238.6 L451.6 238.4 L452.2 238.4 L452.8 238.7 L453.4 239 L454.1 239.3 L454.7 239.4 L455.3 239.3 L455.9 239.1 L456.6 238.9 L457.2 239 L457.8 239.3 L458.5 240 L459.1 240.8 L459.7 241.5 L460.3 241.9 L461 241.9 L461.6 241.6 L462.2 241.2 L462.8 240.8 L463.5 240.5 L464.1 240.6 L464.7 240.7 L465.3 240.9 L466 241 L466.6 240.8 L467.2 240.5 L467.8 240.2 L468.5 240.1 L469.1 240.2 L469.7 240.7 L470.3 241.3 L471 242 L471.6 242.6 L472.2 242.8 L472.9 242.7 L473.5 242.5 L474.1 242.2 L474.7 242.1 L475.4 242.1 L476 242.3 L476.6 242.6 L477.2 242.8 L477.9 242.8 L478.5 242.7 L479.1 242.5 L479.7 242.4 L480.4 242.4 L481 242.6 L481.6 243.1 L482.2 243.6 L482.9 244 L483.5 244.3 L484.1 244.3 L484.7 244.1 L485.4 243.9 L486 243.7 L486 246.1 L485.4 245.8 L484.7 245.5 L484.1 245.2 L483.5 245.1 L482.9 245.3 L482.2 245.6 L481.6 246 L481 246.3 L480.4 246.4 L479.7 246.3 L479.1 246 L478.5 245.6 L477.9 245.4 L477.2 245.3 L476.6 245.3 L476 245.4 L475.4 245.4 L474.7 245.3 L474.1 245 L473.5 244.5 L472.9 244.1 L472.2 243.9 L471.6 243.9 L471 244.2 L470.3 244.6 L469.7 245.1 L469.1 245.3 L468.5 245.2 L467.8 244.9 L467.2 244.5 L466.6 244.2 L466 244 L465.3 244.1 L464.7 244.3 L464.1 244.5 L463.5 244.5 L462.8 244.2 L462.2 243.8 L461.6 243.4 L461 243.1 L460.3 243.1 L459.7 243.4 L459.1 243.9 L458.5 244.4 L457.8 244.7 L457.2 244.7 L456.6 244.4 L455.9 243.9 L455.3 243.4 L454.7 243.1 L454.1 242.9 L453.4 243 L452.8 243.2 L452.2 243.2 L451.6 242.9 L450.9 242.3 L450.3 241.5 L449.7 240.6 L449.1 240 L448.4 239.8 L447.8 240.1 L447.2 240.7 L446.6 241.3 L445.9 241.5 L445.3 241.3 L444.7 240.7 L444 240.1 L443.4 240.1 L442.8 240.6 L442.2 241.3 L441.5 241.7 L440.9 241.7 L440.3 241.2 L439.7 240.3 L439 239.2 L438.4 237.9 L437.8 236.7 L437.2 236 L436.5 236 L435.9 236.6 L435.3 237.3 L434.7 237.8 L434 237.7 L433.4 237 L432.8 236 L432.2 234.9 L431.5 234.1 L430.9 233.7 L430.3 233.8 L429.6 234.1 L429 234.2 L428.4 233.7 L427.8 232.9 L427.1 231.9 L426.5 231.2 L425.9 231 L425.3 231 L424.6 231.5 L424 231.6 L423.4 231.2 L422.8 231 L422.1 230.9 L421.5 230.4 L420.9 229.9 L420.3 229.7 L419.6 230 L419 230.9 L418.4 232.1 L417.8 233.8 L417.1 236.7 L416.5 239.6 L415.9 243.2 L415.2 246.5 L414.6 247.5 L414 248 L413.4 248.1 L412.7 248.1 L412.1 248.1 L411.5 248.1 L410.9 248.1 L410.2 248.1 L409.6 248.1 L409 248.1 L408.4 248.1 L407.7 248.1 L407.1 248.1 L406.5 248.1 L405.9 248.1 L405.2 248.1 L404.6 248.1 L404 248.1 L403.4 248.1 L402.7 248.1 L402.1 248.1 L401.5 248.1 L400.8 248.1 L400.2 248.1 L399.6 248.1 L399 248.1 L398.3 248.1 L397.7 248.1 L397.1 248.1 L396.5 248.1 L395.8 248.1 L395.2 248.1 L394.6 248.1 L394 248.1 L393.3 248.1 L392.7 248.1 L392.1 248.1 L391.5 248.1 L390.8 248.1 L390.2 248.1 L389.6 248.1 L388.9 248.1 L388.3 248.1 L387.7 248.1 L387.1 248.1 L386.4 248.1 L385.8 248.1 L385.2 248.1 L384.6 248.1 L383.9 248.1 L383.3 248.1 L382.7 248.1 L382.1 248.1 L381.4 248.1 L380.8 248.1 L380.2 248.1 L379.6 248.1 L378.9 248.1 L378.3 248.1 L377.7 248.1 L377.1 248.1 L376.4 248.1 L375.8 248.1 L375.2 248.1 L374.5 248.1 L373.9 248.1 L373.3 248.1 L372.7 248.1 L372 248.1 L371.4 248.1 L370.8 248.1 L370.2 248.1 L369.5 248.1 L368.9 248.1 L368.3 248.1 L367.7 248.1 L367 248.1 L366.4 248.1 L365.8 248.1 L365.2 248.1 L364.5 248.1 L363.9 248.1 L363.3 248.1 L362.7 248.1 L362 248.1 L361.4 248.1 Z" fill="rgba(0,0,255,0.28)"/>
<path d="M361.4 248.1 L362 248.1 L362.7 248.1 L363.3 248.1 L363.9 248.1 L364.5 248.1 L365.2 248.1 L365.8 248.1 L366.4 248.1 L367 248.1 L367.7 248.1 L368.3 248.1 L368.9 248.1 L369.5 248.1 L370.2 248.1 L370.8 248.1 L371.4 248.1 L372 248.1 L372.7 248.1 L373.3 248.1 L373.9 248.1 L374.5 248.1 L375.2 248.1 L375.8 248.1 L376.4 248.1 L377.1 248.1 L377.7 248.1 L378.3 248.1 L378.9 248.1 L379.6 248.1 L380.2 248.1 L380.8 248.1 L381.4 248.1 L382.1 248.1 L382.7 248.1 L383.3 248.1 L383.9 248.1 L384.6 248.1 L385.2 248.1 L385.8 248.1 L386.4 248.1 L387.1 248.1 L387.7 248.1 L388.3 248.1 L388.9 248.1 L389.6 248.1 L390.2 248.1 L390.8 248.1 L391.5 248.1 L392.1 248.1 L392.7 248.1 L393.3 248.1 L394 248.1 L394.6 248.1 L395.2 248.1 L395.8 248.1 L396.5 248.1 L397.1 248.1 L397.7 248.1 L398.3 248.1 L399 248.1 L399.6 248.1 L400.2 248.1 L400.8 248.1 L401.5 248.1 L402.1 248.1 L402.7 248.1 L403.4 248.1 L404 248.1 L404.6 248.1 L405.2 248.1 L405.9 248.1 L406.5 248.1 L407.1 248.1 L407.7 248.1 L408.4 248.1 L409 248.1 L409.6 248.1 L410.2 248.1 L410.9 248.1 L411.5 248.1 L412.1 248.1 L412.7 248.1 L413.4 248.1 L414 248 L414.6 247.6 L415.2 246.9 L415.9 245 L416.5 242 L417.1 240.3 L417.8 239.3 L418.4 238.7 L419 238.5 L419.6 238.4 L420.3 238.3 L420.9 238 L421.5 237.6 L422.1 237.3 L422.8 237 L423.4 237 L424 237.1 L424.6 237.4 L425.3 237.6 L425.9 237.7 L426.5 237.5 L427.1 237.2 L427.8 237.1 L428.4 237.4 L429 238 L429.6 238.6 L430.3 239.3 L430.9 240 L431.5 240.5 L432.2 240.9 L432.8 240.9 L433.4 241 L434 241.1 L434.7 241.3 L435.3 241.6 L435.9 242.1 L436.5 242.5 L437.2 242.8 L437.8 243 L438.4 243 L439 242.9 L439.7 242.8 L440.3 242.8 L440.9 242.9 L441.5 243.1 L442.2 243.3 L442.8 243.4 L443.4 243.5 L444 243.4 L444.7 243.3 L445.3 243.3 L445.9 243.4 L446.6 243.6 L447.2 243.8 L447.8 244.1 L448.4 244.4 L449.1 244.6 L449.7 244.6 L450.3 244.5 L450.9 244.4 L451.6 244.3 L452.2 244.3 L452.8 244.4 L453.4 244.6 L454.1 244.7 L454.7 244.7 L455.3 244.7 L455.9 244.6 L456.6 244.5 L457.2 244.5 L457.8 244.6 L458.5 244.8 L459.1 245 L459.7 245.2 L460.3 245.4 L461 245.4 L461.6 245.4 L462.2 245.3 L462.8 245.2 L463.5 245.2 L464.1 245.2 L464.7 245.3 L465.3 245.4 L466 245.5 L466.6 245.5 L467.2 245.4 L467.8 245.3 L468.5 245.3 L469.1 245.3 L469.7 245.5 L470.3 245.7 L471 245.8 L471.6 246 L472.2 246 L472.9 246 L473.5 246 L474.1 245.9 L474.7 245.8 L475.4 245.8 L476 245.9 L476.6 246 L477.2 246 L477.9 246 L478.5 246 L479.1 245.9 L479.7 245.9 L480.4 245.9 L481 246 L481.6 246.1 L482.2 246.2 L482.9 246.4 L483.5 246.4 L484.1 246.5 L484.7 246.4 L485.4 246.3 L486 246.3 L486 247 L485.4 246.9 L484.7 246.8 L484.1 246.7 L483.5 246.7 L482.9 246.8 L482.2 246.9 L481.6 247 L481 247.1 L480.4 247.1 L479.7 247.1 L479.1 247 L478.5 246.9 L477.9 246.8 L477.2 246.8 L476.6 246.8 L476 246.8 L475.4 246.8 L474.7 246.8 L474.1 246.7 L473.5 246.5 L472.9 246.4 L472.2 246.4 L471.6 246.4 L471 246.5 L470.3 246.6 L469.7 246.7 L469.1 246.8 L468.5 246.8 L467.8 246.7 L467.2 246.5 L466.6 246.4 L466 246.3 L465.3 246.3 L464.7 246.4 L464.1 246.4 L463.5 246.4 L462.8 246.3 L462.2 246.1 L461.6 245.9 L461 245.8 L460.3 245.8 L459.7 245.9 L459.1 246 L458.5 246.2 L457.8 246.3 L457.2 246.3 L456.6 246.2 L455.9 246.1 L455.3 245.9 L454.7 245.8 L454.1 245.7 L453.4 245.8 L452.8 245.8 L452.2 245.8 L451.6 245.7 L450.9 245.5 L450.3 245.3 L449.7 245.1 L449.1 245 L448.4 245 L447.8 245.2 L447.2 245.3 L446.6 245.5 L445.9 245.5 L445.3 245.5 L444.7 245.3 L444 245.1 L443.4 244.9 L442.8 244.7 L442.2 244.7 L441.5 244.7 L440.9 244.7 L440.3 244.6 L439.7 244.4 L439 244.1 L438.4 243.8 L437.8 243.6 L437.2 243.5 L436.5 243.6 L435.9 243.8 L435.3 244 L434.7 244.1 L434 244 L433.4 243.7 L432.8 243.3 L432.2 242.9 L431.5 242.5 L430.9 242 L430.3 241.7 L429.6 241.4 L429 240.9 L428.4 240.2 L427.8 239.4 L427.1 238.8 L426.5 238.6 L425.9 238.7 L425.3 239.1 L424.6 239.7 L424 240.3 L423.4 240.8 L422.8 241.1 L422.1 241.1 L421.5 241 L420.9 240.8 L420.3 240.7 L419.6 240.7 L419 240.9 L418.4 241.3 L417.8 241.9 L417.1 242.6 L416.5 243.7 L415.9 245.7 L415.2 247.2 L414.6 247.7 L414 248.1 L413.4 248.1 L412.7 248.1 L412.1 248.1 L411.5 248.1 L410.9 248.1 L410.2 248.1 L409.6 248.1 L409 248.1 L408.4 248.1 L407.7 248.1 L407.1 248.1 L406.5 248.1 L405.9 248.1 L405.2 248.1 L404.6 248.1 L404 248.1 L403.4 248.1 L402.7 248.1 L402.1 248.1 L401.5 248.1 L400.8 248.1 L400.2 248.1 L399.6 248.1 L399 248.1 L398.3 248.1 L397.7 248.1 L397.1 248.1 L396.5 248.1 L395.8 248.1 L395.2 248.1 L394.6 248.1 L394 248.1 L393.3 248.1 L392.7 248.1 L392.1 248.1 L391.5 248.1 L390.8 248.1 L390.2 248.1 L389.6 248.1 L388.9 248.1 L388.3 248.1 L387.7 248.1 L387.1 248.1 L386.4 248.1 L385.8 248.1 L385.2 248.1 L384.6 248.1 L383.9 248.1 L383.3 248.1 L382.7 248.1 L382.1 248.1 L381.4 248.1 L380.8 248.1 L380.2 248.1 L379.6 248.1 L378.9 248.1 L378.3 248.1 L377.7 248.1 L377.1 248.1 L376.4 248.1 L375.8 248.1 L375.2 248.1 L374.5 248.1 L373.9 248.1 L373.3 248.1 L372.7 248.1 L372 248.1 L371.4 248.1 L370.8 248.1 L370.2 248.1 L369.5 248.1 L368.9 248.1 L368.3 248.1 L367.7 248.1 L367 248.1 L366.4 248.1 L365.8 248.1 L365.2 248.1 L364.5 248.1 L363.9 248.1 L363.3 248.1 L362.7 248.1 L362 248.1 L361.4 248.1 Z" fill="rgba(255,0,0,0.28)"/>
<path d="M369.7 163.7 V248.1" stroke="#0a0a0a" stroke-width="1.3" stroke-dasharray="8 4" fill="none"/>
<path d="M417.2 163.1 V248.1" stroke="#d810c8" stroke-width="1.2" stroke-dasharray="9.8 1.4 2.6 5.2" fill="none"/>
<path d="M414 248.1 L414.6 247.7 L415.2 246.9 L415.9 245.3 L416.5 243.5 L417.1 242.2 L417.8 240.6 L418.4 239.3 L419 239.1 L419.6 239.6 L420.3 239.6 L420.9 238.7 L421.5 238.9 L422.1 239.1 L422.8 239.3 L423.4 240 L424 239.5 L424.6 238.5 L425.3 237.8 L425.9 237.1 L426.5 237.9 L427.1 239.1 L427.8 239 L428.4 238.8 L429 239.7 L429.6 241.1 L430.3 241.6 L430.9 241.1 L431.5 241.2 L432.2 242.2 L432.8 242.5 L433.4 242.6 L434 243.5 L434.7 243 L435.3 242 L435.9 242.5 L436.5 243.3 L437.2 243.4 L437.8 243.2 L438.4 243.6 L439 243.7 L439.7 243.7 L440.3 243.9 L440.9 244 L441.5 244.4 L442.2 244.6 L442.8 244.3 L443.4 244.2 L444 244 L444.7 243.9 L445.3 244.4 L445.9 244.8 L446.6 244.9 L447.2 244.7 L447.8 244.5 L448.4 244.6 L449.1 244.7 L449.7 245 L450.3 245.1 L450.9 245 L451.6 245.2 L452.2 245 L452.8 244.8 L453.4 245.3 L454.1 245.7 L454.7 245.9 L455.3 246 L455.9 246 L456.6 245.8 L457.2 245.6 L457.8 245.2 L458.5 244.9 L459.1 245.1 L459.7 245.3 L460.3 245.5 L461 245.8 L461.6 246.2 L462.2 246.4 L462.8 245.7 L463.5 245.2 L464.1 245.5 L464.7 245.7 L465.3 245.5 L466 245.9 L466.6 246.4 L467.2 246.5 L467.8 246.5 L468.5 246 L469.1 245.6 L469.7 246 L470.3 246.5 L471 246.5 L471.6 246.6 L472.2 246.7 L472.9 246.3 L473.5 246 L474.1 246 L474.7 246.3 L475.4 246.8 L476 246.8 L476.6 246.1 L477.2 246.1 L477.9 246.6 L478.5 246.6 L479.1 246.4 L479.7 246.3 L480.4 246.4 L481 246.6 L481.6 246.5 L482.2 246.5 L482.9 246.8 L483.5 247.4 L484.1 247.6 L484.7 247.4 L485.4 247.1 L486 246.8" stroke="#f00" stroke-width="1.2" fill="none" stroke-linejoin="round"/>
<path d="M414 247.9 L414.6 247.4 L415.2 246.4 L415.9 242.5 L416.5 237.5 L417.1 232.9 L417.8 229.9 L418.4 228.3 L419 226.1 L419.6 225.1 L420.3 224.9 L420.9 224.2 L421.5 223.2 L422.1 222.8 L422.8 222.6 L423.4 223.3 L424 225.3 L424.6 227.3 L425.3 228.8 L425.9 229.6 L426.5 230.4 L427.1 230.6 L427.8 230 L428.4 229.8 L429 229.9 L429.6 229.6 L430.3 229.2 L430.9 230 L431.5 231.2 L432.2 231.1 L432.8 231.2 L433.4 231.8 L434 231.5 L434.7 231.1 L435.3 231.9 L435.9 233.2 L436.5 234 L437.2 234.9 L437.8 236.8 L438.4 238.2 L439 238.3 L439.7 238 L440.3 237.8 L440.9 238.6 L441.5 239.6 L442.2 239.5 L442.8 238.5 L443.4 237.8 L444 237.3 L444.7 237 L445.3 237 L445.9 237.1 L446.6 237.1 L447.2 236.8 L447.8 237.5 L448.4 238.4 L449.1 238.4 L449.7 238.9 L450.3 239.8 L450.9 240.4 L451.6 240.6 L452.2 240.6 L452.8 240.7 L453.4 240.6 L454.1 240.9 L454.7 241.4 L455.3 241.4 L455.9 241.1 L456.6 241.3 L457.2 241.8 L457.8 242.1 L458.5 242.4 L459.1 242.9 L459.7 242.7 L460.3 242.2 L461 242.3 L461.6 242.6 L462.2 242.5 L462.8 241.9 L463.5 241.8 L464.1 242.2 L464.7 242.4 L465.3 242.3 L466 241.9 L466.6 242 L467.2 242.4 L467.8 242.2 L468.5 242.3 L469.1 242.5 L469.7 242.8 L470.3 243.2 L471 243.2 L471.6 243.1 L472.2 243.4 L472.9 243.4 L473.5 243.1 L474.1 243.4 L474.7 243.9 L475.4 243.9 L476 243.6 L476.6 243.5 L477.2 243.7 L477.9 244 L478.5 244.5 L479.1 244.6 L479.7 244.4 L480.4 244.3 L481 244.5 L481.6 244.5 L482.2 244.2 L482.9 244.4 L483.5 244.6 L484.1 244.4 L484.7 244.5 L485.4 245 L486 245.5" stroke="#00f" stroke-width="1.2" fill="none" stroke-linejoin="round"/>
<path d="M361.4 248.1 L362 248.1 L362.7 248.1 L363.3 248.1 L363.9 248.1 L364.5 248.1 L365.2 248.1 L365.8 248.1 L366.4 248.1 L367 248.1 L367.7 247.9 L368.3 247.5 L368.9 246.8 L369.5 246 L370.2 246.3 L370.8 247.2 L371.4 247.6 L372 247.9 L372.7 248.1 L373.3 248.1 L373.9 248.1 L374.5 248.1 L375.2 248.1 L375.8 248.1 L376.4 248.1 L377.1 248.1 L377.7 248.1 L378.3 248.1 L378.9 248.1 L379.6 248.1 L380.2 248.1 L380.8 248.1 L381.4 248.1 L382.1 248.1 L382.7 248.1 L383.3 248.1 L383.9 248.1 L384.6 248.1 L385.2 248.1 L385.8 248.1 L386.4 248.1 L387.1 248.1 L387.7 248.1 L388.3 248.1 L388.9 248.1 L389.6 248.1 L390.2 248.1 L390.8 248.1 L391.5 248.1 L392.1 248.1 L392.7 248.1 L393.3 248.1 L394 248.1 L394.6 248.1 L395.2 248.1 L395.8 248.1 L396.5 248.1 L397.1 248.1 L397.7 248.1 L398.3 248.1 L399 248.1 L399.6 248.1 L400.2 248.1 L400.8 248.1 L401.5 248.1 L402.1 248.1 L402.7 248.1 L403.4 248.1 L404 248.1 L404.6 248.1 L405.2 248.1 L405.9 248.1 L406.5 248.1 L407.1 248.1 L407.7 248.1 L408.4 248.1 L409 248.1 L409.6 248.1 L410.2 248.1 L410.9 248.1 L411.5 248.1 L412.1 248.1 L412.7 248.1 L413.4 248 L414 247.4 L414.6 246.3 L415.2 239.9 L415.9 229 L416.5 217.8 L417.1 208.7 L417.8 206.2 L418.4 204.5 L419 202.5 L419.6 201.1 L420.3 199.3 L420.9 197.6 L421.5 196.6 L422.1 195.1 L422.8 193.3 L423.4 193.6 L424 197.8 L424.6 201.2 L425.3 200.7 L425.9 201.3 L426.5 202.9 L427.1 203 L427.8 203 L428.4 204.2 L429 205.4 L429.6 206.7 L430.3 208.9 L430.9 211.1 L431.5 211.8 L432.2 212.6 L432.8 214.2 L433.4 215 L434 216 L434.7 217.8 L435.3 219.7 L435.9 220.8 L436.5 220.7 L437.2 220 L437.8 219.5 L438.4 219.5 L439 219.7 L439.7 220.3 L440.3 221.4 L440.9 222.3 L441.5 222.2 L442.2 222.3 L442.8 223.3 L443.4 224.3 L444 224.8 L444.7 225 L445.3 225.1 L445.9 225.4 L446.6 225.6 L447.2 225.7 L447.8 225.8 L448.4 226.3 L449.1 227.9 L449.7 228.8 L450.3 228.5 L450.9 228.4 L451.6 229.2 L452.2 230.1 L452.8 230.9 L453.4 231.8 L454.1 232.8 L454.7 233 L455.3 233.1 L455.9 233 L456.6 233.1 L457.2 233.7 L457.8 233.8 L458.5 233.5 L459.1 234 L459.7 234.6 L460.3 234.8 L461 234.4 L461.6 233.9 L462.2 234.1 L462.8 234.6 L463.5 234.9 L464.1 235 L464.7 235.4 L465.3 236.1 L466 236.3 L466.6 236.1 L467.2 236.2 L467.8 236.5 L468.5 236.6 L469.1 236.7 L469.7 237.5 L470.3 237.9 L471 237.6 L471.6 237.7 L472.2 238 L472.9 238.3 L473.5 238.4 L474.1 238.5 L474.7 238.6 L475.4 238.8 L476 239.3 L476.6 239.4 L477.2 239.4 L477.9 239.3 L478.5 239.3 L479.1 239.5 L479.7 239.6 L480.4 239.7 L481 239.9 L481.6 240.3 L482.2 240.3 L482.9 240.1 L483.5 239.9 L484.1 239.6 L484.7 239.4 L485.4 239.2 L486 239.2" stroke="#000" stroke-width="1.2" fill="none" stroke-linejoin="round"/>
</g>
<rect x="361.4" y="160.4" width="124.6" height="91.6" fill="none" stroke="#161616" stroke-width="1.4"/>
<path d="M361.4 252 v3.2 M392.5 252 v3.2 M423.7 252 v3.2 M454.9 252 v3.2 M486 252 v3.2 M361.4 248.1 h-3.2 M361.4 192.1 h-3.2" stroke="#111" stroke-width="1" fill="none"/>
</g>
<text x="41.9" y="118.6" font-size="19.6" text-anchor="end">0</text>
<text x="41.9" y="76.9" font-size="19.6" text-anchor="end">1</text>
<text x="41.9" y="35.1" font-size="19.6" text-anchor="end">2</text>
<text x="198.6" y="118.6" font-size="19.6" text-anchor="end">0</text>
<text x="198.6" y="76.9" font-size="19.6" text-anchor="end">1</text>
<text x="198.6" y="35.1" font-size="19.6" text-anchor="end">2</text>
<text x="355.2" y="118.6" font-size="19.6" text-anchor="end">0</text>
<text x="355.2" y="62.9" font-size="19.6" text-anchor="end">1</text>
<text x="41.9" y="253.4" font-size="19.6" text-anchor="end">0</text>
<text x="41.9" y="211.4" font-size="19.6" text-anchor="end">1</text>
<text x="41.9" y="169.5" font-size="19.6" text-anchor="end">2</text>
<text x="198.6" y="253.4" font-size="19.6" text-anchor="end">0</text>
<text x="198.6" y="211.4" font-size="19.6" text-anchor="end">1</text>
<text x="198.6" y="169.5" font-size="19.6" text-anchor="end">2</text>
<text x="355.2" y="253.4" font-size="19.6" text-anchor="end">0</text>
<text x="355.2" y="197.4" font-size="19.6" text-anchor="end">1</text>
<text x="44.1" y="271.3" font-size="19.6" text-anchor="middle">0</text>
<text x="76.4" y="271.3" font-size="19.6" text-anchor="middle">5</text>
<text x="106.4" y="271.3" font-size="19.6" text-anchor="middle">10</text>
<text x="134.5" y="271.3" font-size="19.6" text-anchor="middle">15</text>
<text x="165.5" y="271.3" font-size="19.6" text-anchor="middle">20</text>
<text x="203.4" y="271.3" font-size="19.6" text-anchor="middle">0</text>
<text x="233.4" y="271.3" font-size="19.6" text-anchor="middle">5</text>
<text x="265.7" y="271.3" font-size="19.6" text-anchor="middle">10</text>
<text x="294.1" y="271.3" font-size="19.6" text-anchor="middle">15</text>
<text x="325.1" y="271.3" font-size="19.6" text-anchor="middle">20</text>
<text x="364.9" y="271.3" font-size="19.6" text-anchor="middle">0</text>
<text x="394.8" y="271.3" font-size="19.6" text-anchor="middle">5</text>
<text x="420.9" y="271.3" font-size="19.6" text-anchor="middle">10</text>
<text x="455.2" y="271.3" font-size="19.6" text-anchor="middle">15</text>
<text x="486.6" y="271.3" font-size="19.6" text-anchor="middle">20</text>
<text x="48.2" y="23.6" font-size="18.7">1e<tspan dy="-6.6" font-size="11.3">-4</tspan></text>
<text x="204.9" y="23.6" font-size="18.7">1e<tspan dy="-6.6" font-size="11.3">-4</tspan></text>
<text x="362.4" y="23.6" font-size="18.7">1e<tspan dy="-6.6" font-size="11.3">-4</tspan></text>
<text x="48.2" y="158.2" font-size="18.7">1e<tspan dy="-6.6" font-size="11.3">-4</tspan></text>
<text x="204.9" y="158.2" font-size="18.7">1e<tspan dy="-6.6" font-size="11.3">-4</tspan></text>
<text x="362.4" y="158.2" font-size="18.7">1e<tspan dy="-6.6" font-size="11.3">-4</tspan></text>
<text x="87.1" y="12.5" font-size="18" font-style="italic">B</text>
<text x="99.6" y="19" font-size="10.8" font-style="italic" textLength="43.6" lengthAdjust="spacingAndGlyphs">SS,LI,HM</text>
<text x="245.9" y="12.5" font-size="18" font-style="italic">B</text>
<text x="257.6" y="19" font-size="10.8" font-style="italic" textLength="48.8" lengthAdjust="spacingAndGlyphs">MS,MI,LM</text>
<text x="408.2" y="12.5" font-size="18" font-style="italic">B</text>
<text x="420.2" y="19" font-size="10.8" font-style="italic" textLength="46.2" lengthAdjust="spacingAndGlyphs">LS,HI,HM</text>
<text x="84.7" y="149.5" font-size="18" font-style="italic">B</text>
<text x="96.8" y="155.7" font-size="10.8" font-style="italic" textLength="44.5" lengthAdjust="spacingAndGlyphs">SS,MI,LM</text>
<text x="244" y="149.5" font-size="18" font-style="italic">B</text>
<text x="256" y="155.7" font-size="10.8" font-style="italic" textLength="45.2" lengthAdjust="spacingAndGlyphs">LS,LI,MM</text>
<text x="302.6" y="142.3" font-size="11">*</text>
<text x="405.8" y="149.5" font-size="18" font-style="italic">B</text>
<text x="417.8" y="155.7" font-size="10.8" font-style="italic" textLength="49" lengthAdjust="spacingAndGlyphs">LS,MI,MM</text>
<text x="193.4" y="298" font-size="22" textLength="141" lengthAdjust="spacingAndGlyphs">Frequency (Hz)</text>
<text transform="translate(15.9 197) rotate(-90)" font-size="22.5" textLength="142" lengthAdjust="spacingAndGlyphs">PSD Amplitude</text>
<rect x="496.4" y="42.5" width="187.8" height="191.2" rx="5.5" ry="5.5" fill="#fff" stroke="#d4d4d4" stroke-width="0.95"/>
<path d="M503 56.1 H541.3" stroke="#f00" stroke-width="0.95"/>
<path d="M503 94 H541.3" stroke="#00f" stroke-width="0.95"/>
<path d="M503 134.2 H541.3" stroke="#000" stroke-width="1.05"/>
<path d="M503 173.2 H541.3" stroke="#0a0a0a" stroke-width="1.3" stroke-dasharray="7.6 2.6"/>
<path d="M503 213.3 H541.3" stroke="#dd10cc" stroke-width="1.2" stroke-dasharray="8.5 1.4 3.4 5.7 13.7 1.4 4.3 10"/>
<text x="548" y="61.6" font-size="20">G<tspan dy="6.8" font-size="11" font-weight="bold">d</tspan><tspan dy="-6.8"> = 0.002e</tspan><tspan dy="-6.6" font-size="11.5" font-weight="bold">-6</tspan><tspan dy="6.6" dx="-0.8"> m</tspan><tspan dy="-6.6" font-size="11.5" font-weight="bold">3</tspan></text>
<text x="548" y="99.5" font-size="20">G<tspan dy="6.8" font-size="11" font-weight="bold">d</tspan><tspan dy="-6.8"> = 0.005e</tspan><tspan dy="-6.6" font-size="11.5" font-weight="bold">-6</tspan><tspan dy="6.6" dx="-0.8"> m</tspan><tspan dy="-6.6" font-size="11.5" font-weight="bold">3</tspan></text>
<text x="548" y="139.7" font-size="20">G<tspan dy="6.8" font-size="11" font-weight="bold">d</tspan><tspan dy="-6.8"> = 0.01e</tspan><tspan dy="-6.6" font-size="11.5" font-weight="bold">-6</tspan><tspan dy="6.6" dx="-0.8"> m</tspan><tspan dy="-6.6" font-size="11.5" font-weight="bold">3</tspan></text>
<text transform="translate(551.6 179.2) skewX(-16)" font-size="20.5" font-style="italic">f</text>
<text x="558.9" y="185.2" font-size="12" font-style="italic">b</text>
<text transform="translate(551.6 219.3) skewX(-16)" font-size="20.5" font-style="italic">f</text>
<text x="558.9" y="225.3" font-size="12" font-style="italic">vel</text>
</svg>
</body>
</html>
